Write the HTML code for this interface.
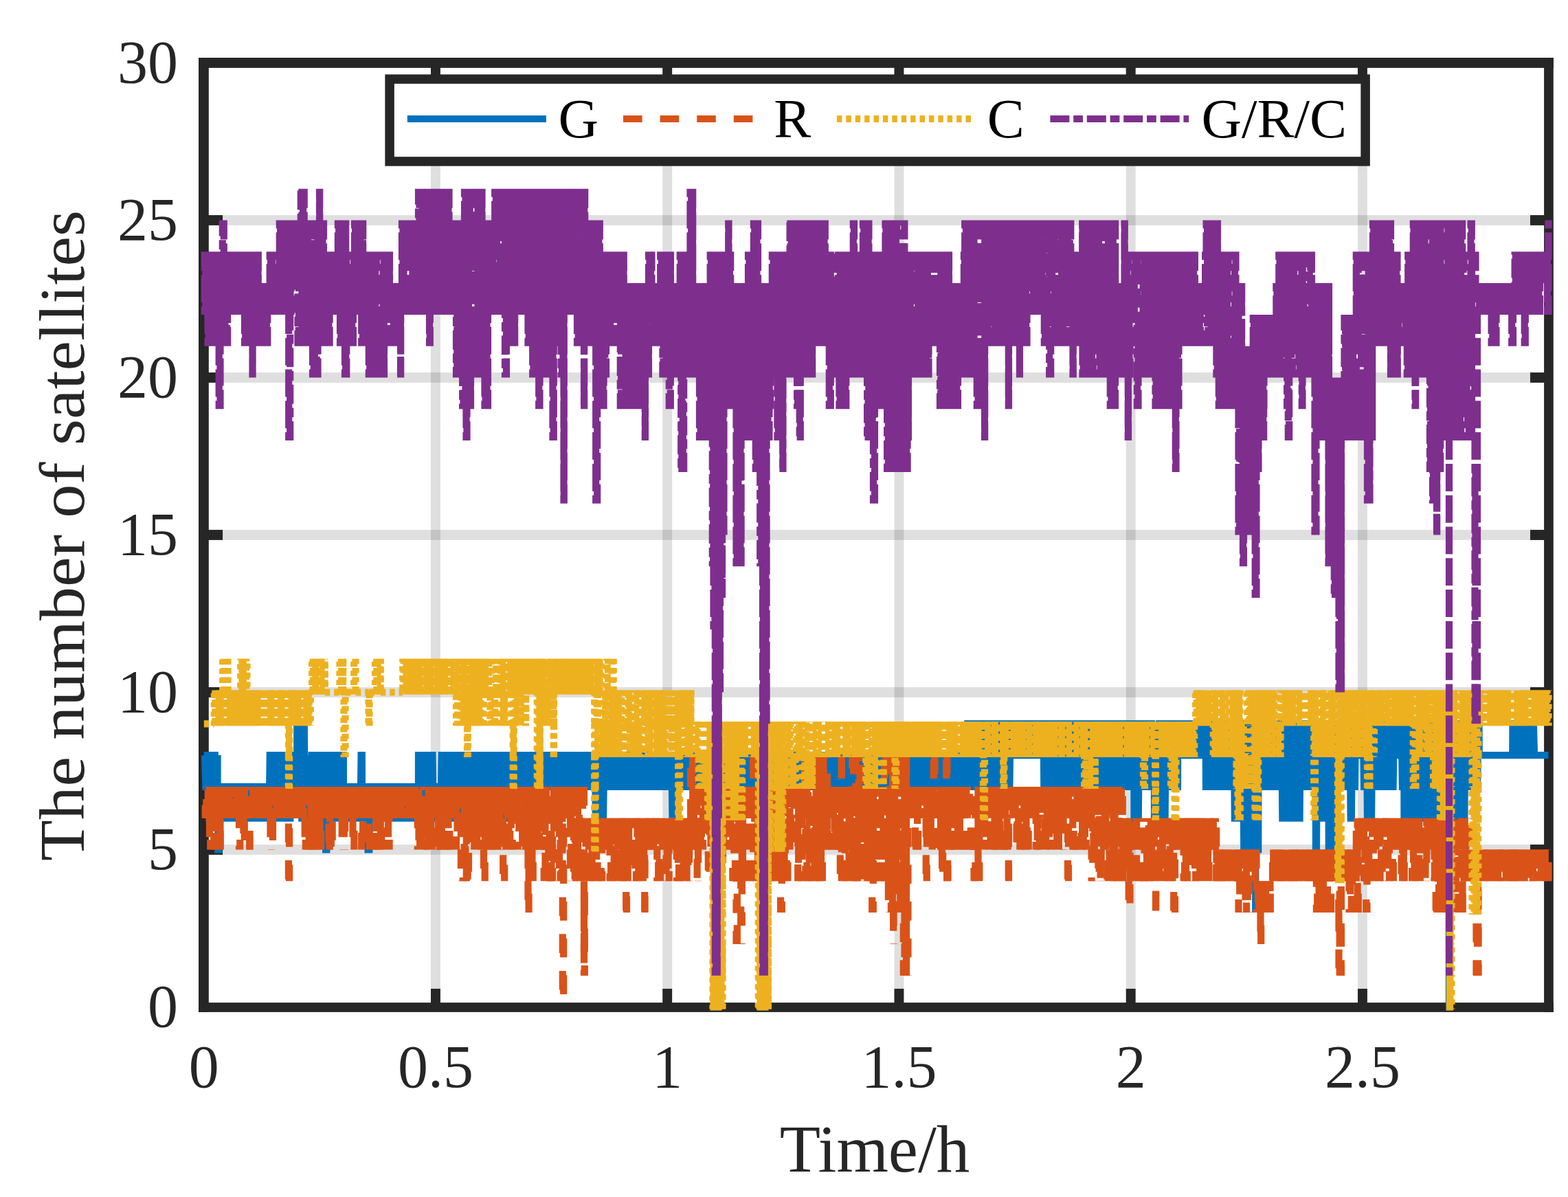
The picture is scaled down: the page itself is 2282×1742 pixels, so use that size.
<!DOCTYPE html>
<html lang="en"><head><meta charset="utf-8"><title>The number of satellites</title>
<style>
html,body{margin:0;padding:0;background:#fff;overflow:hidden}
svg{display:block}
text{font-family:"Liberation Serif",serif;fill:#262626}
.tk{font-size:88px}
.lb{font-size:97px}
.lg{font-size:81px;fill:#000}
.s{fill:none;stroke-width:10.2;stroke-linejoin:miter;stroke-linecap:butt}
</style></head>
<body>
<svg width="2282" height="1742" viewBox="0 0 2282 1742">
<rect width="2282" height="1742" fill="#fff"/>
<g fill="#262626" fill-opacity=".15">
<rect x="627.00" y="98.8" width="13.9" height="1360.3"/>
<rect x="964.25" y="98.8" width="13.9" height="1360.3"/>
<rect x="1301.50" y="98.8" width="13.9" height="1360.3"/>
<rect x="1638.75" y="98.8" width="13.9" height="1360.3"/>
<rect x="1976.00" y="98.8" width="13.9" height="1360.3"/>
<rect x="303.8" y="1229.10" width="1943.3" height="14.8"/>
<rect x="303.8" y="1000.10" width="1943.3" height="14.8"/>
<rect x="303.8" y="771.10" width="1943.3" height="14.8"/>
<rect x="303.8" y="542.10" width="1943.3" height="14.8"/>
<rect x="303.8" y="313.10" width="1943.3" height="14.8"/>
</g>
<g fill="#262626">
<rect x="289" y="84" width="14.8" height="1388.9"/>
<rect x="289" y="84" width="1971.8" height="14.8"/>
<rect x="2247.1" y="84" width="13.7" height="1388.9"/>
<rect x="289" y="1459.1" width="1971.8" height="13.8"/>
<rect x="627.00" y="1438.9" width="13.9" height="21"/>
<rect x="627.00" y="98" width="13.9" height="21.1"/>
<rect x="964.25" y="1438.9" width="13.9" height="21"/>
<rect x="964.25" y="98" width="13.9" height="21.1"/>
<rect x="1301.50" y="1438.9" width="13.9" height="21"/>
<rect x="1301.50" y="98" width="13.9" height="21.1"/>
<rect x="1638.75" y="1438.9" width="13.9" height="21"/>
<rect x="1638.75" y="98" width="13.9" height="21.1"/>
<rect x="1976.00" y="1438.9" width="13.9" height="21"/>
<rect x="1976.00" y="98" width="13.9" height="21.1"/>
<rect x="303" y="1229.10" width="21.1" height="14.8"/>
<rect x="2227" y="1229.10" width="21" height="14.8"/>
<rect x="303" y="1000.10" width="21.1" height="14.8"/>
<rect x="2227" y="1000.10" width="21" height="14.8"/>
<rect x="303" y="771.10" width="21.1" height="14.8"/>
<rect x="2227" y="771.10" width="21" height="14.8"/>
<rect x="303" y="542.10" width="21.1" height="14.8"/>
<rect x="2227" y="542.10" width="21" height="14.8"/>
<rect x="303" y="313.10" width="21.1" height="14.8"/>
<rect x="2227" y="313.10" width="21" height="14.8"/>
</g>
<path class="s" stroke="#0072BD" stroke-linejoin="round" d="M296.8 1099.1h1.2l1.3 45.8h1.2l1.2-45.8h1.3l1.2 91.6h1.2l1.3-91.6h1.2l1.2 91.6h1.3l1.2-91.6h1.2l1.3 91.6h1.2l1.3-91.6l-.1 91.6h.9l-.1 45.8h1.3l.2-91.6h1.2l1.2 45.8h1.2l1.2-45.8h1.1l1.2 45.8h1.2l1.2-45.8h1.2l1.2 45.8h1.2l1.2-45.8h1.2l1.2 45.8h1.1l1.2-45.8h1.2l1.2 45.8h1.2l1.2-45.8h1.2l1.2 45.8h1.2l1.2-45.8h1.1l1.2 45.8h1.2l1.2-45.8h1.2l1.2 45.8h1.2l1.2-45.8h1.2l1.1 45.8h1.2l1.2-45.8h1.2l1.2 45.8h1.2l1.2-45.8h1.2l1.2 45.8h1.2l1.1-45.8h1.2l1.2 45.8h1.2l1.2-45.8h1.2l1.2 45.8h1.2l1.2-45.8h1.2l1.1 45.8h1.2l1.2-45.8h1.2l1.2 45.8l.3-45.8h1.1l1.2 45.8h1.2l1.2-91.6h1.2l1.2 91.6h1.1l1.2-91.6h1.2l1.2 45.8h1.2l1.2-45.8h1.2l1.1 91.6h1.2l1.2-91.6h1.2l1.2 45.8h1.2l1.2-45.8h1.1l1.2 91.6h1.2l1.2-45.8h1.2l1.2 45.8h1.2l-.1-91.6h1.1v91.6h1.2l1.2-91.6h1.2l1.2 45.8h1.3l1.2-45.8h1.2l1.2 45.8h1.3l.2-91.6h1.2l1.1 45.8h1.2l1.2-45.8h1.1l1.2 137.4h1.2l1.1-137.4h1.2l1.2 137.4h1.1l1.2-91.6l.3 91.6h1.1l1.2-45.8h1.2l1.2 45.8h1.2l1.2-91.6h1.2l1.2 45.8h1.2l1.2-45.8h1.1l1.2 91.6h1.2l1.2-91.6h1.2l1.2 91.6h1.2l1.2-91.6h1.2l1.2 91.6h1.2l.2-91.6h1.2l1.1 137.4h1.2l1.2-137.4h1.1l1.2 137.4l.3-137.4h1.2l1.2 91.6h1.2l1.2-91.6h1.3l1.2 91.6h1.2l1.2-91.6h1.2l1.3 91.6h1.2l1.2-91.6h1.2l1.2 91.6h1.3l1.2-91.6h1.2l.3 91.6h1.2l1.2-45.8h1.2l1.2 45.8h1.2l1.2-45.8h1.2l1.2 45.8h1.2l1.3-45.8h1.2l1.2 45.8h1.2l1.2-45.8h1.2l1.2 45.8h1.2l1.2-45.8h1.3l.2 45.8h1.2l1.1-91.6h1.2l.3 91.6h1.1l1.2-45.8h1.2l1.2 45.8h1.1l1.2-45.8h1.2l.3 91.6h1.7l.3-91.6h1.2l1.2 45.8h1.2l1.2-45.8h1.2l1.2 45.8h1.2l1.2-45.8h1.2l1.2 45.8h1.2l1.2-45.8h1.2l1.3 45.8h1.2l1.2-45.8h1.2l1.2 45.8h1.2l1.2-45.8h1.2l1.2 45.8h1.2l1.2-45.8h1.2l1.2 45.8h1.3l1.2-45.8h1.2l1.2 45.8h1.2l1.2-45.8h1.2l1.2 45.8h1.2l1.2-45.8h1.2l1.2 45.8h1.2l1.3-45.8h1.2l1.2 45.8h1.2l1.2-45.8h1.2l1.2 45.8h1.2l1.2-45.8h1.2l1.2 45.8h1.2l1.2-45.8h1.3l1.2 45.8h1.2l1.2-45.8h1.2l1.2 45.8h1.2l.2-91.6h1.3l1.2 91.6h1.2l1.2-91.6h1.2l1.2 45.8h1.2l1.2-45.8h1.2l1.2 91.6h1.2l1.2-45.8h1.2l1.2 45.8h1.2l1.2-91.6h1.2l1.2 91.6h1.2l1.2-45.8h1.2l1.2 45.8h1.2l1.2-45.8h1.2l1.2 45.8h1.2l1.2-91.6h1.2l1.2 91.6h1.2l1.2-91.6h1.2l1.2 45.8h1.2l1.2-45.8h1.2l1.2 91.6h1.2l1.2-91.6h1.2l1.2 91.6h1.2l1.2-91.6h1.2l1.2 91.6h1.2l1.2-91.6h1.2l1.2 91.6h1.2l1.2-91.6h1.2l1.2 91.6h1.2l1.2-91.6h1.2l1.2 45.8h1.2l1.2-45.8h1.2l1.2 45.8h1.2l1.2-45.8h1.2l1.2 91.6h1.2l1.2-91.6h1.2l1.2 91.6h1.2l1.2-91.6h1.2l1.2 91.6h1.2l1.2-91.6h1.2l1.2 91.6h1.2l1.2-91.6h1.2l1.2 91.6h1.2l1.2-91.6h1.2l1.2 91.6h1.2l1.2-91.6h1.2l1.2 91.6h1.2l1.2-91.6h1.2l1.2 91.6h1.2l1.2-91.6h1.2l1.2 91.6h1.2l1.2-91.6h1.2l1.2 91.6h1.2l1.2-91.6h1.2l1.2 91.6h1.2l1.2-45.8h1.2l1.2 45.8h1.2l1.2-91.6h1.2l1.2 91.6h1.2l1.2-91.6h1.2l1.2 91.6h1.2l1.2-91.6h1.2l1.2 91.6h1.2l1.2-91.6h1.2l1.2 91.6h1.2l1.2-91.6h1.2l1.2 45.8h1.2l1.2-45.8h1.2l1.2 91.6h1.2l1.2-91.6h1.2l1.2 91.6h1.2l1.2-91.6h1.2l1.2 91.6h1.2l1.2-91.6h1.2l1.2 91.6h1.2l.3-91.6h1.2l1.2 45.8h1.2l1.2-45.8h1.2l1.2 45.8h1.2l1.2-45.8h1.2l1.3 45.8h1.2l1.2-45.8h1.2l1.2 45.8h1.2l1.2-45.8h1.2l1.2 45.8h1.2l1.2-45.8h1.2l1.2 45.8h1.2l1.2-45.8h1.2l1.2 45.8h1.2l1.2-45.8h1.3l1.2 45.8h1.2l1.2-45.8h1.2l1.2 45.8h1.2l1.2-45.8h1.2l1.2 45.8h1.2l1.2-45.8h1.2l1.2 45.8h1.2l1.2-45.8h1.2l1.2 45.8h1.2l1.3-45.8h1.2l1.2 45.8h1.2l1.2-45.8h1.2l1.2 45.8h1.2l1.2-45.8h1.2l1.2 45.8h1.2l1.2-45.8h1.2l1.2 45.8h1.2l1.2-45.8h1.2l1.2 45.8h1.2l.3 45.8h1.2l1.3-45.8h1.2l1.3 45.8h1.2l1.3-91.6h1.2l1.3 91.6h1.2l1.3-91.6l.2 45.8h1.3l1.2-45.8h1.2l1.2 45.8h1.2l1.2-45.8h1.2l1.2 45.8h1.2l1.2-45.8h1.2l1.2 45.8h1.2l1.2-45.8h1.2l1.2 45.8h1.2l1.2-45.8h1.2l1.3 45.8h1.2l1.2-45.8h1.2l1.2 45.8h1.2l1.2-45.8h1.2l1.2 45.8h1.2l1.2-45.8h1.2l1.2 45.8h1.2l1.2-45.8h1.2l1.2 45.8h1.2l1.2-45.8h1.2l1.3 45.8h1.2l1.2-45.8h1.2l1.2 45.8h1.2l1.2-45.8h1.2l1.2 45.8h1.2l1.2-45.8h1.2l1.2 45.8h1.2l1.2-45.8h1.2l1.2 45.8h1.2l1.2-45.8h1.3l1.2 45.8h1.2l1.2-45.8h1.2l1.2 45.8h1.2l1.2-45.8h1.2l1.2 45.8h1.2l1.2-45.8h1.2l1.2 45.8h1.2l1.2-45.8h1.2l1.2 45.8h1.2l1.2-45.8l.3 45.8h1.2l1.2-45.8h1.2l1.1 91.6l.3-91.6h1.2l1.2 45.8h1.2l1.2-45.8h1.3l1.2 45.8h1.2l1.2-45.8h1.2l1.2 45.8h1.2l1.2-45.8h1.2l1.3 45.8h1.2l1.2-45.8h1.2l1.2 45.8h1.2l1.2-45.8h1.2l1.2 45.8h1.2l1.3-45.8h1.2l1.2 45.8h1.2l1.2-45.8h1.2l1.2 45.8h1.2l1.2-45.8h1.3l1.2 45.8h1.2l1.2-45.8h1.2l1.2 45.8h1.2l1.2-45.8h1.2l1.3 45.8h1.2l1.2-45.8h1.2l1.2 45.8h1.2l1.2-45.8h1.2l1.2 45.8h1.2l.3 320.6h1.4l1.3-366.4l.3 45.8h1.2l1.2-45.8h1.2l1.2 45.8h1.2l1.2-45.8h1.2l1.2 45.8h1.2l1.2-45.8h1.2l1.2 45.8h1.2l1.2-45.8h1.2l1.2 45.8h1.2l1.2-45.8h1.2l1.2 45.8h1.2l1.2-45.8h1.2l1.2 45.8h1.2l1.2-45.8h1.2l1.2 45.8h1.2l1.2-45.8h1.2l1.2 45.8h1.2l1.2-45.8h1.2l1.2 45.8h1.2l1.2-45.8h1.2l1.2 45.8h1.2l1.2-45.8h1.2l1.2 45.8h1.2l1.2-45.8h1.2l1.2 45.8h1.2l1.2-45.8h1.2l1.2 45.8h1.2l1.2-45.8h1.2l.2 366.4h1.3l1.2-366.4l.3 45.8h1.2l1.2-45.8h1.2l1.3 45.8h1.2l1.2-45.8h1.2l1.2 45.8h1.2l1.2-45.8h1.3l1.2 45.8h1.2l1.2-45.8h1.2l1.2 45.8h1.2l1.3-45.8h1.2l1.2 45.8h1.2l1.2-45.8h1.2l1.2 45.8h1.3l1.2-45.8h1.2l1.2 45.8h1.2l1.2-45.8h1.2l1.3 45.8h1.2l1.2-45.8h1.2l1.2 45.8h1.2l1.2-45.8h1.3l1.2 45.8h1.2l1.2-45.8l.2 91.6h1l1-91.6l.3 45.8h1.2l1.2-45.8h1.2l1.2 45.8h1.2l1.2-45.8h1.2l1.2 45.8h1.2l1.2-45.8h1.2l1.2 45.8h1.2l1.2-45.8h1.2l1.2 45.8h1.2l1.3-45.8h1.2l1.2 45.8h1.2l1.2-45.8h1.2l1.2 45.8h1.2l1.2-45.8h1.2l1.2 45.8h1.2l1.2-45.8h1.2l1.2 45.8h1.2l1.2-45.8h1.2l1.2 45.8h1.2l1.2-45.8h1.2l1.2 45.8h1.2l1.2-45.8h1.2l1.2 45.8h1.2l1.2-45.8h1.2l1.2 45.8h1.2l1.2-45.8h1.2l1.2 45.8h1.3l1.2-45.8h1.2l1.2 45.8h1.2l1.2-45.8h1.2l1.2 45.8h1.2l1.2-45.8h1.2l1.2 45.8h1.2l1.2-45.8h1.2l1.2 45.8h1.2l1.2-45.8h1.2l1.2 45.8h1.2l1.2-45.8h1.2l1.2 45.8h1.2l1.2-45.8h1.2l1.2 45.8h1.2l1.2-45.8h1.2l1.2 45.8h1.2l1.2-45.8h1.3l1.2 45.8h1.2l1.2-45.8h1.2l1.2 45.8h1.2l1.2-45.8h1.2l1.2 45.8h1.2l1.2-45.8h1.2l1.2 45.8h1.2l1.2-45.8h1.2l1.2 45.8h1.2l1.2-45.8h1.2l1.2 45.8h1.2l1.2-45.8h1.2l1.2 45.8h1.2l1.2-45.8h1.2l1.2 45.8h1.2l1.2-45.8h1.2l1.2 45.8h1.2l1.3-45.8h1.2l1.2 45.8h1.2l1.2-45.8h1.2l1.2 45.8h1.2l1.2-45.8h1.2l1.2 45.8h1.2l1.2-45.8h1.2l1.2 45.8h1.2l1.2-45.8h1.2l1.2 45.8h1.2l1.2-45.8h1.2l1.2 45.8h1.2l1.2-45.8h1.2l1.2 45.8h1.2l1.2-45.8h1.2l1.2 45.8h1.2l1.2-45.8h1.2l1.2 45.8h1.3l1.2-45.8h1.2l1.2 45.8h1.2l1.2-45.8h1.2l1.2 45.8h1.2l1.2-45.8h1.2l1.2 45.8h1.2l1.2-45.8h1.2l1.2 45.8h1.2l1.2-45.8h1.2l1.2 45.8h1.2l1.2-45.8h1.2l1.2 45.8h1.2l1.2-45.8h1.2l1.2 45.8h1.2l1.2-45.8h1.2l1.2 45.8h1.2l1.2-45.8h1.2l.3 45.8h1.2l1.2-45.8h1.2l1.2 45.8h1.2l1.2-45.8h1.2l1.2 45.8h1.2l1.2-91.6h1.2l1.2 91.6h1.2l1.2-91.6h1.2l1.2 91.6h1.2l1.2-91.6h1.2l1.2 91.6h1.1l1.2-91.6h1.2l1.2 91.6h1.2l1.2-91.6h1.2l1.2 91.6h1.2l1.2-45.8h1.2l1.2 45.8h1.2l1.2-91.6h1.2l1.2 91.6h1.2l1.2-45.8h1.2l1.2 45.8h1.2l1.2-91.6h1.2l1.2 91.6h1.2l1.2-45.8h1.2l1.2 45.8h1.2l1.2-91.6h1.2l1.2 91.6h1.2l1.2-91.6h1.2l1.2 91.6h1.2l1.2-91.6h1.2l1.2 91.6h1.2l1.1-91.6l.3 45.8h1.2l1.2-45.8h1.2l1.2 45.8h1.2l1.2-45.8h1.2l1.2 45.8h1.3l1.2-45.8h1.2l1.2 45.8h1.2l1.2-45.8h1.2l1.2 45.8h1.2l1.2-45.8h1.2l1.2 45.8h1.2l1.2-45.8h1.2l1.2 45.8h1.3l1.2-45.8h1.2l1.2 45.8h1.2l1.2-45.8h1.2l1.2 45.8h1.2l1.2-45.8h1.2l1.2 45.8h1.2l1.2-45.8h1.2l1.2 45.8l.3 45.8h1.2l1.2-91.6h1.2l1.2 91.6h1.2l1.2-91.6h1.2l1.2 91.6h1.2l1.2-91.6h1.2l1.2 45.8h1.2l1.2-45.8h1.2l1.2 91.6h1.2l1.2-91.6h1.2l1.2 91.6h1.2l1.2-91.6h1.2l1.2 45.8h1.2l1.2-45.8h1.2l1.3 91.6h1.2l1.2-45.8h1.2l1.2 45.8h1.2l1.2-91.6h1.2l1.2 91.6h1.2l1.2-91.6h1.2l1.2 45.8h1.2l1.2-45.8h1.2l1.2 91.6h1.2l1.2-91.6h1.2l1.2 45.8h1.2l1.2-45.8h1.2l1.2 91.6h1.2l1.2-91.6h1.2l1.2 45.8h1.2l1.2-45.8h1.2l1.2 91.6h1.2l1.2-91.6h1.2l1.2 91.6h1.2l1.2-91.6h1.2l1.2 91.6h1.2l1.2-91.6h1.2l1.2 45.8h1.2l1.2-45.8h1.2l1.2 91.6h1.2l1.2-45.8h1.2l1.2 45.8h1.2l1.3-91.6h1.2l1.2 91.6h1.2l1.2-91.6h1.2l1.2 91.6h1.2l1.2-91.6h1.2l1.2 45.8h1.2l1.2-45.8h1.2l1.2 91.6h1.2l1.2-91.6h1.2l1.2 45.8h1.2l1.2-45.8h1.2l1.2 91.6h1.2l1.2-91.6h1.2l1.2 45.8h1.2l.2 91.6h1.3l1.2-137.4h1.3l1.2 137.4h1.3l1.2-137.4l.3 91.6h1.2l1.2-91.6h1.2l1.2 91.6h1.2l1.2-45.8h1.2l1.2 45.8h1.1l1.2-91.6h1.2l1.2 91.6h1.2l1.2-91.6h1.2l1.2 45.8h1.2l1.2-45.8l.2 137.4h1.2l1.2-91.6h1.2l1.2 91.6h1.2l1.2-137.4h1.2l1.2 137.4h1.2l1.2-45.8h1.2l1.2 45.8h1.2l1.2-137.4h1.2l.3 91.6h1.2l1.2-91.6h1.2l1.2 91.6h1.3l1.2-91.6h1.2l1.2 91.6h1.2l1.2-91.6h1.2l1.2 91.6h1.2l.3-91.6h1.2l1.2 45.8h1.2l1.2-45.8h1.2l1.1 45.8h1.2l1.2-45.8h1.2l1.2 45.8h1.2l1.2-45.8h1.2l1.2 45.8h1.2l1.2-45.8h1.1l1.2 45.8h1.2l1.2-45.8h1.2l1.2 45.8h1.2l1.2-45.8h1.2l1.2 45.8h1.2l1.2-45.8h1.1l1.2 45.8h1.2l1.2-45.8h1.2l1.2 45.8l.2 45.8h1.2l1.2-91.6h1.2l1.2 45.8h1.2l1.2-45.8h1.2l1.2 91.6h1.2l1.1-91.6h1.2l1.2 91.6h1.2l1.2-91.6h1.2l1.2 91.6h1.2l1.2-91.6h1.1l1.2 91.6h1.2l1.2-45.8h1.2l1.2 45.8h1.2l1.2-91.6h1.2l1.2 45.8h1.1l1.2-45.8h1.2l1.2 91.6h1.2l.2-91.6h1.2l1.2 137.4h1.2l1.2-137.4h1.2l1.1 91.6h1.2l1.2-91.6h1.2l1.2 137.4h1.1l.3-137.4h1.2l1.3 183.2h1.2l1.2-183.2h1.3l1.2 183.2h1.2l1.3-183.2h1.2l1.2 91.6h1.3l1.2-91.6h1.2l1.2 183.2l.3-183.2h1l1 274.8l.2-183.2h1.3l1.2 91.6h1.3l.2-183.2h1.2l1.2 45.8h1.2l1.2-45.8h1.2l1.2 91.6h1.2l1.2-91.6h1.2l1.2 91.6h1.2l1.2-91.6h1.2l1.2 91.6h1.2l1.2-91.6h1.2l1.1 91.6h1.2l1.2-91.6h1.2l1.2 91.6h1.2l1.2-45.8h1.2l1.2 45.8h1.2l.2-91.6h1.2l1.2 137.4h1.2l1.2-137.4h1.2l1.2 137.4h1.2l1.2-137.4h1.2l1.2 45.8h1.2l1.2 45.8h1.2l1.2 45.8h1.2l1.2-137.4h1.2l1.2 137.4h1.2l1.2-137.4h1.2l1.2 137.4h1.2l1.2-137.4h1.2l.3 45.8h1.2l1.2-45.8h1.2l1.2 91.6h1.2l1.2-91.6h1.2l1.2 45.8h1.3l1.2-45.8h1.2l1.2 91.6h1.2l1.2-91.6h1.2l1.2 91.6h1.2l.2 91.6h1l1-183.2l.3 137.4h1.2l1.1-137.4h1.2l1.1 137.4h1.2l1.2-137.4h1.1l1.2 137.4h1.1l1.2-137.4h1.2l1.1 137.4h1.2l1.1-137.4l.3 183.2h1.2l1.2-183.2h1.2l1.2 183.2h1.2l.2-183.2h1.3l1.2 45.8h1.2l1.2-45.8h1.2l1.2 91.6h1.2l1.2-91.6h1.2l1.3 91.6h1.2l1.2-45.8h1.2l1.2 45.8h1.2l1.2-91.6h1.2l1.2 91.6h1.2l.3-91.6h1.2l1.2 137.4h1.2l1.3-137.4h1.2l1.2 91.6h1.2l1.2-91.6h1.2l1.2 45.8h1.3l1.2-45.8h1.2l1.2 45.8h1.2l1.2-45.8h1.2l1.3 91.6h1.2l1.2-91.6h1.2l1.2 137.4h1.2l1.2-137.4h1.3l1.2 137.4h1.2l1.2-137.4l.2 91.6h1.3l1.2-91.6h1.2l1.2 91.6h1.2l1.2-91.6h1.2l1.2 91.6h1.2l1.2-91.6h1.2l1.2 91.6h1.2l1.2-91.6h1.2l1.2 45.8h1.2l1.2-45.8h1.2l1.2 91.6h1.2l1.2-91.6h1.2l1.2 91.6h1.2l1.3-91.6h1.2l1.2 45.8h1.2l1.2-45.8h1.2l1.2 45.8h1.2l1.2-45.8h1.2l1.2 91.6h1.2l1.2-45.8l.2 91.6h1.3l1.2-137.4h1.2l1.2 137.4h1.2l1.2-137.4h1.2l1.2 91.6h1.2l1.2-91.6h1.2l1.2 137.4h1.3l1.2-137.4h1.2l1.2 137.4h1.2l1.2-137.4h1.2l1.2 137.4h1.2l1.2-137.4h1.2l1.2 137.4h1.3l1.2-91.6h1.2l1.2 91.6h1.2l1.2-137.4h1.2l1.2 137.4h1.2l1.2-137.4h1.2l1.2 137.4h1.3l1.2-137.4h1.2l1.2 137.4h1.2l1.2-137.4h1.2l1.2 137.4h1.2l1.2-137.4h1.2l1.2 137.4h1.3l1.2-137.4h1.2l1.2 137.4h1.2l1.2-137.4l.2 412.2h1l1-412.2l.3 137.4h1.2l1.2-137.4h1.2l1.1 137.4h1.2l1.2-45.8h1.2l1.2-45.8h1.2l1.1-45.8h1.2l1.2 137.4h1.2l1.2-91.6h1.2l1.1 91.6h1.2l1.2-137.4h1.2l.2 91.6h1.3l1.2-91.6h1.2l1.3 91.6h1.2l1.2-91.6h1.3l1.2 91.6h1.2l1.3-45.8h1.2l1.2 45.8h1.3l1.2-91.6h1.2l.3 45.8h48.5l.2-45.8h1.3l1.2 45.8h1.2l1.2-45.8h1.2l1.2 45.8h1.2l1.3-45.8h1.2l1.2 45.8h1.2l1.2-45.8h1.2l1.2 45.8h1.2l1.3-45.8h1.2l1.2 45.8h1.2l1.2-45.8h1.2l1.2 45.8h1.2l1.3-45.8h1.2l1.2 45.8h1.2h.2h19"/>
<path class="s" stroke="#D95319" stroke-dasharray="27.6 26" stroke-dashoffset="-6.4" d="M421.1 1144.9v137.4M734.2 1144.9v137.4M820.2 1144.9v320.6M850 1190.7v229M850.8 1190.7v229M912 1190.7v137.4M937.5 1190.7v91.6M938.5 1190.7v137.4M1096.2 1099.1v183.2M1137.8 1144.9v183.2M1224.8 1099.1v183.2M1270.8 1144.9v183.2M1287.2 1099.1v183.2M1321.5 1144.9v274.8M1348.8 1144.9v137.4M1358.8 1099.1v91.6M1360.8 1144.9v91.6M1377.2 1099.1v137.4M1378.2 1144.9v137.4M1379.5 1144.9v137.4M1467 1144.9v91.6M1468 1144.9v137.4M1555 1144.9v137.4M1680 1190.7v91.6M1682.2 1236.5v91.6M1710 1190.7v137.4M1949.7 1236.5v183.2M1952 1236.5v183.2M2150 1236.5v183.2M2151.5 1236.5v183.2"/>
<path class="s" stroke="#D95319" stroke-dasharray="27.6 26" stroke-dashoffset="0" d="M300.3 1190.7v-45.8M305 1190.7v45.8M308.2 1144.9v45.8M314.6 1144.9v45.8M315.8 1190.7v-45.8M319 1190.7v-45.8M320.5 1144.9v45.8M320.5 1190.7v45.8M320.8 1236.5v-45.8M320.8 1190.7v-45.8M323.6 1190.7v-45.8M325.5 1144.9v45.8M328.8 1144.9v45.8M332.2 1144.9v45.8M337 1190.7v-45.8M344.9 1144.9v45.8M347.8 1144.9v45.8M351 1144.9v45.8M352.7 1190.7v-45.8M363.5 1236.5v-45.8M363.5 1190.7v-45.8M367 1190.7v-45.8M371.6 1144.9v45.8M373.1 1190.7v-45.8M374.8 1144.9v45.8M375.8 1190.7v-45.8M380.8 1144.9v45.8M382.1 1190.7v-45.8M383.6 1144.9v45.8M385.7 1190.7v-45.8M388.6 1190.7v-45.8M390.4 1144.9v45.8M391.5 1190.7v-45.8M393.2 1144.9v45.8M393.5 1190.7v45.8M396.8 1144.9v45.8M396.8 1190.7v45.8M399 1144.9v45.8M402.1 1144.9v45.8M403.2 1190.7v-45.8M408.6 1144.9v45.8M412.2 1144.9v45.8M416.3 1190.7v-45.8M419.9 1144.9v137.4M421 1144.9v45.8M422.8 1190.7v-45.8M423.8 1144.9v45.8M430.4 1144.9v45.8M432.5 1190.7v-45.8M437.1 1144.9v45.8M443.7 1144.9v45.8M443.7 1190.7v45.8M449.7 1144.9v91.6M454.7 1236.5v-91.6M460.9 1190.7v-45.8M463.8 1236.5v-91.6M465.5 1144.9v45.8M465.5 1190.7v45.8M467.1 1236.5v-45.8M467.1 1190.7v-45.8M473.9 1190.7v-45.8M475.3 1144.9v45.8M477.2 1190.7v-45.8M478.6 1144.9v91.6M486.2 1190.7v-45.8M489.3 1190.7v-45.8M496.3 1190.7v-45.8M497.7 1144.9v45.8M497.7 1190.7v45.8M500.8 1144.9v45.8M500.8 1190.7v45.8M508.7 1190.7v-45.8M513.5 1144.9v45.8M513.5 1190.7v45.8M515.4 1236.5v-91.6M525 1190.7v-45.8M529.5 1144.9v45.8M530.9 1190.7v-45.8M534.1 1190.7v-45.8M536.3 1144.9v91.6M537.9 1236.5v-91.6M540.7 1190.7v-45.8M558.6 1144.9v45.8M559.9 1190.7v-45.8M561.8 1144.9v45.8M562.7 1190.7v-45.8M565 1144.9v45.8M565 1190.7v45.8M569.5 1190.7v-45.8M574.6 1190.7v-45.8M578.9 1144.9v45.8M580.9 1190.7v-45.8M582.7 1144.9v45.8M584.1 1190.7v-45.8M585.4 1144.9v45.8M588.7 1144.9v45.8M599.9 1190.7v-45.8M604.4 1144.9v45.8M605.8 1190.7v-45.8M613.9 1190.7v45.8M622.3 1236.5v-45.8M622.3 1190.7v-45.8M623.6 1144.9v45.8M623.6 1190.7v45.8M627.3 1144.9v45.8M627.3 1190.7v45.8M628.7 1236.5v-45.8M628.7 1190.7v-45.8M641.2 1236.5v-45.8M641.2 1190.7v-45.8M642.8 1144.9v45.8M642.8 1190.7v45.8M644.8 1236.5v-45.8M644.8 1190.7v-45.8M650.7 1236.5v-45.8M650.7 1190.7v-45.8M654.4 1236.5v-91.6M658.8 1144.9v45.8M660.7 1190.7v-45.8M662.4 1144.9v45.8M663.8 1190.7v-45.8M667 1144.9v45.8M670.9 1144.9v45.8M670.9 1190.7v45.8M670.9 1236.5v45.8M678.8 1282.3v-137.4M680.6 1144.9v137.4M682.2 1144.9v45.8M687.1 1190.7v-45.8M690.3 1236.5v-91.6M692.4 1144.9v45.8M692.4 1190.7v45.8M694.2 1236.5v-91.6M695.6 1144.9v45.8M697.4 1190.7v-45.8M704 1144.9v45.8M704 1190.7v45.8M704 1236.5v45.8M705.7 1282.3v-137.4M707.3 1144.9v91.6M708.6 1236.5v-45.8M708.6 1190.7v-45.8M710 1144.9v45.8M710.2 1190.7v45.8M711.7 1236.5v-45.8M711.7 1190.7v-45.8M715 1236.5v-45.8M715 1190.7v-45.8M724.4 1236.5v-91.6M726.2 1144.9v45.8M728.6 1144.9v91.6M732 1144.9v45.8M732.2 1190.7v91.6M734.5 1144.9v91.6M736.4 1236.5v-91.6M739 1190.7v-45.8M742.2 1236.5v-45.8M742.2 1190.7v-45.8M747.6 1144.9v45.8M749 1190.7v-45.8M750.3 1144.9v45.8M763.5 1144.9v45.8M763.5 1190.7v45.8M765.1 1236.5v-91.6M768.5 1144.9v45.8M768.5 1190.7v45.8M768.5 1236.5v45.8M768.5 1282.3v45.8M769.6 1328.1v-45.8M769.6 1282.3v-45.8M769.6 1236.5v-45.8M769.6 1190.7v-45.8M771.6 1144.9v45.8M774.5 1144.9v45.8M774.5 1190.7v45.8M774.5 1236.5v45.8M775.8 1282.3v-45.8M775.8 1236.5v-45.8M775.8 1190.7v-45.8M790.5 1190.7v-45.8M795.1 1144.9v45.8M796.7 1190.7v-45.8M802.5 1282.3v-45.8M802.5 1236.5v-45.8M802.5 1190.7v-45.8M808.8 1190.7v-45.8M812.5 1190.7v-45.8M814 1144.9v45.8M814 1190.7v45.8M814 1236.5v45.8M818.8 1144.9v320.6M820.5 1144.9v45.8M823.7 1144.9v45.8M825.3 1190.7v-45.8M826.6 1144.9v45.8M830 1144.9v45.8M830 1190.7v45.8M830 1236.5v45.8M833.4 1144.9v45.8M833.4 1190.7v45.8M833.4 1236.5v45.8M836.7 1144.9v137.4M846.4 1144.9v137.4M850 1144.9v45.8M850 1190.7v45.8M850 1236.5v45.8M850 1282.3v45.8M850 1328.1v45.8M850 1373.9v45.8M850.8 1190.7v229M855.2 1190.7v45.8M856.9 1236.5v-45.8M860.7 1282.3v-91.6M861.6 1190.7v45.8M861.6 1236.5v45.8M863.6 1282.3v-91.6M869.6 1282.3v-45.8M869.6 1236.5v-45.8M871.7 1190.7v45.8M879.6 1236.5v-45.8M884.5 1190.7v45.8M889.1 1282.3v-45.8M892.2 1282.3v-91.6M895.6 1282.3v-91.6M896.6 1190.7v45.8M900.4 1190.7v45.8M900.4 1236.5v45.8M901.5 1282.3v-91.6M903.6 1190.7v45.8M903.6 1236.5v45.8M905.2 1282.3v-91.6M911.2 1282.3v-45.8M911.2 1236.5v-45.8M911.2 1190.7v137.4M912 1190.7v91.6M913.7 1282.3v-91.6M924.4 1236.5v45.8M927.5 1190.7v45.8M927.5 1236.5v45.8M929.3 1282.3v-45.8M929.3 1236.5v-45.8M934.3 1190.7v45.8M934.3 1236.5v45.8M937.2 1190.7v45.8M937.2 1236.5v45.8M938.2 1190.7v137.4M940.1 1190.7v45.8M942.1 1236.5v-45.8M948.2 1236.5v-45.8M951.3 1236.5v-45.8M953.3 1190.7v45.8M958.2 1282.3v-45.8M961.1 1282.3v-91.6M962.5 1190.7v45.8M966.3 1190.7v45.8M967.3 1236.5v-45.8M969.5 1190.7v91.6M972.5 1236.5v45.8M978.6 1190.7v45.8M983.6 1236.5v-45.8M996.8 1282.3v-45.8M996.8 1236.5v-45.8M999.6 1282.3v-45.8M999.6 1236.5v-45.8M1003.2 1190.7v45.8M1005.1 1236.5v-45.8M1005.1 1190.7v-45.8M1005.1 1144.9v-45.8M1008.2 1099.1v45.8M1008.2 1144.9v45.8M1008.2 1190.7v45.8M1013 1236.5v-91.6M1018.3 1144.9v45.8M1018.3 1190.7v45.8M1020.9 1144.9v45.8M1020.9 1190.7v45.8M1024.5 1144.9v45.8M1027.2 1144.9v45.8M1038.8 1190.7v-45.8M1042.1 1282.3v-45.8M1042.1 1236.5v-45.8M1042.1 1190.7v-45.8M1049 1236.5v-91.6M1050.1 1144.9v45.8M1050.1 1190.7v45.8M1050.1 1236.5v45.8M1053.2 1144.9v91.6M1056.4 1144.9v45.8M1056.4 1190.7v45.8M1060.2 1144.9v45.8M1061.7 1190.7v-45.8M1063.5 1144.9v45.8M1063.5 1190.7v45.8M1070 1144.9v137.4M1072.8 1373.9v-45.8M1072.8 1328.1v-45.8M1072.8 1282.3v-45.8M1072.8 1236.5v-45.8M1072.8 1190.7v-45.8M1075 1144.9v45.8M1075 1190.7v45.8M1081 1144.9v45.8M1081 1190.7v45.8M1081 1236.5v45.8M1081.2 1282.3v-45.8M1081.2 1236.5v-45.8M1081.2 1190.7v-45.8M1083.2 1144.9v45.8M1085.7 1144.9v45.8M1089.1 1144.9v137.4M1091.2 1282.3v-45.8M1091.2 1236.5v-45.8M1091.2 1190.7v-45.8M1094 1190.7v-45.8M1094.2 1144.9v137.4M1096.5 1099.1v137.4M1099.8 1144.9v137.4M1101.2 1282.3v-45.8M1101.2 1236.5v-45.8M1101.2 1190.7v-45.8M1102.9 1144.9v45.8M1102.9 1190.7v45.8M1102.9 1236.5v45.8M1105.6 1144.9v91.6M1109 1144.9v137.4M1112.1 1144.9v45.8M1112.1 1190.7v45.8M1112.1 1236.5v45.8M1113.8 1282.3v-45.8M1113.8 1236.5v-45.8M1113.8 1190.7v-45.8M1115.2 1144.9v45.8M1124.4 1144.9v45.8M1124.4 1190.7v45.8M1124.4 1236.5v45.8M1126.5 1282.3v-45.8M1126.5 1236.5v-45.8M1126.5 1190.7v-45.8M1130.9 1144.9v45.8M1130.9 1190.7v45.8M1130.9 1236.5v45.8M1132.4 1282.3v-137.4M1134 1144.9v45.8M1134 1190.7v45.8M1134 1236.5v45.8M1136 1144.9v183.2M1138 1144.9v45.8M1141.6 1144.9v45.8M1141.6 1190.7v45.8M1141.6 1236.5v45.8M1144.7 1144.9v137.4M1146.4 1282.3v-137.4M1147.7 1144.9v45.8M1147.7 1190.7v45.8M1157.8 1144.9v91.6M1170.7 1190.7v-91.6M1172.4 1099.1v183.2M1174.4 1282.3v-183.2M1176.2 1099.1v183.2M1188.8 1099.1v45.8M1188.8 1144.9v45.8M1188.8 1190.7v45.8M1188.8 1236.5v45.8M1192.5 1099.1v183.2M1195 1099.1v45.8M1195 1144.9v45.8M1195 1190.7v45.8M1195 1236.5v45.8M1196.9 1282.3v-45.8M1196.9 1236.5v-45.8M1196.9 1190.7v-45.8M1196.9 1144.9v-45.8M1198.5 1099.1v45.8M1198.5 1144.9v45.8M1198.5 1190.7v45.8M1200.2 1236.5v-45.8M1201.6 1190.7v45.8M1204.9 1236.5v-45.8M1204.9 1190.7v-45.8M1207.2 1144.9v45.8M1208.4 1190.7v-45.8M1210.2 1144.9v45.8M1211.3 1190.7v-45.8M1216 1144.9v45.8M1216 1190.7v45.8M1218.1 1236.5v-91.6M1222.8 1190.7v91.6M1225 1099.1v137.4M1226.6 1236.5v-45.8M1226.6 1190.7v-45.8M1228.1 1144.9v137.4M1242 1099.1v183.2M1243.9 1282.3v-183.2M1251.8 1144.9v45.8M1253.7 1190.7v-45.8M1255.3 1144.9v137.4M1258.1 1144.9v45.8M1258.1 1190.7v45.8M1262.4 1282.3v-45.8M1262.4 1236.5v-45.8M1262.4 1190.7v-45.8M1269.2 1144.9v183.2M1271 1144.9v137.4M1275.4 1236.5v-45.8M1275.4 1190.7v-45.8M1279 1282.3v-45.8M1279 1236.5v-45.8M1279 1190.7v-45.8M1281.8 1282.3v-45.8M1281.8 1236.5v-45.8M1281.8 1190.7v-45.8M1283.7 1144.9v45.8M1285.5 1190.7v45.8M1289.2 1099.1v183.2M1289.5 1282.3v-45.8M1292.9 1144.9v45.8M1292.9 1190.7v45.8M1292.9 1236.5v45.8M1292.9 1282.3v45.8M1296.9 1099.1v229M1299 1328.1v-45.8M1299 1282.3v-45.8M1299 1236.5v-45.8M1299 1190.7v-45.8M1299 1144.9v-45.8M1302 1144.9v45.8M1302 1190.7v45.8M1302 1236.5v45.8M1310.2 1328.1v-45.8M1310.2 1282.3v-45.8M1310.2 1236.5v-45.8M1310.2 1190.7v-45.8M1310.2 1144.9v-45.8M1312.9 1328.1v-45.8M1312.9 1282.3v-45.8M1312.9 1236.5v-45.8M1312.9 1190.7v-45.8M1312.9 1144.9v-45.8M1314.8 1236.5v183.2M1319 1419.7v-320.6M1319.2 1099.1v320.6M1321.8 1144.9v45.8M1325.2 1144.9v45.8M1326.9 1190.7v-45.8M1328.4 1144.9v45.8M1333.1 1236.5v-91.6M1336.2 1236.5v-45.8M1336.2 1190.7v-45.8M1338.3 1144.9v45.8M1344.1 1144.9v45.8M1347.7 1190.7v91.6M1348.8 1144.9v45.8M1352.4 1144.9v45.8M1354.8 1144.9v45.8M1354.8 1190.7v45.8M1356.7 1236.5v-45.8M1356.7 1190.7v-45.8M1360.5 1099.1v137.4M1364.4 1190.7v-45.8M1369.2 1236.5v-91.6M1371.1 1144.9v45.8M1371.1 1190.7v45.8M1371.1 1236.5v45.8M1373.8 1144.9v91.6M1378.3 1099.1v183.2M1379.2 1144.9v137.4M1385.8 1236.5v-45.8M1385.8 1190.7v-45.8M1388.8 1236.5v-91.6M1395.3 1236.5v-91.6M1396.9 1144.9v45.8M1396.9 1190.7v45.8M1398.2 1236.5v-91.6M1401.8 1236.5v-45.8M1401.8 1190.7v-45.8M1403.3 1144.9v45.8M1404.8 1190.7v-45.8M1410.9 1236.5v-91.6M1414.3 1236.5v-45.8M1417.2 1236.5v-45.8M1419.4 1282.3v-45.8M1419.4 1236.5v-45.8M1419.4 1190.7v-45.8M1422.5 1236.5v-45.8M1422.5 1190.7v-45.8M1423.5 1144.9v45.8M1423.5 1190.7v45.8M1423.5 1236.5v45.8M1425.3 1282.3v-137.4M1426.6 1144.9v45.8M1428.3 1190.7v-45.8M1429.8 1144.9v45.8M1429.8 1190.7v45.8M1433 1144.9v45.8M1433 1190.7v45.8M1436.8 1190.7v-45.8M1446.1 1190.7v-45.8M1450.6 1144.9v45.8M1450.6 1190.7v45.8M1452.2 1236.5v-45.8M1452.2 1190.7v-45.8M1454.3 1144.9v45.8M1454.3 1190.7v45.8M1459.1 1190.7v-45.8M1461.9 1236.5v-45.8M1461.9 1190.7v-45.8M1467.8 1144.9v137.4M1473 1144.9v45.8M1474.3 1190.7v-45.8M1477.7 1190.7v-45.8M1479.5 1144.9v91.6M1485.2 1144.9v91.6M1486.9 1236.5v-45.8M1490.4 1236.5v-45.8M1490.4 1190.7v-45.8M1496.7 1236.5v-45.8M1496.7 1190.7v-45.8M1498.2 1144.9v45.8M1499.7 1190.7v-45.8M1504.7 1144.9v45.8M1512.8 1236.5v-91.6M1517.4 1144.9v45.8M1520.6 1144.9v45.8M1520.6 1190.7v45.8M1522.2 1236.5v-91.6M1524.9 1190.7v-45.8M1527.3 1144.9v45.8M1527.3 1190.7v45.8M1529.9 1144.9v45.8M1532 1190.7v-45.8M1535.2 1190.7v-45.8M1538.2 1236.5v-91.6M1540.9 1236.5v-91.6M1542.5 1144.9v45.8M1552.2 1144.9v45.8M1554 1144.9v137.4M1555 1144.9v45.8M1556.8 1190.7v-45.8M1559.7 1190.7v-45.8M1562.6 1236.5v-45.8M1562.6 1190.7v-45.8M1567.4 1144.9v45.8M1569.4 1190.7v-45.8M1570.6 1144.9v45.8M1572.2 1190.7v-45.8M1576.8 1236.5v-45.8M1576.8 1190.7v-45.8M1578.9 1144.9v45.8M1578.9 1190.7v45.8M1585.4 1144.9v45.8M1586.9 1190.7v-45.8M1593 1236.5v-91.6M1594.6 1144.9v45.8M1598.4 1144.9v45.8M1598.4 1190.7v45.8M1598.4 1236.5v45.8M1604.4 1144.9v45.8M1604.4 1190.7v45.8M1606.1 1236.5v-91.6M1611.3 1144.9v137.4M1612.8 1282.3v-45.8M1614.6 1236.5v45.8M1619.4 1282.3v-45.8M1619.4 1236.5v-45.8M1619.4 1190.7v-45.8M1622.5 1282.3v-45.8M1622.5 1236.5v-45.8M1622.5 1190.7v-45.8M1627.1 1144.9v91.6M1632.1 1282.3v-137.4M1633.7 1282.3v-45.8M1633.7 1236.5v-45.8M1634.5 1190.7v45.8M1634.5 1236.5v45.8M1634.5 1282.3v-45.8M1634.5 1236.5v-45.8M1637.7 1236.5v-45.8M1641.4 1236.5v-45.8M1642.7 1190.7v45.8M1642.7 1236.5v45.8M1642.7 1282.3v45.8M1646.5 1282.3v-91.6M1649.3 1236.5v-45.8M1654.1 1190.7v91.6M1655.5 1282.3v-45.8M1655.5 1236.5v-45.8M1659 1282.3v-45.8M1659 1236.5v-45.8M1669.9 1236.5v45.8M1671.8 1282.3v-91.6M1682 1190.7v137.4M1684 1236.5v45.8M1687.4 1190.7v91.6M1690.2 1190.7v45.8M1691.8 1236.5v-45.8M1693.4 1190.7v45.8M1693.4 1236.5v45.8M1696.4 1236.5v45.8M1698.4 1282.3v-91.6M1700 1190.7v45.8M1704.4 1282.3v-91.6M1708.2 1190.7v137.4M1710.2 1190.7v45.8M1711.9 1236.5v-45.8M1715.1 1236.5v-45.8M1716.3 1190.7v45.8M1717.9 1236.5v-45.8M1719.7 1190.7v45.8M1724.1 1282.3v-91.6M1725.9 1190.7v91.6M1735.2 1190.7v45.8M1739 1190.7v45.8M1739 1236.5v45.8M1741.7 1190.7v45.8M1746.2 1282.3v-91.6M1753.2 1282.3v-45.8M1753.2 1236.5v-45.8M1756 1282.3v-91.6M1758 1190.7v45.8M1758 1236.5v45.8M1759.5 1282.3v-91.6M1760.9 1190.7v45.8M1762.2 1236.5v-45.8M1779.9 1282.3v-45.8M1781.5 1236.5v45.8M1786.4 1282.3v-45.8M1787.9 1236.5v45.8M1799.2 1282.3v-45.8M1802.2 1282.3v-45.8M1805.6 1236.5v45.8M1808.9 1236.5v45.8M1812.5 1236.5v45.8M1812.5 1282.3v45.8M1815.8 1236.5v45.8M1815.8 1282.3v45.8M1818.9 1236.5v45.8M1821.8 1236.5v45.8M1826.6 1282.3v-45.8M1828.5 1236.5v45.8M1834.2 1328.1v-45.8M1834.5 1282.3v45.8M1834.5 1328.1v45.8M1835.2 1373.9v-91.6M1840.2 1328.1v-45.8M1842 1282.3v45.8M1843.7 1328.1v-45.8M1846.5 1328.1v-45.8M1848.8 1328.1v-45.8M1848.8 1282.3h3M1852 1282.3v-45.8M1853.3 1236.5v45.8M1858.5 1282.3v-45.8M1861.6 1282.3v-45.8M1871 1282.3v-45.8M1874.3 1282.3v-45.8M1883.8 1282.3v-45.8M1885.1 1236.5v45.8M1901.1 1236.5v45.8M1902.8 1282.3v-45.8M1909.2 1282.3v-45.8M1917.2 1328.1v-45.8M1917.2 1282.3v-45.8M1919.6 1236.5v45.8M1919.6 1282.3v45.8M1927.2 1328.1v-45.8M1927.2 1282.3v-45.8M1929.1 1236.5v45.8M1931.9 1236.5v91.6M1933.8 1328.1v-45.8M1933.8 1282.3v-45.8M1937.1 1328.1v-91.6M1938.9 1236.5v45.8M1943.3 1282.3v-45.8M1946.3 1282.3v-45.8M1948.5 1328.1v91.6M1951.8 1236.5v183.2M1956.7 1236.5v45.8M1960.2 1236.5v45.8M1962.2 1282.3v-45.8M1973.8 1282.3v-45.8M1973.8 1236.5v-45.8M1976.8 1328.1v-137.4M1978.1 1190.7v45.8M1983.4 1236.5v-45.8M1997.2 1190.7v45.8M2000.4 1190.7v45.8M2005.4 1282.3v-91.6M2008.6 1282.3v-91.6M2010.2 1190.7v45.8M2010.2 1236.5v45.8M2013.7 1236.5v45.8M2020.2 1190.7v45.8M2020.2 1236.5v45.8M2027.9 1282.3v-91.6M2029.5 1190.7v45.8M2031.1 1236.5v-45.8M2036.3 1190.7v45.8M2038 1236.5v-45.8M2039.6 1190.7v91.6M2042.8 1190.7v45.8M2042.8 1236.5v45.8M2043.8 1282.3v-45.8M2043.8 1236.5v-45.8M2058.5 1190.7v91.6M2059.8 1282.3v-45.8M2059.8 1236.5v-45.8M2065.3 1190.7v91.6M2069.6 1236.5v-45.8M2072.9 1236.5v-45.8M2077.6 1190.7v45.8M2081.2 1190.7v45.8M2082.7 1236.5v-45.8M2084.5 1190.7v45.8M2086 1236.5v-45.8M2087.8 1282.3v-91.6M2089.7 1190.7v137.4M2091.2 1328.1v-137.4M2103.8 1282.3v-91.6M2106.1 1190.7v137.4M2107 1328.1v-45.8M2107 1282.3v-45.8M2107 1236.5v-45.8M2111.8 1190.7v45.8M2111.8 1236.5v45.8M2114 1282.3v-45.8M2114 1236.5v-45.8M2117.4 1236.5v-45.8M2120.5 1328.1v-137.4M2128.5 1190.7v45.8M2128.5 1236.5v45.8M2128.5 1282.3v45.8M2128.8 1328.1v-137.4M2136.2 1236.5v45.8M2137.4 1282.3v-91.6M2139.5 1236.5v45.8M2145.2 1282.3v-45.8M2146.3 1236.5v45.8M2148.2 1282.3v-45.8M2148.5 1236.5v183.2M2151.2 1236.5v183.2M2154.4 1282.3v-45.8M2162.9 1236.5v45.8M2165.7 1236.5v45.8M2167.4 1282.3v-45.8M2171 1282.3v-45.8M2172 1236.5v45.8M2180.1 1282.3v-45.8M2181.8 1236.5v45.8M2188.1 1236.5v45.8M2192.7 1282.3v-45.8M2194.7 1236.5v45.8M2199.6 1282.3v-45.8M2200.9 1236.5v45.8M2205.8 1282.3v-45.8M2207.5 1236.5v45.8M2208.5 1282.3v-45.8M2210.8 1236.5v45.8M2216.8 1236.5v45.8M2218.6 1282.3v-45.8M2219.8 1236.5v45.8M2230 1236.5v45.8M2230.9 1282.3v-45.8M2236.2 1236.5v45.8M2245.8 1236.5v45.8M2248.8 1236.5v45.8M2249.9 1282.3v-45.8M2253.5 1282.3v-45.8"/>
<path class="s" stroke="#D95319" stroke-dasharray="27.6 26" stroke-dashoffset="13" d="M304.8 1144.9v45.8M306.3 1236.5v-91.6M309.9 1190.7v-45.8M330 1190.7v-45.8M335.2 1144.9v45.8M340 1190.7v-45.8M341.3 1144.9v45.8M343.4 1190.7v-45.8M348 1190.7v45.8M349.3 1236.5v-91.6M354.4 1144.9v91.6M358.9 1190.7v-45.8M361.6 1190.7v-45.8M368.3 1144.9v45.8M369.4 1190.7v-45.8M377.8 1144.9v45.8M400.2 1190.7v-45.8M405.1 1144.9v45.8M409.8 1190.7v-45.8M425.5 1190.7v-45.8M441.7 1190.7v-45.8M444.8 1236.5v-45.8M446.7 1190.7v45.8M455.8 1144.9v45.8M455.8 1190.7v45.8M459.2 1144.9v45.8M479.7 1236.5v-45.8M484.5 1144.9v45.8M488.3 1144.9v45.8M505.8 1190.7v-45.8M507.4 1144.9v45.8M512.2 1190.7v-45.8M519.7 1144.9v45.8M539.4 1144.9v45.8M542.4 1144.9v45.8M543.9 1190.7v-45.8M550.4 1236.5v-45.8M550.4 1190.7v-45.8M557 1236.5v-91.6M566.6 1236.5v-91.6M576 1144.9v45.8M587.4 1190.7v-45.8M591.4 1144.9v45.8M593.4 1190.7v-45.8M607.8 1190.7v45.8M615.7 1236.5v-45.8M615.7 1190.7v-45.8M618.7 1190.7v-45.8M631.7 1190.7v-45.8M633.6 1144.9v45.8M634.8 1190.7v-45.8M639.9 1190.7v45.8M652.4 1144.9v45.8M652.4 1190.7v45.8M673.7 1236.5v45.8M677.3 1144.9v45.8M677.3 1190.7v45.8M677.3 1236.5v45.8M683.8 1190.7v-45.8M688.7 1144.9v91.6M699 1144.9v91.6M700.5 1236.5v-91.6M713.7 1144.9v45.8M713.7 1190.7v45.8M716.8 1144.9v45.8M717.7 1190.7v-45.8M727.6 1190.7v-45.8M743.8 1144.9v45.8M743.8 1190.7v45.8M745.7 1236.5v-91.6M757.3 1144.9v45.8M758.4 1190.7v-45.8M777.7 1236.5v-45.8M777.7 1190.7v-45.8M799.6 1282.3v-137.4M807.2 1144.9v45.8M815.6 1282.3v-45.8M815.6 1236.5v-45.8M815.6 1190.7v-45.8M818.5 1282.3v-45.8M818.5 1236.5v-45.8M818.5 1190.7v-45.8M822.3 1190.7v-45.8M838.1 1282.3v-45.8M838.1 1236.5v-45.8M840.9 1282.3v-137.4M842.8 1144.9v91.6M864.7 1190.7v45.8M864.7 1236.5v45.8M866.8 1282.3v-45.8M866.8 1236.5v-45.8M868.1 1190.7v45.8M868.1 1236.5v45.8M876.2 1282.3v-45.8M876.2 1236.5v-45.8M893.7 1190.7v91.6M898.7 1236.5v-45.8M909.3 1190.7v45.8M909.3 1236.5v45.8M916.7 1236.5v-45.8M918 1190.7v91.6M921.8 1190.7v91.6M925.9 1282.3v-45.8M925.9 1236.5v-45.8M935.8 1282.3v-91.6M943.4 1190.7v45.8M946.6 1190.7v45.8M956.3 1190.7v45.8M956.3 1236.5v45.8M964.2 1236.5v-45.8M973.7 1282.3v-91.6M984.9 1190.7v45.8M984.9 1236.5v45.8M990.1 1282.3v-91.6M992.1 1190.7v45.8M994.7 1190.7v91.6M1001.4 1190.7v91.6M1008 1236.5v-45.8M1008 1190.7v-45.8M1008 1144.9v-45.8M1009.8 1236.5v-45.8M1009.8 1190.7v-45.8M1022.9 1236.5v-45.8M1022.9 1190.7v-45.8M1030.8 1144.9v137.4M1043.9 1144.9v45.8M1043.9 1190.7v45.8M1043.9 1236.5v45.8M1046.9 1144.9v45.8M1046.9 1190.7v45.8M1058.2 1236.5v-45.8M1058.2 1190.7v-45.8M1065.2 1236.5v-91.6M1068.2 1282.3v-137.4M1071.2 1282.3v-45.8M1071.2 1236.5v-45.8M1071.2 1190.7v-45.8M1092 1144.9v45.8M1098.2 1236.5v-91.6M1116.8 1190.7v-45.8M1118.2 1144.9v137.4M1123 1282.3v-137.4M1142.7 1282.3v-137.4M1149.5 1236.5v-45.8M1149.5 1190.7v-45.8M1151 1144.9v91.6M1154.3 1144.9v45.8M1167.6 1144.9v45.8M1167.6 1190.7v45.8M1167.6 1236.5v45.8M1169 1282.3v-137.4M1180.8 1282.3v-137.4M1184.2 1282.3v-183.2M1190.1 1282.3v-45.8M1190.1 1236.5v-45.8M1190.1 1190.7v-45.8M1190.1 1144.9v-45.8M1193.9 1282.3v-183.2M1219.1 1144.9v45.8M1219.1 1190.7v45.8M1222.5 1144.9v45.8M1229.8 1282.3v-137.4M1238.8 1236.5v-45.8M1245.4 1099.1v183.2M1247 1282.3v-137.4M1260.8 1144.9v137.4M1265.9 1282.3v-45.8M1265.9 1236.5v-45.8M1265.9 1190.7v-45.8M1267.8 1144.9v45.8M1267.8 1190.7v45.8M1267.8 1236.5v45.8M1272.4 1282.3v-45.8M1272.4 1236.5v-45.8M1272.4 1190.7v-45.8M1277 1144.9v45.8M1277 1190.7v45.8M1277 1236.5v45.8M1287 1236.5v45.8M1308.6 1099.1v45.8M1308.6 1144.9v45.8M1308.6 1190.7v45.8M1308.6 1236.5v45.8M1308.6 1282.3v45.8M1311.8 1099.1v45.8M1311.8 1144.9v45.8M1311.8 1190.7v45.8M1311.8 1236.5v45.8M1311.8 1282.3v45.8M1323.3 1190.7v-45.8M1339.9 1190.7v-45.8M1341.1 1144.9v45.8M1343.2 1190.7v-45.8M1347.8 1144.9v45.8M1350.1 1190.7v-45.8M1358.5 1144.9v45.8M1367.6 1190.7v-45.8M1369 1144.9v45.8M1369 1190.7v45.8M1375.7 1236.5v-45.8M1375.7 1190.7v-45.8M1377.2 1144.9v91.6M1381.2 1144.9v45.8M1384.3 1144.9v45.8M1384.3 1190.7v45.8M1393.9 1144.9v91.6M1406.3 1144.9v45.8M1408 1190.7v-45.8M1431.1 1236.5v-91.6M1433.2 1236.5v-91.6M1434.8 1144.9v45.8M1449.3 1236.5v-45.8M1449.3 1190.7v-45.8M1457.4 1144.9v45.8M1469.3 1144.9v45.8M1482.2 1144.9v91.6M1484.3 1236.5v-45.8M1484.3 1190.7v-45.8M1501.4 1144.9v45.8M1510.7 1144.9v45.8M1510.7 1190.7v45.8M1514.5 1144.9v45.8M1528.6 1236.5v-45.8M1528.6 1190.7v-45.8M1533.4 1144.9v45.8M1536.2 1144.9v91.6M1539.5 1144.9v91.6M1544.6 1190.7v-45.8M1546.1 1144.9v91.6M1548.9 1144.9v45.8M1554 1190.7v-45.8M1558.1 1144.9v45.8M1561.3 1144.9v45.8M1561.3 1190.7v45.8M1566 1236.5v-45.8M1566 1190.7v-45.8M1575.5 1144.9v91.6M1580.7 1236.5v-45.8M1580.7 1190.7v-45.8M1588.6 1144.9v45.8M1588.6 1190.7v45.8M1588.6 1236.5v45.8M1607.7 1144.9v91.6M1609.3 1236.5v-91.6M1620.7 1144.9v45.8M1620.7 1190.7v45.8M1620.7 1236.5v45.8M1639.1 1190.7v45.8M1662.2 1236.5v-45.8M1665.5 1282.3v-45.8M1665.5 1236.5v-45.8M1676.2 1190.7v45.8M1688.7 1282.3v-45.8M1688.7 1236.5v-45.8M1695.4 1282.3v-45.8M1702.8 1190.7v91.6M1727.8 1282.3v-45.8M1727.8 1236.5v-45.8M1730.6 1236.5v-45.8M1732.2 1190.7v91.6M1740.2 1282.3v-45.8M1740.2 1236.5v-45.8M1745.3 1190.7v91.6M1750 1236.5v-45.8M1751.4 1190.7v91.6M1764 1190.7v45.8M1768.9 1236.5v-45.8M1773.9 1282.3v-45.8M1783.2 1282.3v-45.8M1784.9 1236.5v45.8M1789.8 1282.3v-45.8M1792.8 1282.3v-45.8M1796.2 1282.3v-45.8M1797.6 1236.5v45.8M1807.7 1282.3v-45.8M1814.1 1328.1v-91.6M1825.2 1236.5v45.8M1828.8 1282.3v45.8M1845.4 1282.3v45.8M1848.5 1282.3v45.8M1863.3 1236.5v45.8M1880.2 1282.3v-45.8M1887 1282.3v-45.8M1891.5 1236.5v45.8M1906.3 1282.3v-45.8M1907.6 1236.5v45.8M1913 1236.5v45.8M1926 1236.5v45.8M1926 1282.3v45.8M1954.9 1282.3v-45.8M1963.5 1236.5v45.8M1963.5 1282.3v45.8M1968.3 1328.1v-91.6M1973.5 1236.5v45.8M1975.6 1190.7v137.4M1981.9 1190.7v45.8M1989.5 1328.1v-91.6M1994.1 1190.7v45.8M1996.1 1236.5v-45.8M1998.9 1282.3v-45.8M1998.9 1236.5v-45.8M2002.5 1236.5v-45.8M2017 1190.7v45.8M2018.2 1236.5v-45.8M2021.9 1282.3v-45.8M2021.9 1236.5v-45.8M2032.9 1190.7v45.8M2041.1 1282.3v-91.6M2045.6 1190.7v45.8M2052.3 1190.7v45.8M2066.8 1282.3v-91.6M2087.5 1190.7v45.8M2087.5 1236.5v45.8M2099.3 1190.7v137.4M2100.7 1328.1v-137.4M2102.4 1190.7v91.6M2110.9 1282.3v-91.6M2134.5 1282.3v-45.8M2156.5 1236.5v45.8M2161.3 1282.3v-45.8M2184.7 1236.5v45.8M2196.4 1282.3v-45.8M2197.7 1236.5v45.8M2204.3 1236.5v45.8M2233 1236.5v45.8M2234.5 1282.3v-45.8M2237.5 1282.3v-45.8M2238.8 1236.5v45.8M2240.7 1282.3v-45.8M2247.5 1282.3v-45.8"/>
<path class="s" stroke="#D95319" stroke-dasharray="27.6 26" stroke-dashoffset="27" d="M298.7 1144.9v45.8M301.2 1144.9v45.8M313.1 1236.5v-45.8M313.1 1190.7v-45.8M322.2 1144.9v45.8M338.4 1144.9v45.8M357.1 1144.9v45.8M363.2 1144.9v45.8M363.2 1190.7v45.8M378.8 1190.7v-45.8M386.7 1144.9v45.8M394.9 1236.5v-91.6M413 1190.7v-45.8M415.3 1144.9v45.8M428.8 1190.7v-45.8M435.7 1190.7v-45.8M447.9 1236.5v-45.8M447.9 1190.7v-45.8M452.6 1144.9v45.8M452.6 1190.7v45.8M458 1236.5v-91.6M462.1 1144.9v45.8M462.1 1190.7v45.8M470.5 1190.7v-45.8M472 1144.9v45.8M499.2 1236.5v-45.8M499.2 1190.7v-45.8M502.1 1236.5v-91.6M510.2 1144.9v45.8M523.2 1144.9v45.8M547.3 1236.5v-45.8M547.3 1190.7v-45.8M548.9 1144.9v91.6M552.3 1144.9v91.6M567.7 1144.9v45.8M571.4 1190.7v-45.8M577.6 1190.7v-45.8M590.3 1190.7v-45.8M595.3 1144.9v45.8M598 1144.9v45.8M603.2 1190.7v-45.8M620.5 1144.9v91.6M630.5 1144.9v45.8M638 1236.5v-45.8M645.9 1144.9v45.8M656 1144.9v45.8M664 1144.9v45.8M664 1190.7v45.8M665.5 1236.5v-91.6M672.1 1282.3v-45.8M675.8 1282.3v-137.4M685.6 1144.9v45.8M720.8 1236.5v-45.8M720.8 1190.7v-45.8M722.4 1144.9v45.8M722.4 1190.7v45.8M730.1 1236.5v-45.8M730.1 1190.7v-45.8M752.1 1190.7v-45.8M753.7 1144.9v91.6M755.3 1236.5v-45.8M755.3 1190.7v-45.8M766.4 1144.9v45.8M766.4 1190.7v45.8M768.2 1236.5v-91.6M776 1144.9v45.8M776 1190.7v45.8M787 1236.5v-45.8M787 1190.7v-45.8M788.3 1144.9v45.8M791.7 1144.9v45.8M791.7 1190.7v45.8M791.7 1236.5v45.8M798.3 1144.9v137.4M804.1 1144.9v45.8M804.1 1190.7v45.8M804.1 1236.5v45.8M806 1282.3v-45.8M806 1236.5v-45.8M806 1190.7v-45.8M831.3 1282.3v-137.4M839.6 1190.7v45.8M839.6 1236.5v45.8M843 1236.5v45.8M844.4 1282.3v-45.8M844.4 1236.5v-45.8M844.4 1190.7v-45.8M873.2 1236.5v-45.8M874.8 1190.7v45.8M874.8 1236.5v45.8M880.9 1190.7v45.8M882.5 1236.5v-45.8M887.6 1190.7v91.6M890.8 1236.5v45.8M906.6 1190.7v45.8M906.6 1236.5v45.8M920.1 1282.3v-91.6M923.3 1282.3v-45.8M944.9 1236.5v-45.8M954.3 1236.5v-45.8M970.9 1282.3v-45.8M977.3 1236.5v-45.8M986.9 1282.3v-91.6M993.1 1236.5v-45.8M1003 1282.3v-45.8M1003 1236.5v-45.8M1006.5 1099.1v45.8M1006.5 1144.9v45.8M1006.5 1190.7v45.8M1016.1 1282.3v-45.8M1016.1 1236.5v-45.8M1016.1 1190.7v-45.8M1028.9 1190.7v-45.8M1037.4 1144.9v45.8M1052 1282.3v-137.4M1054.7 1236.5v-91.6M1066.3 1144.9v45.8M1066.3 1190.7v45.8M1066.3 1236.5v45.8M1071.5 1144.9v45.8M1071.5 1190.7v45.8M1071.5 1236.5v45.8M1071.5 1282.3v45.8M1071.5 1328.1v45.8M1079.8 1373.9v-45.8M1079.8 1328.1v-45.8M1079.8 1282.3v-45.8M1079.8 1236.5v-45.8M1079.8 1190.7v-45.8M1084.2 1190.7v-45.8M1104.7 1282.3v-45.8M1104.7 1236.5v-45.8M1104.7 1190.7v-45.8M1110.3 1282.3v-137.4M1121.3 1190.7v45.8M1121.3 1236.5v45.8M1127.7 1144.9v45.8M1127.7 1190.7v45.8M1127.7 1236.5v45.8M1129.7 1282.3v-137.4M1135.8 1282.3v-45.8M1135.8 1236.5v-45.8M1135.8 1190.7v-45.8M1139.7 1190.7v-45.8M1162.1 1282.3v-137.4M1163.8 1144.9v45.8M1177.7 1282.3v-183.2M1179.1 1099.1v45.8M1179.1 1144.9v45.8M1179.1 1190.7v45.8M1179.1 1236.5v45.8M1182.6 1144.9v137.4M1187.6 1282.3v-45.8M1187.6 1236.5v-45.8M1187.6 1190.7v-45.8M1187.6 1144.9v-45.8M1203.5 1236.5v-137.4M1203.8 1099.1v137.4M1214.4 1236.5v-45.8M1214.4 1190.7v-45.8M1231.4 1144.9v45.8M1231.4 1190.7v45.8M1233.9 1144.9v45.8M1233.9 1190.7v45.8M1233.9 1236.5v45.8M1237.3 1144.9v91.6M1239 1190.7v45.8M1239 1236.5v45.8M1240.3 1282.3v-45.8M1240.3 1236.5v-45.8M1240.3 1190.7v-45.8M1240.3 1144.9v-45.8M1256.6 1282.3v-137.4M1264.2 1144.9v45.8M1264.2 1190.7v45.8M1264.2 1236.5v45.8M1274.4 1144.9v91.6M1280.4 1144.9v45.8M1280.4 1190.7v45.8M1280.4 1236.5v45.8M1294.3 1328.1v-183.2M1295.5 1144.9v-45.8M1300.5 1373.9v-45.8M1300.5 1328.1v-45.8M1300.5 1282.3v-45.8M1300.5 1236.5v-45.8M1300.5 1190.7v-45.8M1303.9 1282.3v-45.8M1303.9 1236.5v-45.8M1306.9 1328.1v-229M1314.5 1099.1v45.8M1314.5 1144.9v45.8M1314.5 1190.7v45.8M1316.5 1419.7v-45.8M1316.5 1373.9v-45.8M1316.5 1328.1v-45.8M1316.5 1282.3v-45.8M1316.5 1236.5v-45.8M1316.5 1190.7v-45.8M1316.5 1144.9v-45.8M1317.6 1099.1v45.8M1317.6 1144.9v45.8M1317.6 1190.7v45.8M1317.6 1236.5v45.8M1317.6 1282.3v45.8M1317.6 1328.1v45.8M1317.6 1373.9v45.8M1335.1 1144.9v91.6M1345.8 1190.7v-45.8M1353.3 1190.7v-45.8M1399.7 1144.9v45.8M1399.7 1190.7v45.8M1417.5 1190.7v45.8M1417.5 1236.5v45.8M1447.5 1144.9v91.6M1460 1144.9v45.8M1460 1190.7v45.8M1465.5 1236.5v-45.8M1466.8 1190.7v45.8M1491.7 1144.9v45.8M1491.7 1190.7v45.8M1493.5 1236.5v-45.8M1493.5 1190.7v-45.8M1507.7 1144.9v91.6M1523.8 1144.9v45.8M1547.6 1236.5v-45.8M1547.6 1190.7v-45.8M1564.5 1144.9v45.8M1564.5 1190.7v45.8M1583.7 1190.7v-45.8M1590.3 1282.3v-45.8M1590.3 1236.5v-45.8M1590.3 1190.7v-45.8M1596.3 1190.7v-45.8M1602.7 1282.3v-45.8M1602.7 1236.5v-45.8M1602.7 1190.7v-45.8M1625.8 1282.3v-45.8M1625.8 1236.5v-45.8M1625.8 1190.7v-45.8M1628.6 1236.5v-45.8M1628.6 1190.7v-45.8M1644.8 1190.7v45.8M1644.8 1236.5v45.8M1648.3 1190.7v45.8M1664 1190.7v45.8M1664 1236.5v45.8M1674.8 1282.3v-91.6M1701.7 1236.5v-45.8M1706.4 1190.7v45.8M1706.4 1236.5v45.8M1713.6 1190.7v45.8M1721.3 1236.5v-45.8M1722.7 1190.7v91.6M1728.8 1190.7v45.8M1734.3 1282.3v-45.8M1734.3 1236.5v-45.8M1743.2 1236.5v-45.8M1748 1190.7v45.8M1767.3 1190.7v45.8M1770.5 1282.3v-45.8M1775.1 1236.5v45.8M1777.1 1282.3v-45.8M1800.4 1236.5v45.8M1802.5 1236.5v45.8M1802.5 1282.3v45.8M1804.2 1328.1v-45.8M1804.2 1282.3v-45.8M1810.5 1282.3v-45.8M1817.4 1328.1v-91.6M1823.7 1282.3v-45.8M1832 1282.3v45.8M1838.6 1282.3v45.8M1855.4 1282.3v-45.8M1864.8 1282.3v-45.8M1868.2 1282.3v-45.8M1872.7 1236.5v45.8M1875.7 1236.5v45.8M1877.8 1282.3v-45.8M1878.8 1236.5v45.8M1890.1 1282.3v-45.8M1893.6 1282.3v-45.8M1897.8 1236.5v45.8M1904.4 1236.5v45.8M1914 1282.3v-45.8M1915.9 1236.5v91.6M1920.9 1328.1v-91.6M1923.9 1328.1v-91.6M1935.7 1236.5v45.8M1935.7 1282.3v45.8M1941.7 1236.5v45.8M1945.2 1236.5v45.8M1948.2 1236.5v45.8M1948.2 1282.3v45.8M1965.1 1328.1v-45.8M1965.1 1282.3v-45.8M1972.1 1282.3v-45.8M1986.5 1282.3v-45.8M1986.5 1236.5v-45.8M1988.2 1190.7v45.8M1988.2 1236.5v45.8M1988.2 1282.3v45.8M1992.2 1282.3v-45.8M1992.2 1236.5v-45.8M2015 1282.3v-45.8M2015 1236.5v-45.8M2047.7 1236.5v-45.8M2055.1 1190.7v45.8M2055.1 1236.5v45.8M2057 1282.3v-91.6M2062.2 1190.7v45.8M2068.1 1190.7v45.8M2071.1 1190.7v45.8M2076.3 1282.3v-91.6M2092.9 1190.7v45.8M2092.9 1236.5v45.8M2092.9 1282.3v45.8M2096.1 1190.7v137.4M2115.1 1190.7v45.8M2118.8 1190.7v137.4M2122.1 1190.7v45.8M2131.7 1282.3v-91.6M2133.4 1190.7v45.8M2133.4 1236.5v45.8M2143.1 1236.5v45.8M2164.6 1282.3v-45.8M2175.1 1236.5v45.8M2177 1282.3v-45.8M2178.5 1236.5v45.8M2183.3 1282.3v-45.8M2202.5 1282.3v-45.8M2212.2 1282.3v-45.8M2221.8 1282.3v-45.8M2224.9 1282.3v-45.8M2251.8 1236.5v45.8"/>
<path class="s" stroke="#D95319" stroke-dasharray="27.6 26" stroke-dashoffset="40" d="M302.8 1190.7v-45.8M311.2 1144.9v91.6M317.3 1144.9v45.8M327.5 1190.7v-45.8M333.7 1190.7v-45.8M345.9 1190.7v-45.8M355.8 1236.5v-45.8M355.8 1190.7v-45.8M360.5 1144.9v45.8M365.1 1144.9v45.8M397 1236.5v-91.6M406.6 1190.7v-45.8M418.2 1144.9v45.8M420 1190.7v-45.8M427.3 1144.9v45.8M434.1 1144.9v45.8M438.5 1190.7v-45.8M439.9 1144.9v45.8M451.7 1236.5v-91.6M468.7 1144.9v45.8M481.8 1190.7v45.8M483.7 1236.5v-91.6M491.2 1144.9v45.8M492.5 1190.7v-45.8M494.3 1144.9v45.8M504.3 1144.9v45.8M516.5 1144.9v45.8M518.6 1190.7v-45.8M521.3 1190.7v-45.8M526.2 1144.9v91.6M528.1 1236.5v-45.8M528.1 1190.7v-45.8M532.8 1144.9v45.8M545.4 1144.9v91.6M553.8 1236.5v-91.6M555.2 1144.9v45.8M555.2 1190.7v45.8M569.8 1144.9v45.8M572.5 1144.9v45.8M596.8 1190.7v-45.8M601.2 1144.9v45.8M607.5 1144.9v45.8M609.5 1236.5v-45.8M609.5 1190.7v-45.8M611.1 1144.9v45.8M611.1 1190.7v45.8M612.5 1236.5v-45.8M617 1144.9v45.8M625.2 1236.5v-45.8M625.2 1190.7v-45.8M636.5 1144.9v45.8M636.5 1190.7v45.8M648.1 1190.7v-45.8M649 1144.9v91.6M657.6 1190.7v-45.8M668.9 1190.7v-45.8M682 1282.3v-137.4M702 1144.9v45.8M703.8 1190.7v-45.8M719.8 1144.9v45.8M719.8 1190.7v45.8M737.7 1144.9v45.8M740.6 1144.9v45.8M740.6 1190.7v45.8M760.2 1144.9v45.8M760.2 1190.7v45.8M761.8 1236.5v-45.8M761.8 1190.7v-45.8M773 1190.7v-45.8M778.9 1144.9v45.8M780.8 1190.7v45.8M782.6 1236.5v-45.8M784.1 1190.7v-45.8M785.1 1144.9v91.6M793.5 1282.3v-137.4M801.2 1144.9v137.4M810.8 1144.9v45.8M817.3 1144.9v137.4M828.6 1190.7v-45.8M834.9 1282.3v-45.8M834.9 1236.5v-45.8M834.9 1190.7v-45.8M848 1282.3v-45.8M848 1236.5v-45.8M848 1190.7v-45.8M852.6 1190.7v91.6M854.3 1282.3v-91.6M858.6 1190.7v91.6M877.5 1190.7v45.8M885.4 1236.5v-45.8M907.9 1282.3v-45.8M907.9 1236.5v-45.8M915.2 1190.7v45.8M931.3 1190.7v45.8M931.3 1236.5v45.8M932.3 1282.3v-91.6M949.8 1190.7v45.8M959.4 1236.5v45.8M975.2 1190.7v45.8M980.7 1236.5v-45.8M982 1190.7v45.8M988.1 1190.7v91.6M998.3 1190.7v45.8M998.3 1236.5v45.8M1011.2 1144.9v91.6M1014.6 1144.9v45.8M1014.6 1190.7v45.8M1014.6 1236.5v45.8M1019.8 1236.5v-91.6M1025.9 1190.7v-45.8M1032.5 1282.3v-137.4M1034.4 1144.9v45.8M1034.4 1190.7v45.8M1035.5 1236.5v-45.8M1035.5 1190.7v-45.8M1040.9 1144.9v45.8M1040.9 1190.7v45.8M1040.9 1236.5v45.8M1045.2 1282.3v-137.4M1076.5 1236.5v-45.8M1076.5 1190.7v-45.8M1078.2 1144.9v229M1088 1190.7v-45.8M1107.5 1236.5v-91.6M1120.2 1282.3v-91.6M1153 1236.5v-91.6M1155.7 1190.7v-45.8M1159.2 1236.5v-45.8M1161.2 1190.7v91.6M1165.9 1190.7v-45.8M1169.2 1144.9v45.8M1185.4 1099.1v45.8M1185.4 1144.9v45.8M1185.4 1190.7v45.8M1185.4 1236.5v45.8M1212.9 1144.9v91.6M1220.9 1236.5v-45.8M1220.9 1190.7v-45.8M1232.4 1236.5v-45.8M1232.4 1190.7v-45.8M1235.6 1282.3v-137.4M1248 1144.9v137.4M1249.6 1282.3v-183.2M1251.5 1099.1v45.8M1259.9 1236.5v-91.6M1269 1282.3v-45.8M1269 1236.5v-45.8M1269 1190.7v-45.8M1290.7 1236.5v-45.8M1290.7 1190.7v-45.8M1300.2 1099.1v274.8M1305.3 1190.7v137.4M1330.1 1190.7v-45.8M1331.9 1144.9v45.8M1331.9 1190.7v45.8M1362.7 1144.9v45.8M1366 1144.9v45.8M1372.2 1282.3v-137.4M1382.5 1190.7v-45.8M1387.7 1144.9v91.6M1390.8 1144.9v45.8M1391.8 1190.7v-45.8M1409.7 1144.9v91.6M1412.8 1144.9v45.8M1412.8 1190.7v45.8M1415.3 1190.7v45.8M1420.5 1144.9v45.8M1420.5 1190.7v45.8M1438 1144.9v45.8M1439.9 1190.7v-45.8M1441.5 1144.9v91.6M1443.1 1236.5v-91.6M1444 1144.9v45.8M1455.2 1236.5v-45.8M1455.2 1190.7v-45.8M1463.4 1144.9v91.6M1471.1 1190.7v-45.8M1476.2 1144.9v45.8M1480.6 1236.5v-91.6M1488.5 1190.7v45.8M1494.8 1144.9v45.8M1494.8 1190.7v45.8M1502.8 1190.7v-45.8M1506.2 1190.7v-45.8M1509.7 1236.5v-91.6M1515.8 1190.7v-45.8M1519.2 1190.7v-45.8M1550.7 1190.7v-45.8M1573.6 1144.9v91.6M1575.2 1236.5v-45.8M1575.2 1190.7v-45.8M1581.9 1144.9v45.8M1591.4 1144.9v91.6M1599.7 1282.3v-137.4M1601.6 1144.9v45.8M1601.6 1190.7v45.8M1601.6 1236.5v45.8M1615.9 1282.3v-45.8M1615.9 1236.5v-45.8M1615.9 1190.7v-45.8M1617.6 1144.9v45.8M1617.6 1190.7v45.8M1617.6 1236.5v45.8M1623.7 1144.9v45.8M1623.7 1190.7v45.8M1623.7 1236.5v45.8M1630.7 1144.9v45.8M1630.7 1190.7v45.8M1630.7 1236.5v45.8M1633.8 1144.9v137.4M1636 1190.7v45.8M1644.5 1328.1v-45.8M1644.5 1282.3v-45.8M1644.5 1236.5v-45.8M1650.8 1190.7v45.8M1652.3 1236.5v-45.8M1657.1 1190.7v91.6M1661 1190.7v45.8M1666.9 1190.7v91.6M1669 1282.3v-45.8M1673.1 1190.7v45.8M1673.1 1236.5v45.8M1678.3 1236.5v-45.8M1679.8 1190.7v91.6M1685.4 1282.3v-91.6M1708 1282.3v-45.8M1708 1236.5v-45.8M1737.2 1236.5v-45.8M1754.5 1190.7v45.8M1754.5 1236.5v45.8M1765.8 1236.5v-45.8M1770.2 1190.7v91.6M1772.5 1236.5v45.8M1778.3 1236.5v45.8M1791.3 1236.5v45.8M1794.5 1236.5v45.8M1820.5 1282.3v-45.8M1831 1328.1v-45.8M1835.5 1282.3v45.8M1836.8 1328.1v-45.8M1856.4 1236.5v45.8M1859.6 1236.5v45.8M1866 1236.5v45.8M1869.7 1236.5v45.8M1882.5 1236.5v45.8M1888.6 1236.5v45.8M1895.2 1236.5v45.8M1896.4 1282.3v-45.8M1900 1282.3v-45.8M1909.5 1236.5v45.8M1911.3 1282.3v-45.8M1922.4 1236.5v91.6M1930.8 1282.3v-45.8M1939.9 1282.3v-45.8M1953.8 1236.5v45.8M1958.7 1282.3v-45.8M1966.8 1236.5v91.6M1970.6 1236.5v45.8M1979.8 1236.5v-45.8M1985.1 1190.7v91.6M1991.1 1236.5v45.8M1997.5 1236.5v45.8M2004.2 1190.7v45.8M2004.2 1236.5v45.8M2007.5 1190.7v91.6M2011.7 1282.3v-45.8M2023.6 1190.7v45.8M2025.2 1236.5v-45.8M2026.8 1190.7v45.8M2026.8 1236.5v45.8M2034.4 1236.5v-45.8M2049.2 1190.7v45.8M2050.9 1236.5v-45.8M2054 1236.5v-45.8M2063.1 1236.5v-45.8M2074.5 1190.7v45.8M2074.5 1236.5v45.8M2079.2 1236.5v-45.8M2094.1 1328.1v-45.8M2094.1 1282.3v-45.8M2094.1 1236.5v-45.8M2097.3 1328.1v-137.4M2109.2 1190.7v45.8M2109.2 1236.5v45.8M2123.9 1236.5v-45.8M2125.2 1190.7v45.8M2125.2 1236.5v45.8M2127 1282.3v-91.6M2130.5 1190.7v91.6M2139.2 1190.7v45.8M2141.2 1282.3v-45.8M2152.8 1236.5v45.8M2157.9 1282.3v-45.8M2159.3 1236.5v45.8M2168.8 1236.5v45.8M2174 1282.3v-45.8M2186.4 1282.3v-45.8M2189.7 1282.3v-45.8M2191.7 1236.5v45.8M2213.3 1236.5v45.8M2215.2 1282.3v-45.8M2223.4 1236.5v45.8M2226.5 1236.5v45.8M2228 1282.3v-45.8M2242.7 1236.5v45.8M2243.7 1282.3v-45.8"/>
<path class="s" stroke="#EDB120" stroke-dasharray="7.5 5.9" stroke-dashoffset="0" d="M296.8 1053.3h14.8M311.8 1056.3v-51.8M313.3 1004.5v51.8M315.3 1056.3v-51.8M316.9 1004.5v51.8M321.9 1056.3v-51.8M324 1004.5v51.8M324.2 1056.3v-48.8M324.2 1007.5v-48.8M326.3 958.7v48.8M326.3 1007.5v48.8M327.5 1056.3v-51.8M329.5 1004.5v51.8M331.2 1056.3v-48.8M331.2 1007.5v-48.8M331.5 958.7v48.8M331.5 1007.5v48.8M333.7 1056.3v-51.8M339.3 1004.5v51.8M340.6 1056.3v-51.8M344.7 1056.3v-51.8M346 1004.5v51.8M348.6 1056.3v-51.8M350 1004.5v51.8M352.4 958.7v51.8M353.9 1010.5v-51.8M358 1056.3v-97.6M359.8 1004.5v51.8M362 1056.3v-51.8M363.1 1004.5v51.8M366.6 1004.5v51.8M372.7 1056.3v-51.8M376.5 1056.3v-51.8M377.9 1004.5v51.8M380.1 1056.3v-51.8M381.7 1004.5v51.8M383.5 1056.3v-51.8M385.2 1004.5v51.8M386.9 1056.3v-51.8M388.8 1004.5v51.8M391.2 1056.3v-51.8M392.2 1004.5v51.8M396.4 1004.5v51.8M398.3 1056.3v-51.8M400.1 1004.5v51.8M401.6 1056.3v-51.8M403.6 1004.5v51.8M405.5 1056.3v-51.8M406.9 1004.5v51.8M411 1004.5v51.8M413.1 1056.3v-51.8M414.3 1004.5v51.8M416 1056.3v-51.8M418.2 1004.5v51.8M420 1056.3v-51.8M419.9 1004.5v48.8M419.9 1053.3v45.8M419.9 1099.1v48.8M421.1 1147.9v-143.4M421 1004.5v51.8M422.9 1056.3v-51.8M431.4 1004.5v51.8M435.4 1004.5v51.8M436.9 1056.3v-51.8M439.2 1004.5v51.8M441.1 1056.3v-51.8M442.6 1004.5v51.8M444.6 1056.3v-51.8M448.5 1056.3v-51.8M449.7 1004.5v51.8M451.8 1007.5h.2M452 1007.5h2M454.2 1010.5v-51.8M455.8 958.7v51.8M457.5 1010.5v-51.8M461.2 1010.5v-51.8M463.4 958.7v51.8M465.6 1010.5v-51.8M467.5 958.7v51.8M468.7 1010.5v-51.8M472.5 1010.5v-51.8M472.8 1007.5h21.5M494.5 1010.5v-51.8M497 958.7v51.8M499 1010.5v-51.8M499.2 958.7v51.8M499.2 1007.5h1M500.5 1004.5v97.6M502.5 1102.1v-97.6M502.5 1007.5h.2M502.8 1007.5h12.2M515.2 1010.5v-51.8M517.5 958.7v51.8M517.5 1007.5h.2M517.8 1007.5h18.8M536.5 1004.5v51.8M537.5 1056.3v-51.8M537.5 1007.5h8.2M546 1010.5v-51.8M548.3 958.7v51.8M549.6 1010.5v-51.8M551.5 958.7v51.8M553.8 958.7v51.8M553.8 1007.5h32.2M587.7 958.7v51.8M595.2 958.7v51.8M597.4 1010.5v-51.8M600.3 1010.5v-51.8M602.9 958.7v51.8M608 1010.5v-51.8M611.9 1010.5v-51.8M613.2 958.7v51.8M614.9 1010.5v-51.8M616.7 958.7v51.8M618.5 1010.5v-51.8M622.7 1010.5v-51.8M623.9 958.7v51.8M627.8 958.7v51.8M629.2 1010.5v-51.8M631.4 958.7v51.8M633 1010.5v-51.8M634.8 958.7v51.8M638.6 958.7v51.8M640.1 1010.5v-51.8M642.1 958.7v51.8M644 1010.5v-51.8M646.1 958.7v51.8M649.2 958.7v51.8M651.2 1010.5v-51.8M652.8 958.7v51.8M654.8 1010.5v-51.8M656.3 958.7v51.8M658.1 1010.5v-51.8M662.3 1010.5v-51.8M666 1056.3v-97.6M667.8 958.7v51.8M671.3 958.7v97.6M672.5 1056.3v-48.8M672.5 1007.5v-48.8M676.1 1056.3v-48.8M676.1 1007.5v-48.8M678.3 958.7v48.8M678.3 1007.5v48.8M680 1004.5v97.6M680.8 1102.1v-143.4M681 958.7v48.8M681 1007.5v48.8M683 1056.3v-97.6M684.6 958.7v48.8M684.6 1007.5v48.8M686.6 1056.3v-97.6M690.2 1056.3v-48.8M690.2 1007.5v-48.8M692 958.7v48.8M692 1007.5v48.8M693.7 1056.3v-48.8M693.7 1007.5v-48.8M695.3 958.7v97.6M700.7 1056.3v-48.8M700.7 1007.5v-48.8M702.4 958.7v48.8M702.4 1007.5v48.8M704 1056.3v-48.8M704 1007.5v-48.8M707.7 1010.5v-51.8M709.4 958.7v51.8M711.2 1010.5v-51.8M713.4 958.7v97.6M714.5 1056.3v-48.8M714.5 1007.5v-48.8M716.8 958.7v48.8M716.8 1007.5v48.8M718 1056.3v-51.8M720.2 1004.5v51.8M722.1 1056.3v-97.6M723.5 958.7v48.8M723.5 1007.5v48.8M725.4 1056.3v-97.6M727.6 958.7v48.8M727.6 1007.5v48.8M728.8 1056.3v-48.8M728.8 1007.5v-48.8M731.1 958.7v48.8M731.1 1007.5v48.8M736.4 1056.3v-97.6M743.4 1010.5v-51.8M745.1 958.7v48.8M745.1 1007.5v48.8M746.8 1056.3v-48.8M746.8 1007.5v-48.8M746.7 958.7v48.8M746.7 1007.5v45.8M746.7 1053.3v45.8M746.7 1099.1v48.8M747.8 1147.9v-189.2M747.8 958.7v48.8M747.8 1007.5v48.8M749.8 1056.3v-51.8M750.8 1004.5v51.8M757.7 958.7v48.8M757.7 1007.5v48.8M761.3 958.7v51.8M763 1010.5v-51.8M765 958.7v97.6M766.9 958.7v51.8M768.5 1010.5v-51.8M777.8 958.7v51.8M780 1010.5v-51.8M781.8 1004.5v143.4M783.7 1147.9v-189.2M785.5 958.7v189.2M785.8 1147.9v-189.2M787.4 958.7v48.8M787.4 1007.5v48.8M792.4 1056.3v-48.8M792.4 1007.5v-48.8M800 1010.5v-51.8M801.6 958.7v48.8M801.6 1007.5v48.8M803.2 1056.3v-51.8M805 1056.3v-97.6M805.8 958.7v48.8M805.8 1007.5v45.8M805.8 1053.3v48.8M806 1102.1v-48.8M806 1053.3v-45.8M806 1007.5v-48.8M808 958.7v51.8M809.6 1010.5v-51.8M818.8 958.7v51.8M823.5 1010.5v-51.8M826 958.7v51.8M828.8 958.7v51.8M831.3 1010.5v-51.8M832.5 958.7v51.8M838.5 1010.5v-51.8M841.8 1010.5v-51.8M843.8 958.7v51.8M844.9 1010.5v-51.8M848.9 1010.5v-51.8M850.9 958.7v51.8M852.1 1010.5v-51.8M854.5 958.7v51.8M857.5 958.7v51.8M859.5 1010.5v-51.8M861.5 958.7v51.8M865 958.7v51.8M865.2 1004.5v48.8M865.2 1053.3v45.8M865.2 1099.1v45.8M865.2 1144.9v45.8M865.2 1190.7v48.8M866.6 1239.5v-48.8M866.6 1190.7v-45.8M866.6 1144.9v-45.8M866.6 1099.1v-45.8M866.6 1053.3v-45.8M866.6 1007.5v-48.8M868.5 958.7v48.8M868.5 1007.5v48.8M870 1056.3v-97.6M872.5 1102.1v-48.8M872.5 1053.3v-45.8M872.5 1007.5v-48.8M875.6 1102.1v-51.8M877.7 1050.3v51.8M879.7 1102.1v-48.8M879.7 1053.3v-48.8M885.2 958.7v143.4M887.3 1102.1v-51.8M888.7 1050.3v51.8M890.7 1102.1v-48.8M890.7 1053.3v-45.8M890.7 1007.5v-48.8M892.8 958.7v143.4M896.4 1102.1v-48.8M896.4 1053.3v-48.8M902 1004.5v51.8M905.7 1004.5v48.8M905.7 1053.3v48.8M907.8 1102.1v-51.8M911.4 1102.1v-48.8M911.4 1053.3v-48.8M913.1 1004.5v51.8M915.1 1056.3v-51.8M918 1102.1v-97.6M923.4 1050.3v51.8M927.6 1004.5v97.6M928.9 1102.1v-51.8M934.4 1004.5v97.6M939.7 1056.3v-51.8M943.6 1102.1v-97.6M947.3 1102.1v-48.8M947.3 1053.3v-48.8M949.2 1004.5v48.8M949.2 1053.3v48.8M950.8 1102.1v-48.8M950.8 1053.3v-48.8M952.8 1004.5v51.8M954.1 1056.3v-51.8M958.1 1102.1v-48.8M958.1 1053.3v-48.8M960.1 1004.5v48.8M960.1 1053.3v48.8M961.8 1102.1v-97.6M966.8 1050.3v51.8M969.1 1102.1v-48.8M969.1 1053.3v-48.8M970.7 1004.5v48.8M970.7 1053.3v48.8M972.3 1102.1v-97.6M974.6 1004.5v48.8M974.6 1053.3v48.8M975.8 1102.1v-97.6M978 1004.5v97.6M979.7 1102.1v-48.8M979.7 1053.3v-48.8M981.4 1004.5v97.6M983.1 1102.1v-97.6M985 1004.5v48.8M985 1053.3v48.8M987.2 1004.5v189.2M989.2 1193.7v-48.8M989.2 1144.9v-45.8M989.2 1099.1v-45.8M989.2 1053.3v-48.8M989.5 1004.5v51.8M991.2 1056.3v-51.8M996.2 1004.5v51.8M1002 1102.1v-48.8M1002 1053.3v-48.8M1003.6 1004.5v48.8M1003.6 1053.3v48.8M1005.5 1004.5v97.6M1016.5 1050.3v51.8M1018.6 1147.9v-48.8M1018.6 1099.1v-48.8M1020.8 1050.3v48.8M1020.8 1099.1v48.8M1022.7 1147.9v-48.8M1022.7 1099.1v-48.8M1024.2 1050.3v97.6M1026.2 1147.9v-51.8M1027.5 1096.1v51.8M1029.8 1147.9v-48.8M1029.8 1099.1v-48.8M1030 1050.3v48.8M1030 1099.1v45.8M1030 1144.9v48.8M1032 1193.7v-48.8M1032 1144.9v-45.8M1032 1099.1v-48.8M1039.3 1468.5v-48.8M1039.3 1419.7v-45.8M1039.3 1373.9v-45.8M1039.3 1328.1v-45.8M1039.3 1282.3v-45.8M1039.3 1236.5v-45.8M1039.3 1190.7v-45.8M1039.3 1144.9v-45.8M1039.3 1099.1v-48.8M1041 1050.3v48.8M1041 1099.1v45.8M1041 1144.9v45.8M1041 1190.7v45.8M1041 1236.5v45.8M1041 1282.3v48.8M1042.3 1325.1v97.6M1044 1416.7v51.8M1046.1 1468.5v-48.8M1046.1 1419.7v-45.8M1046.1 1373.9v-45.8M1046.1 1328.1v-45.8M1046.1 1282.3v-45.8M1046.1 1236.5v-45.8M1046.1 1190.7v-45.8M1046.1 1144.9v-45.8M1046.1 1099.1v-48.8M1051.2 1050.3v48.8M1051.2 1099.1v45.8M1051.2 1144.9v45.8M1051.2 1190.7v45.8M1051.2 1236.5v45.8M1051.2 1282.3v45.8M1051.2 1328.1v45.8M1051.2 1373.9v45.8M1051.2 1419.7v48.8M1051.5 1468.5v-418.2M1053.6 1050.3v97.6M1055.3 1147.9v-97.6M1056.8 1050.3v97.6M1059 1147.9v-48.8M1059 1099.1v-48.8M1067.9 1050.3v48.8M1067.9 1099.1v45.8M1067.9 1144.9v48.8M1071.1 1050.3v48.8M1071.1 1099.1v45.8M1071.1 1144.9v48.8M1073.3 1193.7v-143.4M1078.5 1050.3v143.4M1080.2 1193.7v-143.4M1081.8 1102.1v-51.8M1087.3 1050.3v51.8M1090.8 1050.3v51.8M1094.4 1050.3v51.8M1099.5 1102.1v-51.8M1105.5 1468.5v-418.2M1106.8 1050.3v48.8M1106.8 1099.1v45.8M1106.8 1144.9v45.8M1106.8 1190.7v45.8M1106.8 1236.5v45.8M1106.8 1282.3v45.8M1106.8 1328.1v45.8M1106.8 1373.9v45.8M1106.8 1419.7v48.8M1108.9 1468.5v-418.2M1110.4 1050.3v48.8M1110.4 1099.1v45.8M1110.4 1144.9v45.8M1110.4 1190.7v45.8M1110.4 1236.5v45.8M1110.4 1282.3v45.8M1110.4 1328.1v45.8M1110.4 1373.9v45.8M1110.4 1419.7v48.8M1112.4 1468.5v-418.2M1118 1468.5v-48.8M1118 1419.7v-45.8M1118 1373.9v-45.8M1118 1328.1v-45.8M1118 1282.3v-45.8M1118 1236.5v-45.8M1118 1190.7v-45.8M1118 1144.9v-45.8M1118 1099.1v-48.8M1121.1 1239.5v-48.8M1121.1 1190.7v-45.8M1121.1 1144.9v-45.8M1121.1 1099.1v-48.8M1123.1 1050.3v48.8M1123.1 1099.1v48.8M1125.3 1147.9v-48.8M1125.3 1099.1v-48.8M1130 1050.3v189.2M1131.8 1239.5v-48.8M1131.8 1190.7v-45.8M1131.8 1144.9v-45.8M1131.8 1099.1v-48.8M1135.3 1239.5v-189.2M1137.5 1050.3v48.8M1137.5 1099.1v45.8M1137.5 1144.9v45.8M1137.5 1190.7v48.8M1139.5 1050.3v97.6M1141.6 1147.9v-51.8M1143.3 1096.1v51.8M1148.7 1102.1v-51.8M1150 1050.3v97.6M1154 1096.1v51.8M1155.5 1147.9v-51.8M1158.9 1147.9v-97.6M1162.9 1102.1v-51.8M1168 1050.3v48.8M1168 1099.1v48.8M1169.7 1147.9v-51.8M1171.7 1096.1v51.8M1173.5 1147.9v-48.8M1173.5 1099.1v-48.8M1176.4 1147.9v-51.8M1178.3 1096.1v51.8M1180.2 1147.9v-51.8M1185.6 1102.1v-51.8M1187.8 1050.3v51.8M1189.6 1102.1v-51.8M1190.8 1050.3v51.8M1192.9 1102.1v-51.8M1196.5 1102.1v-51.8M1200.3 1102.1v-51.8M1204 1102.1v-51.8M1206 1050.3v51.8M1207.6 1102.1v-51.8M1209.1 1050.3v51.8M1210.9 1102.1v-51.8M1212.6 1050.3v51.8M1216.3 1050.3v51.8M1218 1102.1v-51.8M1220.6 1050.3v51.8M1224.2 1050.3v51.8M1227.4 1050.3v51.8M1233 1102.1v-51.8M1234.8 1050.3v51.8M1238.6 1050.3v51.8M1242 1050.3v51.8M1243.7 1102.1v-51.8M1245.2 1050.3v51.8M1249.2 1050.3v51.8M1251.2 1102.1v-51.8M1256.4 1050.3v51.8M1258.4 1102.1v-51.8M1260 1050.3v51.8M1263.5 1050.3v48.8M1263.5 1099.1v48.8M1265.9 1147.9v-48.8M1265.9 1099.1v-48.8M1267.6 1050.3v97.6M1269 1147.9v-97.6M1271.5 1050.3v97.6M1272.8 1147.9v-97.6M1278.6 1050.3v51.8M1287.2 1050.3v51.8M1289.8 1102.1v-51.8M1290.8 1050.3v51.8M1296.4 1102.1v-51.8M1298.6 1050.3v51.8M1300 1102.1v-51.8M1302.2 1050.3v51.8M1307.8 1050.3v51.8M1315.3 1050.3v51.8M1316.9 1102.1v-51.8M1319.2 1050.3v51.8M1320.4 1102.1v-51.8M1324.7 1102.1v-51.8M1331.8 1102.1v-51.8M1333.2 1050.3v51.8M1335 1102.1v-51.8M1342.3 1102.1v-51.8M1344.6 1050.3v51.8M1346 1102.1v-51.8M1351.8 1050.3v51.8M1353 1102.1v-51.8M1354.6 1050.3v51.8M1358.5 1050.3v51.8M1360.7 1102.1v-51.8M1362.4 1050.3v51.8M1364.4 1102.1v-51.8M1367.2 1102.1v-51.8M1369.5 1050.3v51.8M1370.9 1102.1v-51.8M1372.6 1050.3v51.8M1375.2 1102.1v-51.8M1376.2 1050.3v51.8M1378.9 1102.1v-51.8M1380.5 1050.3v51.8M1385.5 1102.1v-51.8M1387.5 1050.3v51.8M1389.3 1102.1v-51.8M1401.8 1050.3v51.8M1403.5 1102.1v-51.8M1407.3 1102.1v-51.8M1409.3 1050.3v51.8M1412.3 1050.3v51.8M1414.1 1102.1v-51.8M1416.8 1050.3v51.8M1417.8 1102.1v-51.8M1425.6 1102.1v-51.8M1427.5 1050.3v51.8M1428.9 1102.1v-51.8M1430.8 1050.3v51.8M1431 1096.1v48.8M1431 1144.9v48.8M1433 1193.7v-143.4M1433.2 1050.3v51.8M1435.3 1102.1v-51.8M1436.7 1050.3v51.8M1447.9 1050.3v51.8M1449.4 1102.1v-51.8M1453.3 1102.1v-51.8M1457.1 1102.1v-51.8M1461.3 1147.9v-97.6M1465 1050.3v51.8M1466.5 1102.1v-51.8M1468.1 1050.3v51.8M1469.9 1102.1v-51.8M1472.3 1050.3v51.8M1473.5 1102.1v-51.8M1480.8 1102.1v-51.8M1482.6 1050.3v51.8M1489.6 1050.3v51.8M1491.8 1102.1v-51.8M1493.3 1050.3v51.8M1495.3 1102.1v-51.8M1497.2 1050.3v51.8M1508.2 1050.3v51.8M1511.3 1050.3v51.8M1513.3 1102.1v-51.8M1520.7 1102.1v-51.8M1522.6 1050.3v51.8M1529.6 1050.3v51.8M1533 1050.3v51.8M1534.5 1102.1v-51.8M1536.4 1050.3v51.8M1540.1 1050.3v51.8M1543.9 1050.3v51.8M1545.3 1102.1v-51.8M1547.4 1050.3v51.8M1551.4 1050.3v51.8M1555.1 1050.3v51.8M1556.7 1102.1v-51.8M1559.7 1102.1v-51.8M1563.3 1102.1v-51.8M1569.4 1050.3v51.8M1572.8 1050.3v51.8M1578 1102.1v-51.8M1581.8 1050.3v48.8M1581.8 1099.1v48.8M1586.1 1050.3v48.8M1586.1 1099.1v48.8M1589.2 1050.3v97.6M1593.5 1050.3v97.6M1602.4 1050.3v51.8M1609.6 1050.3v51.8M1614.9 1102.1v-51.8M1616.9 1050.3v51.8M1621.1 1050.3v51.8M1622.6 1102.1v-51.8M1625.6 1102.1v-51.8M1629.3 1102.1v-51.8M1631.4 1050.3v51.8M1635.1 1050.3v51.8M1638.3 1050.3v51.8M1640.7 1102.1v-51.8M1645.8 1050.3v51.8M1647.9 1102.1v-51.8M1649.3 1050.3v51.8M1651.1 1102.1v-51.8M1658.3 1102.1v-51.8M1660.1 1050.3v51.8M1662.2 1102.1v-51.8M1664 1096.1v51.8M1666 1147.9v-97.6M1667.9 1102.1v-51.8M1670.2 1050.3v51.8M1673.4 1050.3v51.8M1677.7 1050.3v51.8M1679 1102.1v-51.8M1681 1050.3v51.8M1681.2 1096.1v97.6M1682 1193.7v-48.8M1682 1144.9v-45.8M1682 1099.1v-48.8M1682.2 1050.3v51.8M1684.3 1102.1v-51.8M1685.5 1050.3v51.8M1687.7 1102.1v-51.8M1689 1050.3v51.8M1696.3 1050.3v51.8M1704 1096.1v51.8M1705.9 1147.9v-48.8M1705.9 1099.1v-48.8M1707.5 1050.3v48.8M1707.5 1099.1v48.8M1709.5 1050.3v48.8M1709.5 1099.1v45.8M1709.5 1144.9v48.8M1711.5 1193.7v-143.4M1711.8 1050.3v51.8M1717 1102.1v-51.8M1720.7 1102.1v-51.8M1722.4 1050.3v51.8M1724.3 1102.1v-51.8M1726.1 1050.3v51.8M1729.3 1050.3v51.8M1731.4 1102.1v-51.8M1732.8 1050.3v51.8M1736.3 1050.3v51.8M1738.2 1102.1v-51.8M1738.2 1053.3h.2M1738.5 1053.3h1.5M1740.2 1056.3v-51.8M1741.8 1004.5v51.8M1743.9 1056.3v-51.8M1747.9 1056.3v-51.8M1749.5 1004.5v51.8M1750.8 1056.3v-51.8M1758.1 1056.3v-51.8M1768 1102.1v-97.6M1769.2 1004.5v97.6M1771.2 1102.1v-48.8M1771.2 1053.3v-48.8M1772.6 1004.5v48.8M1772.6 1053.3v48.8M1776.4 1004.5v97.6M1778.2 1102.1v-48.8M1778.2 1053.3v-48.8M1785.3 1102.1v-51.8M1787.2 1050.3v51.8M1788.7 1102.1v-48.8M1788.7 1053.3v-48.8M1790.8 1004.5v48.8M1790.8 1053.3v48.8M1792.1 1102.1v-48.8M1792.1 1053.3v-48.8M1794.2 1004.5v97.6M1798 1050.3v51.8M1799.5 1096.1v51.8M1801.5 1004.5v189.2M1803.2 1193.7v-189.2M1804.5 1004.5v48.8M1804.5 1053.3v45.8M1804.5 1099.1v45.8M1804.5 1144.9v48.8M1804.8 1193.7v-143.4M1806.6 1050.3v97.6M1808 1147.9v-97.6M1815.2 1147.9v-143.4M1817.4 1004.5v51.8M1822.3 1147.9v-143.4M1824.7 1004.5v97.6M1826.5 1050.3v143.4M1828 1193.7v-143.4M1829.5 1050.3v48.8M1829.5 1099.1v45.8M1829.5 1144.9v48.8M1831.2 1193.7v-189.2M1831.5 1004.5v97.6M1836.9 1102.1v-97.6M1841.8 1004.5v48.8M1841.8 1053.3v48.8M1845.4 1004.5v51.8M1850.9 1102.1v-48.8M1850.9 1053.3v-48.8M1852.5 1004.5v51.8M1854.4 1056.3v-51.8M1860 1050.3v51.8M1861.5 1102.1v-51.8M1863.5 1102.1v-97.6M1871 1056.3v-51.8M1872.8 1004.5v51.8M1873.9 1056.3v-51.8M1877.8 1056.3v-51.8M1879.4 1004.5v51.8M1881.2 1056.3v-51.8M1883 1004.5v51.8M1886.7 1004.5v51.8M1890.2 1004.5v51.8M1892.2 1056.3v-51.8M1895.6 1056.3v-51.8M1899.2 1056.3v-51.8M1903.1 1056.3v-51.8M1906.8 1056.3v-51.8M1908.3 1004.5v51.8M1912 1004.5v51.8M1913.9 1193.7v-189.2M1915.1 1004.5v97.6M1917 1102.1v-48.8M1917 1053.3v-48.8M1917.2 1004.5v48.8M1917.2 1053.3v48.8M1918.9 1102.1v-51.8M1924.3 1004.5v48.8M1924.3 1053.3v48.8M1930.2 1102.1v-51.8M1937.7 1102.1v-48.8M1937.7 1053.3v-48.8M1939.6 1004.5v51.8M1941.3 1056.3v-51.8M1947 1096.1v189.2M1948.5 1285.3v-280.8M1950.2 1004.5v48.8M1950.2 1053.3v45.8M1950.2 1099.1v45.8M1950.2 1144.9v45.8M1950.2 1190.7v45.8M1950.2 1236.5v48.8M1951.8 1285.3v-48.8M1951.8 1236.5v-45.8M1951.8 1190.7v-45.8M1951.8 1144.9v-45.8M1951.8 1099.1v-45.8M1951.8 1053.3v-48.8M1952 1004.5v97.6M1953.7 1102.1v-97.6M1955.6 1004.5v97.6M1959.1 1004.5v97.6M1960.9 1102.1v-48.8M1960.9 1053.3v-48.8M1966.4 1004.5v48.8M1966.4 1053.3v48.8M1971.7 1056.3v-51.8M1975.8 1102.1v-97.6M1977.6 1004.5v48.8M1977.6 1053.3v48.8M1981.2 1004.5v48.8M1981.2 1053.3v48.8M1989.8 1102.1v-97.6M1990 1004.5v48.8M1990 1053.3v45.8M1990 1099.1v48.8M1991.8 1147.9v-48.8M1991.8 1099.1v-45.8M1991.8 1053.3v-48.8M1993.2 1004.5v143.4M1993.5 1147.9v-143.4M1995.1 1004.5v51.8M1997 1056.3v-51.8M2000.2 1056.3v-51.8M2007.5 1056.3v-51.8M2009.5 1004.5v51.8M2020.1 1004.5v51.8M2021.6 1056.3v-51.8M2023.5 1004.5v51.8M2025.8 1056.3v-51.8M2027.2 1004.5v51.8M2031.1 1004.5v51.8M2033.3 1056.3v-51.8M2039.8 1056.3v-51.8M2042 1004.5v51.8M2044 1056.3v-51.8M2047.2 1056.3v-51.8M2048.9 1004.5v51.8M2051.5 1056.3v-51.8M2056.5 1004.5v51.8M2056.8 1050.3v97.6M2058.7 1147.9v-48.8M2058.7 1099.1v-45.8M2058.7 1053.3v-48.8M2060.2 1004.5v48.8M2060.2 1053.3v45.8M2060.2 1099.1v48.8M2060.5 1147.9v-48.8M2060.5 1099.1v-45.8M2060.5 1053.3v-48.8M2062.4 1004.5v48.8M2062.4 1053.3v48.8M2064.3 1102.1v-97.6M2068.2 1102.1v-48.8M2068.2 1053.3v-48.8M2069.3 1004.5v48.8M2069.3 1053.3v48.8M2071.8 1102.1v-97.6M2075 1056.3v-51.8M2076.6 1004.5v97.6M2080.8 1004.5v97.6M2081 1102.1v-97.6M2082.7 1004.5v97.6M2084.3 1102.1v-97.6M2086.1 1004.5v48.8M2086.1 1053.3v45.8M2086.1 1099.1v48.8M2091.9 1147.9v-143.4M2094 1004.5v48.8M2094 1053.3v45.8M2094 1099.1v48.8M2095.9 1004.5v48.8M2095.9 1053.3v45.8M2095.9 1099.1v45.8M2095.9 1144.9v48.8M2098.1 1193.7v-48.8M2098.1 1144.9v-45.8M2098.1 1099.1v-45.8M2098.1 1053.3v-48.8M2102.9 1004.5v48.8M2102.9 1053.3v45.8M2102.9 1099.1v45.8M2102.9 1144.9v48.8M2104.5 1193.7v-48.8M2104.5 1144.9v-45.8M2104.5 1099.1v-45.8M2104.5 1053.3v-48.8M2106.2 1004.5v48.8M2106.2 1053.3v45.8M2106.2 1099.1v45.8M2106.2 1144.9v48.8M2114.9 1102.1v-97.6M2116.1 1004.5v51.8M2118.2 1056.3v-51.8M2121.8 1102.1v-51.8M2128.9 1102.1v-48.8M2128.9 1053.3v-48.8M2137 1102.1v-48.8M2137 1053.3v-48.8M2140.5 1056.3v-51.8M2142.2 1004.5v51.8M2148 1331.1v-48.8M2148 1282.3v-45.8M2148 1236.5v-45.8M2148 1190.7v-45.8M2148 1144.9v-45.8M2148 1099.1v-45.8M2148 1053.3v-48.8M2151.2 1331.1v-143.4M2151.5 1193.7v-48.8M2151.5 1144.9v-45.8M2151.5 1099.1v-45.8M2151.5 1053.3v-48.8M2153.3 1004.5v51.8M2169.3 1056.3v-51.8M2171.2 1004.5v51.8M2176.4 1056.3v-51.8M2178.6 1004.5v51.8M2185.4 1004.5v51.8M2187.4 1056.3v-51.8M2189.3 1004.5v51.8M2192.6 1004.5v51.8M2197.6 1056.3v-51.8M2201.7 1056.3v-51.8M2205 1056.3v-51.8M2212.3 1056.3v-51.8M2216.3 1056.3v-51.8M2217.8 1004.5v51.8M2221.2 1004.5v51.8M2222.7 1056.3v-51.8M2225.1 1004.5v51.8M2226.9 1056.3v-51.8M2228.3 1004.5v51.8M2230.4 1056.3v-51.8M2231.8 1004.5v51.8M2237.1 1056.3v-51.8M2239.3 1004.5v51.8M2241.1 1056.3v-51.8M2243 1004.5v51.8M2248.1 1056.3v-51.8M2249.8 1004.5v51.8"/>
<path class="s" stroke="#EDB120" stroke-dasharray="7.5 5.9" stroke-dashoffset="6.7" d="M318.8 1056.3v-51.8M320.6 1004.5v51.8M335 1004.5v51.8M336.7 1056.3v-51.8M342.2 1004.5v51.8M350.2 1056.3v-48.8M350.2 1007.5v-48.8M356.2 958.7v48.8M356.2 1007.5v48.8M359.5 958.7v51.8M365.1 1056.3v-51.8M368.9 1056.3v-51.8M370.5 1004.5v51.8M374.6 1004.5v51.8M394.2 1056.3v-51.8M409.2 1056.3v-51.8M424.6 1004.5v51.8M426.3 1056.3v-51.8M427.8 1004.5v51.8M430.4 1056.3v-51.8M433.6 1056.3v-51.8M446.4 1004.5v51.8M451.8 1056.3v-51.8M459.3 958.7v51.8M470.5 958.7v51.8M472.8 958.7v51.8M553.5 1010.5v-51.8M586.2 1010.5v-51.8M590.2 1010.5v-51.8M591.5 958.7v51.8M593.8 1010.5v-51.8M599 958.7v51.8M604.6 1010.5v-51.8M605.9 958.7v51.8M609.9 958.7v51.8M620.8 958.7v51.8M625.8 1010.5v-51.8M637.1 1010.5v-51.8M647.1 1010.5v-51.8M660.4 958.7v51.8M663.8 958.7v51.8M664 1004.5v51.8M669.1 1010.5v-51.8M674.7 958.7v97.6M679.8 1056.3v-51.8M688.5 958.7v48.8M688.5 1007.5v48.8M696.9 1056.3v-48.8M696.9 1007.5v-48.8M699.1 958.7v97.6M705.9 958.7v51.8M732.8 1056.3v-48.8M732.8 1007.5v-48.8M734 958.7v48.8M734 1007.5v48.8M738.1 958.7v51.8M739.9 1010.5v-51.8M741.5 958.7v51.8M752.9 1056.3v-48.8M752.9 1007.5v-48.8M754.8 958.7v97.6M756.4 1056.3v-48.8M756.4 1007.5v-48.8M759.7 1056.3v-48.8M759.7 1007.5v-48.8M765.2 1056.3v-48.8M765.2 1007.5v-48.8M770.4 958.7v51.8M772.4 1010.5v-51.8M774.4 958.7v51.8M776.3 1010.5v-51.8M781.5 958.7v51.8M789.4 1056.3v-48.8M789.4 1007.5v-48.8M791.1 958.7v97.6M794.6 958.7v48.8M794.6 1007.5v48.8M796 1056.3v-97.6M798.2 958.7v51.8M804.8 1004.5v51.8M811 958.7v51.8M813.2 1010.5v-51.8M814.5 958.7v51.8M816.4 1010.5v-51.8M819.9 1010.5v-51.8M821.7 958.7v51.8M827.2 1010.5v-51.8M834.9 1010.5v-51.8M836.5 958.7v51.8M840.4 958.7v51.8M847.4 958.7v51.8M856.4 1010.5v-51.8M863.5 1010.5v-51.8M870.2 958.7v143.4M874.4 958.7v143.4M881.2 1004.5v48.8M881.2 1053.3v48.8M883.7 1102.1v-143.4M893 1102.1v-51.8M895 1050.3v51.8M898.7 1004.5v97.6M900.3 1102.1v-97.6M904.3 1056.3v-51.8M909.3 1050.3v51.8M916.8 1004.5v48.8M916.8 1053.3v48.8M919.8 1004.5v48.8M919.8 1053.3v48.8M922.2 1102.1v-51.8M925.3 1102.1v-48.8M925.3 1053.3v-48.8M930.8 1050.3v51.8M932.9 1102.1v-97.6M936.4 1102.1v-97.6M938.3 1004.5v51.8M942.2 1004.5v48.8M942.2 1053.3v48.8M945.4 1004.5v48.8M945.4 1053.3v48.8M956.3 1004.5v48.8M956.3 1053.3v48.8M963.6 1004.5v97.6M965 1102.1v-51.8M987 1102.1v-97.6M993.3 1004.5v97.6M994.5 1102.1v-48.8M994.5 1053.3v-48.8M998 1056.3v-51.8M999.9 1004.5v48.8M999.9 1053.3v48.8M1005.2 1102.1v-48.8M1005.2 1053.3v-48.8M1007.1 1102.1v-51.8M1009.2 1050.3v51.8M1011.1 1102.1v-51.8M1012.6 1050.3v51.8M1014.4 1102.1v-51.8M1016.8 1096.1v51.8M1033.3 1050.3v48.8M1033.3 1099.1v45.8M1033.3 1144.9v48.8M1035.2 1193.7v-51.8M1037.2 1141.9v51.8M1037.5 1187.7v280.8M1047.4 1050.3v48.8M1047.4 1099.1v45.8M1047.4 1144.9v45.8M1047.4 1190.7v45.8M1047.4 1236.5v45.8M1047.4 1282.3v45.8M1047.4 1328.1v45.8M1047.4 1373.9v45.8M1047.4 1419.7v48.8M1049.4 1468.5v-48.8M1049.4 1419.7v-45.8M1049.4 1373.9v-45.8M1049.4 1328.1v-45.8M1049.4 1282.3v-45.8M1049.4 1236.5v-45.8M1049.4 1190.7v-45.8M1049.4 1144.9v-45.8M1049.4 1099.1v-48.8M1060.7 1050.3v143.4M1061.9 1193.7v-48.8M1061.9 1144.9v-45.8M1061.9 1099.1v-48.8M1063.7 1050.3v143.4M1065.6 1193.7v-143.4M1069.4 1193.7v-48.8M1069.4 1144.9v-45.8M1069.4 1099.1v-48.8M1074.6 1050.3v51.8M1076.5 1102.1v-51.8M1080.5 1050.3v51.8M1083.8 1050.3v51.8M1086.1 1102.1v-51.8M1089.3 1102.1v-51.8M1092.6 1102.1v-51.8M1096.3 1102.1v-51.8M1097.9 1050.3v51.8M1101.4 1050.3v51.8M1103.5 1102.1v-51.8M1103.8 1050.3v418.2M1114.7 1050.3v418.2M1115.6 1468.5v-418.2M1117.8 1050.3v48.8M1117.8 1099.1v45.8M1117.8 1144.9v45.8M1117.8 1190.7v45.8M1117.8 1236.5v45.8M1117.8 1282.3v45.8M1117.8 1328.1v45.8M1117.8 1373.9v45.8M1117.8 1419.7v48.8M1119.6 1050.3v48.8M1119.6 1099.1v45.8M1119.6 1144.9v45.8M1119.6 1190.7v48.8M1126.6 1050.3v51.8M1129.1 1102.1v-51.8M1133.6 1050.3v48.8M1133.6 1099.1v45.8M1133.6 1144.9v45.8M1133.6 1190.7v48.8M1139.2 1239.5v-48.8M1139.2 1190.7v-45.8M1139.2 1144.9v-45.8M1139.2 1099.1v-48.8M1145 1147.9v-48.8M1145 1099.1v-48.8M1146.5 1050.3v51.8M1152.1 1147.9v-51.8M1157.5 1096.1v51.8M1160.6 1050.3v51.8M1164 1050.3v51.8M1165.7 1102.1v-51.8M1175.4 1050.3v48.8M1175.4 1099.1v48.8M1182 1096.1v51.8M1182.2 1147.9v-97.6M1183.7 1050.3v51.8M1195.3 1050.3v51.8M1198.6 1050.3v51.8M1202.4 1050.3v51.8M1215.1 1102.1v-51.8M1221.8 1102.1v-51.8M1225.3 1102.1v-51.8M1229 1102.1v-51.8M1231.4 1050.3v51.8M1236.7 1102.1v-51.8M1240 1102.1v-51.8M1247.6 1102.1v-51.8M1252.5 1050.3v51.8M1254.6 1102.1v-51.8M1260.2 1096.1v51.8M1261.9 1147.9v-97.6M1274.4 1050.3v48.8M1274.4 1099.1v48.8M1276.9 1147.9v-48.8M1276.9 1099.1v-48.8M1280.5 1102.1v-51.8M1281.8 1050.3v51.8M1283.7 1102.1v-51.8M1285.5 1050.3v48.8M1285.5 1099.1v48.8M1285.8 1147.9v-48.8M1285.8 1099.1v-48.8M1293.4 1102.1v-51.8M1294.5 1050.3v51.8M1302.5 1096.1v51.8M1304.2 1147.9v-48.8M1304.2 1099.1v-48.8M1304.5 1050.3v51.8M1306.3 1102.1v-51.8M1309.6 1102.1v-51.8M1311.7 1050.3v51.8M1313.1 1102.1v-51.8M1322.5 1050.3v51.8M1326.1 1050.3v51.8M1327.7 1102.1v-51.8M1329.7 1050.3v51.8M1337.2 1050.3v51.8M1338.9 1102.1v-51.8M1341 1050.3v51.8M1348.2 1050.3v51.8M1349.3 1102.1v-51.8M1356.7 1102.1v-51.8M1365.8 1050.3v51.8M1381.9 1102.1v-51.8M1384.3 1050.3v51.8M1390.8 1050.3v51.8M1392.7 1102.1v-51.8M1395 1050.3v51.8M1396.8 1102.1v-51.8M1398.4 1050.3v51.8M1400.4 1102.1v-51.8M1405.7 1050.3v51.8M1410.8 1102.1v-51.8M1420.2 1050.3v51.8M1421.8 1102.1v-51.8M1423.9 1050.3v51.8M1438.3 1102.1v-51.8M1440 1050.3v51.8M1441.8 1102.1v-51.8M1444 1050.3v51.8M1445.5 1102.1v-51.8M1451.3 1050.3v51.8M1455.2 1050.3v51.8M1458.5 1050.3v51.8M1460.2 1102.1v-51.8M1460.2 1050.3v48.8M1460.2 1099.1v48.8M1461.2 1050.3v51.8M1462.9 1102.1v-51.8M1475.9 1050.3v51.8M1477.4 1102.1v-51.8M1479 1050.3v51.8M1484.6 1102.1v-51.8M1486.5 1050.3v51.8M1487.9 1102.1v-51.8M1498.8 1102.1v-51.8M1500.6 1050.3v51.8M1502.6 1102.1v-51.8M1504 1050.3v51.8M1505.8 1102.1v-51.8M1510 1102.1v-51.8M1514.8 1050.3v51.8M1516.5 1102.1v-51.8M1518.7 1050.3v51.8M1524.1 1102.1v-51.8M1525.7 1050.3v51.8M1527.6 1102.1v-51.8M1531.7 1102.1v-51.8M1538.1 1102.1v-51.8M1542.2 1102.1v-51.8M1549.2 1102.1v-51.8M1552.8 1102.1v-51.8M1558.4 1050.3v51.8M1562 1050.3v51.8M1565.7 1050.3v51.8M1567.6 1102.1v-51.8M1571.2 1102.1v-51.8M1574.3 1102.1v-51.8M1576.6 1050.3v51.8M1578.2 1050.3v97.6M1580 1147.9v-97.6M1583.7 1147.9v-97.6M1587.8 1147.9v-97.6M1591.3 1147.9v-48.8M1591.3 1099.1v-48.8M1593.8 1147.9v-48.8M1593.8 1099.1v-48.8M1595.7 1050.3v51.8M1597 1102.1v-51.8M1598.8 1050.3v51.8M1601 1102.1v-51.8M1604.3 1102.1v-51.8M1606.6 1050.3v51.8M1608 1102.1v-51.8M1611.3 1102.1v-51.8M1613.1 1050.3v51.8M1618.8 1102.1v-51.8M1624.7 1050.3v51.8M1627.7 1050.3v51.8M1632.8 1102.1v-51.8M1637.2 1102.1v-51.8M1642.2 1050.3v51.8M1644.2 1102.1v-51.8M1653 1050.3v51.8M1654.6 1102.1v-51.8M1656.3 1050.3v51.8M1663.8 1050.3v51.8M1666.2 1050.3v51.8M1672 1102.1v-51.8M1675.8 1102.1v-51.8M1691.3 1102.1v-51.8M1692.7 1050.3v51.8M1694.9 1102.1v-51.8M1698 1102.1v-51.8M1700.1 1050.3v51.8M1702 1102.1v-51.8M1703.8 1050.3v51.8M1709.2 1147.9v-97.6M1713.6 1102.1v-51.8M1715 1050.3v51.8M1718.9 1050.3v51.8M1727.8 1102.1v-51.8M1735.1 1102.1v-51.8M1745.4 1004.5v51.8M1752.8 1004.5v51.8M1754.5 1056.3v-51.8M1756.1 1004.5v51.8M1760.3 1004.5v51.8M1761.6 1056.3v-51.8M1763.8 1004.5v51.8M1765.5 1056.3v-51.8M1765.8 1004.5v97.6M1774.4 1102.1v-97.6M1780.2 1004.5v48.8M1780.2 1053.3v48.8M1781.8 1102.1v-48.8M1781.8 1053.3v-48.8M1783.4 1004.5v48.8M1783.4 1053.3v48.8M1794.5 1102.1v-48.8M1794.5 1053.3v-48.8M1796.2 1004.5v51.8M1799.8 1147.9v-143.4M1809.7 1050.3v97.6M1811.5 1147.9v-51.8M1813.7 1096.1v51.8M1819 1056.3v-51.8M1821.3 1004.5v48.8M1821.3 1053.3v45.8M1821.3 1099.1v48.8M1826.2 1102.1v-51.8M1833.6 1102.1v-48.8M1833.6 1053.3v-48.8M1834.9 1004.5v48.8M1834.9 1053.3v48.8M1838.9 1004.5v48.8M1838.9 1053.3v48.8M1840.4 1102.1v-97.6M1844.2 1102.1v-48.8M1844.2 1053.3v-48.8M1847.1 1056.3v-51.8M1849.5 1004.5v48.8M1849.5 1053.3v48.8M1856.5 1004.5v97.6M1858 1102.1v-51.8M1863.2 1050.3v51.8M1864.9 1004.5v51.8M1867.1 1056.3v-51.8M1868.8 1004.5v51.8M1876 1004.5v51.8M1885.2 1056.3v-51.8M1888.3 1056.3v-51.8M1894.1 1004.5v51.8M1897.8 1004.5v51.8M1901.4 1004.5v51.8M1904.5 1004.5v51.8M1910.2 1056.3v-51.8M1912.2 1050.3v48.8M1912.2 1099.1v45.8M1912.2 1144.9v48.8M1920.7 1050.3v51.8M1923.2 1102.1v-97.6M1926.3 1102.1v-48.8M1926.3 1053.3v-48.8M1928.4 1004.5v97.6M1932.1 1050.3v51.8M1934.2 1102.1v-97.6M1935.3 1004.5v97.6M1942.9 1004.5v48.8M1942.9 1053.3v48.8M1944.8 1102.1v-51.8M1946.8 1050.3v51.8M1957.6 1102.1v-97.6M1962.4 1004.5v97.6M1964.6 1102.1v-97.6M1967.8 1102.1v-48.8M1967.8 1053.3v-48.8M1970.4 1004.5v51.8M1973.4 1004.5v48.8M1973.4 1053.3v48.8M1978.9 1102.1v-48.8M1978.9 1053.3v-48.8M1982.6 1102.1v-48.8M1982.6 1053.3v-48.8M1984.1 1004.5v97.6M1986.6 1102.1v-51.8M1988.3 1050.3v51.8M1998 1004.5v48.8M1998 1053.3v48.8M2000 1102.1v-51.8M2001.9 1004.5v51.8M2004.2 1056.3v-51.8M2005.9 1004.5v51.8M2011.1 1056.3v-51.8M2013.2 1004.5v51.8M2014.5 1056.3v-51.8M2016.6 1004.5v51.8M2018.5 1056.3v-51.8M2029.5 1056.3v-51.8M2035 1004.5v51.8M2036.7 1056.3v-51.8M2038.2 1004.5v51.8M2046 1004.5v51.8M2053.1 1004.5v51.8M2054.7 1056.3v-51.8M2065.7 1004.5v48.8M2065.7 1053.3v48.8M2073.3 1004.5v51.8M2079.1 1102.1v-48.8M2079.1 1053.3v-48.8M2088.8 1147.9v-48.8M2088.8 1099.1v-45.8M2088.8 1053.3v-48.8M2090.4 1004.5v143.4M2094.2 1147.9v-48.8M2094.2 1099.1v-45.8M2094.2 1053.3v-48.8M2099.5 1004.5v189.2M2100.8 1193.7v-48.8M2100.8 1144.9v-45.8M2100.8 1099.1v-45.8M2100.8 1053.3v-48.8M2106.5 1193.7v-51.8M2108.7 1147.9v-48.8M2108.7 1099.1v-45.8M2108.7 1053.3v-48.8M2110.5 1004.5v48.8M2110.5 1053.3v45.8M2110.5 1099.1v45.8M2110.5 1144.9v45.8M2110.5 1190.7v45.8M2110.5 1236.5v45.8M2110.5 1282.3v45.8M2110.5 1328.1v45.8M2110.5 1373.9v45.8M2110.5 1419.7v48.8M2112.5 1468.5v-48.8M2112.5 1419.7v-45.8M2112.5 1373.9v-45.8M2112.5 1328.1v-45.8M2112.5 1282.3v-45.8M2112.5 1236.5v-45.8M2112.5 1190.7v-45.8M2112.5 1144.9v-45.8M2112.5 1099.1v-45.8M2112.5 1053.3v-48.8M2112.8 1004.5v97.6M2120.6 1004.5v48.8M2120.6 1053.3v48.8M2123.4 1050.3v51.8M2125.9 1102.1v-48.8M2125.9 1053.3v-48.8M2127.7 1004.5v97.6M2130.8 1004.5v48.8M2130.8 1053.3v48.8M2133 1102.1v-48.8M2133 1053.3v-48.8M2134.7 1004.5v48.8M2134.7 1053.3v48.8M2138.8 1004.5v51.8M2142.5 1050.3v48.8M2142.5 1099.1v45.8M2142.5 1144.9v45.8M2142.5 1190.7v45.8M2142.5 1236.5v45.8M2142.5 1282.3v48.8M2144.4 1331.1v-48.8M2144.4 1282.3v-45.8M2144.4 1236.5v-45.8M2144.4 1190.7v-45.8M2144.4 1144.9v-45.8M2144.4 1099.1v-45.8M2144.4 1053.3v-48.8M2145.7 1004.5v326.6M2149.2 1004.5v48.8M2149.2 1053.3v45.8M2149.2 1099.1v45.8M2149.2 1144.9v45.8M2149.2 1190.7v45.8M2149.2 1236.5v45.8M2149.2 1282.3v48.8M2155.5 1056.3v-51.8M2156.4 1004.5v51.8M2158.3 1056.3v-51.8M2160.6 1004.5v51.8M2162.6 1056.3v-51.8M2164 1004.5v51.8M2166 1056.3v-51.8M2167.7 1004.5v51.8M2173.1 1056.3v-51.8M2174.3 1004.5v51.8M2179.9 1056.3v-51.8M2181.9 1004.5v51.8M2183.5 1056.3v-51.8M2191.3 1056.3v-51.8M2194.2 1056.3v-51.8M2196.1 1004.5v51.8M2199.6 1004.5v51.8M2203.5 1004.5v51.8M2206.7 1004.5v51.8M2208.4 1056.3v-51.8M2210.3 1004.5v51.8M2213.9 1004.5v51.8M2219.4 1056.3v-51.8M2233.6 1056.3v-51.8M2235.4 1004.5v51.8M2244.2 1056.3v-51.8M2246.6 1004.5v51.8M2251.7 1056.3v-51.8M2253.5 1004.5v51.8"/>
<path fill="none" stroke="#EDB120" stroke-width="17" d="M1042 1053.3V1470.5"/>
<path fill="none" stroke="#EDB120" stroke-width="17" d="M1110 1053.3V1470.5"/>
<path fill="none" stroke="#EDB120" stroke-width="10.2" d="M2110 1099.1V1470.5"/>
<path class="s" stroke="#7E2F8E" stroke-dasharray="28 5.8 13.8 5.8" stroke-dashoffset="0" d="M297.9 366.3v45.8M297.9 412.1v45.8M299.3 457.9v-45.8M299.3 412.1v-45.8M300.8 366.3v45.8M302.2 412.1v-45.8M302.5 366.3v45.8M302.5 412.1v45.8M302.5 457.9v45.8M303.8 503.7v-45.8M303.8 457.9v-45.8M303.8 412.1v-45.8M305.1 366.3v45.8M305.1 412.1v45.8M305.1 457.9v45.8M307.2 503.7v-91.6M308.5 412.1v45.8M308.5 457.9v45.8M309.6 503.7v-45.8M309.6 457.9v-45.8M310.9 412.1v91.6M312.8 503.7v-45.8M312.8 457.9v-45.8M312.8 412.1v-45.8M313.9 366.3v45.8M313.9 412.1v45.8M313.9 457.9v45.8M315.3 503.7v-45.8M315.3 457.9v-45.8M317 412.1v45.8M317 457.9v45.8M317.2 503.7v-45.8M317.2 457.9v-45.8M317.2 412.1v-45.8M318.7 366.3v45.8M318.7 412.1v45.8M318.7 457.9v45.8M318.7 503.7v45.8M318.7 549.5v45.8M320.5 595.3v-45.8M320.5 549.5v-45.8M320.5 503.7v-45.8M320.5 457.9v-45.8M320.5 412.1v-45.8M320.8 366.3v45.8M320.8 412.1v45.8M320.8 457.9v45.8M322.3 503.7v-137.4M323.5 366.3v137.4M323.8 503.7v-183.2M325.8 320.5v45.8M325.8 366.3v45.8M325.8 412.1v45.8M325.8 457.9v45.8M326 503.7v-45.8M326 457.9v-45.8M326 412.1v-45.8M327.5 366.3v45.8M327.5 412.1v45.8M327.5 457.9v45.8M328.6 503.7v-137.4M329.9 366.3v137.4M331.2 503.7v-45.8M331.2 457.9v-45.8M331.2 412.1v-45.8M331.5 366.3v45.8M332.6 412.1v-45.8M334.5 366.3v45.8M336.1 412.1v-45.8M337.1 366.3v91.6M338.7 457.9v-45.8M338.7 412.1v-45.8M340 366.3v45.8M341.6 412.1v-45.8M342.8 366.3v45.8M344.2 412.1v-45.8M346.1 366.3v45.8M346.1 412.1v45.8M346.9 457.9v-91.6M348.3 366.3v45.8M350.2 412.1v-45.8M351.3 366.3v91.6M353 457.9v-45.8M354.2 412.1v45.8M355.8 457.9v-45.8M355.8 412.1v-45.8M356 366.3v45.8M356 412.1v45.8M356 457.9v45.8M357.2 503.7v-45.8M357.2 457.9v-45.8M358.7 412.1v91.6M359.9 503.7v-45.8M359.9 457.9v-45.8M359.9 412.1v-45.8M361.4 366.3v45.8M361.4 412.1v45.8M362.5 457.9v-45.8M362.5 412.1v-45.8M364.1 366.3v45.8M364.1 412.1v45.8M364.1 457.9v45.8M364.9 503.7v-45.8M366.5 457.9v45.8M366.4 503.7v-45.8M366.4 457.9v-45.8M366.4 412.1v-45.8M367.6 366.3v45.8M367.6 412.1v45.8M367.6 457.9v45.8M367.6 503.7v45.8M367.5 549.5v-183.2M368.9 366.3v137.4M369.9 503.7v-45.8M369.9 457.9v-45.8M371.7 412.1v45.8M371.7 457.9v45.8M373.2 503.7v-137.4M374 366.3v137.4M375.5 503.7v-45.8M375.5 457.9v-45.8M375.5 412.1v-45.8M375.8 366.3v45.8M375.8 412.1v45.8M375.8 457.9v45.8M376.9 503.7v-45.8M378.4 457.9v45.8M379.6 503.7v-45.8M379.6 457.9v-45.8M380.9 412.1v45.8M380.9 457.9v45.8M382.7 503.7v-91.6M383.5 412.1v45.8M385.4 457.9v-45.8M386.7 412.1v45.8M387.8 457.9v-45.8M388 412.1v45.8M388 457.9v45.8M389.3 503.7v-45.8M390.9 457.9v-45.8M392.7 412.1v-45.8M394.1 366.3v45.8M395.5 412.1v-45.8M395.8 366.3v45.8M395.8 412.1v45.8M397.1 457.9v-45.8M398.7 412.1v45.8M399.9 457.9v-45.8M401.2 412.1v45.8M402.2 457.9v-45.8M404 412.1v45.8M405 457.9v-45.8M405 412.1v-45.8M406.5 366.3v45.8M406.5 412.1v45.8M406.8 457.9v-45.8M406.8 412.1v-45.8M406.8 366.3v-45.8M408.1 320.5v45.8M410 366.3v-45.8M411.4 320.5v45.8M411.4 366.3v45.8M411.4 412.1v45.8M412.8 457.9v-45.8M412.8 412.1v-45.8M412.8 366.3v-45.8M414.4 320.5v45.8M415.9 366.3v-45.8M416.7 320.5v45.8M416.7 366.3v45.8M418.5 412.1v-45.8M418.5 366.3v-45.8M420 320.5v45.8M420 366.3v45.8M420 412.1v45.8M420.2 457.9v45.8M420.2 503.7v45.8M420.2 549.5v45.8M420.2 595.3v45.8M422.2 641.1v-320.6M422.5 320.5v45.8M422.5 366.3v45.8M422.5 412.1v45.8M423.7 457.9v-45.8M423.7 412.1v-45.8M423.7 366.3v-45.8M424.9 320.5v91.6M426.5 412.1v-45.8M426.5 366.3v-45.8M428.1 320.5v45.8M428.1 366.3v45.8M429 412.1v-91.6M430.7 320.5v45.8M432.4 366.3v-45.8M433.5 320.5v183.2M434.8 503.7v-45.8M435 457.9v-137.4M436.4 320.5v91.6M437.8 412.1v-137.4M439.5 274.7v45.8M439.5 320.5v45.8M439.5 366.3v45.8M439.5 412.1v45.8M439.5 457.9v45.8M441.1 503.7v-45.8M441.1 457.9v-45.8M441.1 412.1v-45.8M441.1 366.3v-45.8M441.1 320.5v-45.8M442.7 274.7v45.8M442.7 320.5v45.8M442.7 366.3v45.8M442.7 412.1v45.8M442.7 457.9v45.8M443.5 503.7v-45.8M445.2 457.9v45.8M445.5 503.7v-45.8M445.5 457.9v-45.8M445.5 412.1v-45.8M445.5 366.3v-45.8M447 320.5v45.8M447 366.3v45.8M447 412.1v45.8M447 457.9v45.8M447.9 503.7v-45.8M447.9 457.9v-45.8M447.9 412.1v-45.8M447.9 366.3v-45.8M449.7 320.5v45.8M449.7 366.3v45.8M449.7 412.1v45.8M449.7 457.9v45.8M451 503.7v-45.8M451 457.9v-45.8M451 412.1v-45.8M451.8 366.3v45.8M451.8 412.1v45.8M451.8 457.9v45.8M453.7 503.7v-183.2M454.8 320.5v45.8M455 366.3v45.8M455 412.1v45.8M455 457.9v45.8M455 503.7v45.8M456.8 549.5v-45.8M456.8 503.7v-45.8M456.8 457.9v-45.8M456.8 412.1v-45.8M457.9 366.3v183.2M459.6 549.5v-45.8M459.6 503.7v-45.8M459.6 457.9v-45.8M460.7 412.1v137.4M462.5 549.5v-45.8M462.5 503.7v-45.8M462.5 457.9v-45.8M462.5 412.1v-45.8M462.5 366.3v-45.8M462.8 320.5v45.8M462.8 366.3v45.8M462.8 412.1v45.8M462.8 457.9v45.8M463.5 503.7v-45.8M463.5 457.9v-45.8M463.5 412.1v-45.8M463.5 366.3v-45.8M463.8 320.5v45.8M463.8 366.3v45.8M463.8 412.1v45.8M463.8 457.9v45.8M465 503.7v-229M465.2 274.7v229M466.9 503.7v-45.8M466.9 457.9v-45.8M466.9 412.1v-45.8M466.9 366.3v-45.8M468.3 320.5v45.8M468.3 366.3v45.8M468.3 412.1v45.8M468.3 457.9v45.8M469.5 503.7v-45.8M469.5 457.9v-45.8M469.5 412.1v-45.8M469.5 366.3v-45.8M471 320.5v45.8M471 366.3v45.8M471 412.1v45.8M471 457.9v45.8M472.2 503.7v-45.8M473.6 457.9v45.8M474.9 503.7v-45.8M474.9 457.9v-45.8M474.9 412.1v-45.8M476.5 366.3v45.8M476.5 412.1v45.8M476.5 457.9v45.8M476.8 503.7v-45.8M478.4 457.9v45.8M479.6 503.7v-45.8M479.6 457.9v-45.8M479.6 412.1v-45.8M481 366.3v45.8M481 412.1v45.8M482.1 457.9v-91.6M483.8 366.3v91.6M484 457.9v-45.8M485.5 412.1v45.8M486.6 457.9v-45.8M486.6 412.1v-45.8M487.6 366.3v45.8M487.6 412.1v45.8M489 457.9v-45.8M489.2 412.1v-45.8M490.6 366.3v91.6M491.9 457.9v-45.8M491.9 412.1v-45.8M491.9 366.3v-45.8M493.2 320.5v45.8M493.2 366.3v45.8M493.2 412.1v45.8M494.8 457.9v-45.8M494.8 412.1v-45.8M495 366.3v45.8M495 412.1v45.8M495 457.9v45.8M496.3 503.7v-183.2M497.7 320.5v45.8M497.7 366.3v45.8M497.7 412.1v45.8M497.7 457.9v45.8M499.4 503.7v-45.8M499.4 457.9v-45.8M500.5 412.1v91.6M501.8 503.7v-45.8M501.8 457.9v-45.8M501.8 412.1v-45.8M501.8 366.3v-45.8M502 320.5v45.8M502 366.3v45.8M502 412.1v45.8M502 457.9v45.8M502 503.7v45.8M503.2 549.5v-45.8M503.2 503.7v-45.8M503.2 457.9v-45.8M503.2 412.1v-45.8M503.2 366.3v-45.8M503.2 320.5v45.8M503.2 366.3v45.8M503.2 412.1v45.8M503.2 457.9v45.8M503.2 503.7v45.8M504.3 549.5v-45.8M504.3 503.7v-45.8M504.3 457.9v-45.8M504.3 412.1v-45.8M504.2 366.3v45.8M504.2 412.1v45.8M504.2 457.9v45.8M505.4 503.7v-45.8M506.8 457.9v45.8M508.2 503.7v-45.8M509.7 457.9v45.8M511.2 503.7v-91.6M512.2 412.1v91.6M514 503.7v-45.8M514 457.9v-45.8M514 412.1v-45.8M515.2 366.3v45.8M515.2 412.1v45.8M515.2 457.9v-45.8M515.2 412.1v-45.8M516 366.3v45.8M516 412.1v45.8M516 457.9v-45.8M516 412.1v-45.8M516 366.3v-45.8M517.1 320.5v45.8M518.9 366.3v45.8M520.5 412.1v45.8M521.9 457.9v-137.4M523.3 320.5v45.8M523.3 366.3v45.8M524.6 412.1v-45.8M524.6 366.3v-45.8M526 320.5v45.8M526.2 366.3v45.8M526.2 412.1v45.8M526.2 457.9v45.8M528 503.7v-183.2M528.2 320.5v183.2M529.5 503.7v-137.4M531.3 366.3v45.8M531.3 412.1v45.8M531.3 457.9v45.8M532.4 503.7v-137.4M533.7 366.3v45.8M533.7 412.1v45.8M533.7 457.9v45.8M534.8 503.7v-45.8M534.8 457.9v-45.8M536.5 412.1v45.8M536.8 457.9v45.8M536.8 503.7v45.8M538.3 549.5v-45.8M538.3 503.7v-45.8M538.3 457.9v-45.8M538.3 412.1v-45.8M539.2 366.3v45.8M539.2 412.1v45.8M539.2 457.9v45.8M539.2 503.7v45.8M540.5 549.5v-183.2M541.9 366.3v45.8M543.4 412.1v-45.8M545.3 366.3v45.8M545.3 412.1v45.8M546.3 457.9v-45.8M546.3 412.1v-45.8M547.8 366.3v45.8M547.8 412.1v45.8M547.8 457.9v45.8M547.8 503.7v45.8M549.1 549.5v-45.8M549.1 503.7v-45.8M550.4 457.9v45.8M550.4 503.7v45.8M552.1 549.5v-45.8M553.5 503.7v45.8M554.7 549.5v-137.4M555.9 412.1v45.8M557.6 457.9v-45.8M557.6 412.1v-45.8M558.8 366.3v45.8M558.8 412.1v45.8M558.8 457.9v45.8M558.8 503.7v45.8M559 549.5v-45.8M559 503.7v-45.8M559 457.9v-45.8M559 412.1v-45.8M560 366.3v45.8M560 412.1v45.8M561.7 457.9v-45.8M561.7 412.1v-45.8M563.2 366.3v137.4M563.9 503.7v-45.8M563.9 457.9v-45.8M565.5 412.1v45.8M566.8 457.9v-45.8M566.8 412.1v-45.8M567 366.3v45.8M567 412.1v45.8M568.6 457.9v-45.8M570.2 412.1v45.8M571 457.9v-45.8M572.8 412.1v45.8M572.8 457.9v45.8M573 503.7v-91.6M574.8 412.1v45.8M574.8 457.9v45.8M575.5 503.7v-91.6M577.6 412.1v45.8M579 457.9v-45.8M580.1 412.1v45.8M581.6 457.9v-45.8M583 412.1v137.4M583.2 549.5v-45.8M583.2 503.7v-45.8M583.2 457.9v-45.8M584.8 412.1v45.8M585 457.9v-45.8M585 412.1v-45.8M585 366.3v-45.8M586.5 320.5v45.8M586.5 366.3v45.8M586.5 412.1v45.8M587.6 457.9v-137.4M589.1 320.5v45.8M590.8 366.3v-45.8M592.1 320.5v45.8M593.6 366.3v-45.8M594.6 320.5v45.8M594.6 366.3v45.8M594.6 412.1v45.8M596.1 457.9v-45.8M597.7 412.1v45.8M599.3 457.9v-45.8M600.5 412.1v-45.8M601.9 366.3v-45.8M603.3 320.5v45.8M603.3 366.3v45.8M603.3 412.1v45.8M604.6 457.9v-45.8M604.6 412.1v-45.8M604.6 366.3v-45.8M605.7 320.5v45.8M605.7 366.3v45.8M605.7 412.1v45.8M607.1 457.9v-45.8M607.1 412.1v-45.8M608.8 366.3v91.6M609 457.9v-183.2M610.5 274.7v45.8M610.5 320.5v45.8M610.5 366.3v45.8M612 412.1v-45.8M612 366.3v-45.8M613.5 320.5v91.6M614.9 412.1v-45.8M614.9 366.3v-45.8M614.9 320.5v-45.8M616.2 274.7v45.8M616.2 320.5v45.8M616.2 366.3v45.8M616.2 412.1v45.8M617.8 457.9v-45.8M617.8 412.1v-45.8M619.4 366.3v91.6M620.6 457.9v-45.8M620.6 412.1v-45.8M620.6 366.3v-45.8M620.6 320.5v-45.8M621.6 274.7v45.8M621.6 320.5v45.8M621.6 366.3v45.8M621.6 412.1v45.8M623.6 457.9v-45.8M623.6 412.1v-45.8M623.6 366.3v-45.8M624.8 320.5v45.8M625 366.3v45.8M625 412.1v45.8M625 457.9v45.8M625.8 503.7v-45.8M625.8 457.9v-45.8M625.8 412.1v-45.8M625.8 366.3v-45.8M625.8 320.5v-45.8M626 274.7v45.8M626 320.5v45.8M627.1 366.3v-45.8M627.1 320.5v-45.8M628.5 274.7v183.2M630.2 457.9v-183.2M631.5 274.7v137.4M633.1 412.1v-137.4M634.1 274.7v45.8M634.1 320.5v45.8M634.1 366.3v45.8M634.1 412.1v45.8M635.6 457.9v-45.8M635.6 412.1v-45.8M635.6 366.3v-45.8M635.6 320.5v-45.8M636.9 274.7v45.8M636.9 320.5v45.8M636.9 366.3v45.8M636.9 412.1v45.8M638.4 457.9v-183.2M640.1 274.7v137.4M641.7 412.1v-45.8M641.7 366.3v-45.8M641.7 320.5v-45.8M642.7 274.7v183.2M643.8 457.9v-45.8M643.8 412.1v-45.8M643.8 366.3v-45.8M643.8 320.5v-45.8M645.6 274.7v45.8M645.6 320.5v45.8M645.6 366.3v45.8M645.6 412.1v45.8M646.9 457.9v-45.8M646.9 412.1v-45.8M648.5 366.3v45.8M649.4 412.1v-45.8M649.4 366.3v-45.8M649.4 320.5v-45.8M651 274.7v45.8M651 320.5v45.8M651 366.3v45.8M651 412.1v45.8M652.4 457.9v-45.8M652.4 412.1v-45.8M652.4 366.3v-45.8M652.4 320.5v-45.8M653.5 274.7v45.8M655.2 320.5v45.8M655.2 366.3v45.8M655.5 412.1v-45.8M655.5 366.3v-45.8M656.7 320.5v45.8M656.7 366.3v45.8M656.7 412.1v45.8M658.5 457.9v-45.8M658.5 412.1v-45.8M658.5 366.3v-45.8M660 320.5v45.8M660 366.3v45.8M660 412.1v45.8M660.8 457.9v-91.6M662.4 366.3v45.8M663.8 412.1v-91.6M664 320.5v229M665.3 549.5v-45.8M665.3 503.7v-45.8M666.4 457.9v45.8M666.4 503.7v45.8M667.8 549.5v-45.8M667.8 503.7v-45.8M667.8 457.9v-45.8M667.8 412.1v-45.8M667.8 366.3v-45.8M669.3 320.5v45.8M669.3 366.3v45.8M669.3 412.1v45.8M669.3 457.9v45.8M669.3 503.7v45.8M670.4 549.5v-45.8M670.4 503.7v-45.8M670.4 457.9v-45.8M671.8 412.1v45.8M671.8 457.9v45.8M671.8 503.7v45.8M672 549.5v-229M673.1 320.5v274.8M674.5 595.3v-274.8M674.8 320.5v274.8M676 595.3v-45.8M676 549.5v-45.8M676 503.7v-45.8M676 457.9v-45.8M676 412.1v-45.8M676 366.3v-45.8M676 320.5v-45.8M677.5 274.7v45.8M677.5 320.5v45.8M677.5 366.3v45.8M677.5 412.1v45.8M677.5 457.9v45.8M677.5 503.7v45.8M677.5 549.5v45.8M678.5 595.3v-45.8M678.5 549.5v-45.8M678.5 503.7v-45.8M678.5 457.9v-45.8M678.5 412.1v-45.8M678.5 366.3v-45.8M678.5 320.5v-45.8M678.5 274.7v366.4M679.5 641.1v-45.8M679.5 595.3v-45.8M679.5 549.5v-45.8M679.5 503.7v-45.8M679.5 457.9v-45.8M679.5 412.1v-45.8M679.5 366.3v-45.8M679.5 320.5v-45.8M679.5 274.7v320.6M681.1 595.3v-45.8M681.1 549.5v-45.8M681.9 503.7v-45.8M681.9 457.9v-45.8M681.9 412.1v-45.8M683.7 366.3v-45.8M683.7 320.5v-45.8M684.8 274.7v45.8M684.8 320.5v45.8M684.8 366.3v45.8M684.8 412.1v45.8M684.8 457.9v45.8M684.8 503.7v45.8M684.8 549.5v45.8M685 595.3v-45.8M685 549.5v-45.8M686.5 503.7v45.8M687.7 549.5v-274.8M688.8 274.7v45.8M688.8 320.5v45.8M688.8 366.3v45.8M688.8 412.1v45.8M688.8 457.9v45.8M688.8 503.7v45.8M690.7 549.5v-274.8M691.8 274.7v45.8M691.8 320.5v45.8M691.8 366.3v45.8M691.8 412.1v45.8M691.8 457.9v45.8M691.8 503.7v45.8M693.3 549.5v-45.8M693.3 503.7v-45.8M694.3 457.9v45.8M694.3 503.7v45.8M695.5 549.5v-45.8M695.5 503.7v-45.8M695.5 457.9v-45.8M695.5 412.1v-45.8M695.5 366.3v-45.8M695.5 320.5v-45.8M697.4 274.7v45.8M697.4 320.5v45.8M697.4 366.3v45.8M697.4 412.1v45.8M697.4 457.9v45.8M698.3 503.7v-137.4M700.1 366.3v45.8M700.1 412.1v45.8M700.1 457.9v45.8M700.1 503.7v45.8M701.2 549.5v-45.8M701.2 503.7v-45.8M701.2 457.9v-45.8M701.2 412.1v-45.8M701.2 366.3v-45.8M701.2 320.5v-45.8M701.5 274.7v45.8M701.5 320.5v45.8M701.5 366.3v45.8M701.5 412.1v45.8M702.9 457.9v-45.8M702.9 412.1v-45.8M702.9 366.3v-45.8M704.3 320.5v45.8M704.3 366.3v45.8M704.3 412.1v45.8M704.3 457.9v45.8M705.2 503.7v-45.8M705.2 457.9v-45.8M705.2 412.1v-45.8M705.2 366.3v-45.8M705.5 320.5v45.8M705.5 366.3v45.8M705.5 412.1v45.8M705.5 457.9v45.8M705.5 503.7v45.8M705.5 549.5v45.8M706.6 595.3v-274.8M708.5 320.5v45.8M708.5 366.3v45.8M708.5 412.1v45.8M708.5 457.9v45.8M708.5 503.7v45.8M708.5 549.5v45.8M710 595.3v-45.8M710 549.5v-45.8M710 503.7v-45.8M710 457.9v-45.8M710 412.1v-45.8M710 366.3v-45.8M710.2 320.5v45.8M710.2 366.3v45.8M710.2 412.1v45.8M711.8 457.9v-45.8M713.2 412.1v45.8M714.4 457.9v-137.4M715.5 320.5v45.8M717.2 366.3v45.8M718.7 412.1v45.8M720 457.9v-45.8M720.2 412.1v-45.8M720.2 366.3v-45.8M720.2 320.5v-45.8M721.9 274.7v183.2M723.1 457.9v-45.8M723.1 412.1v-45.8M723.1 366.3v-45.8M723.1 320.5v-45.8M724.5 274.7v45.8M726 320.5v-45.8M727.9 274.7v45.8M727.9 320.5v45.8M727.9 366.3v45.8M727.9 412.1v45.8M729.3 457.9v-137.4M730.4 320.5v45.8M730.4 366.3v45.8M730.4 412.1v45.8M731.9 457.9v-183.2M733.6 274.7v45.8M734.8 320.5v-45.8M735 274.7v274.8M737 549.5v-45.8M737 503.7v-45.8M737 457.9v-45.8M737 412.1v-45.8M737 366.3v-45.8M737 320.5v-45.8M737.2 274.7v45.8M737.2 320.5v45.8M737.2 366.3v45.8M737.2 412.1v45.8M737.2 457.9v45.8M738.6 503.7v-229M740 274.7v229M741.4 503.7v-229M743 274.7v229M744.7 503.7v-45.8M744.7 457.9v-45.8M744.7 412.1v-45.8M744.7 366.3v-45.8M744.7 320.5v-45.8M746.3 274.7v91.6M747.6 366.3v-45.8M747.6 320.5v-45.8M749 274.7v229M749.2 503.7v-45.8M749.2 457.9v-45.8M749.2 412.1v-45.8M750.3 366.3v91.6M752.2 457.9v-45.8M752.2 412.1v-45.8M752.2 366.3v-45.8M752.2 320.5v-45.8M753.4 274.7v45.8M753.4 320.5v45.8M753.4 366.3v45.8M753.4 412.1v45.8M754.5 457.9v-45.8M754.5 412.1v-45.8M754.5 366.3v-45.8M754.5 320.5v-45.8M756.4 274.7v45.8M756.4 320.5v45.8M756.4 366.3v45.8M756.4 412.1v45.8M757.2 457.9v-45.8M757.2 412.1v-45.8M757.2 366.3v-45.8M757.2 320.5v-45.8M758.9 274.7v45.8M758.9 320.5v45.8M758.9 366.3v45.8M758.9 412.1v45.8M759.8 457.9v-45.8M761.3 412.1v45.8M762.7 457.9v-45.8M762.7 412.1v-45.8M762.7 366.3v-45.8M762.7 320.5v-45.8M764.3 274.7v45.8M764.3 320.5v45.8M764.3 366.3v45.8M764.3 412.1v45.8M765.3 457.9v-183.2M766.9 274.7v45.8M766.9 320.5v45.8M766.9 366.3v45.8M768.2 412.1v-45.8M768.2 366.3v-45.8M768.2 320.5v-45.8M768.5 274.7v45.8M768.5 320.5v45.8M768.5 366.3v45.8M768.5 412.1v45.8M768.5 457.9v45.8M769.9 503.7v-45.8M769.9 457.9v-45.8M769.9 412.1v-45.8M769.9 366.3v-45.8M769.9 320.5v-45.8M771 274.7v45.8M772.3 320.5v-45.8M773.5 274.7v45.8M773.5 320.5v45.8M773.5 366.3v45.8M773.5 412.1v45.8M773.5 457.9v45.8M773.8 503.7v-229M775.2 274.7v45.8M775.2 320.5v45.8M775.2 366.3v45.8M775.2 412.1v45.8M775.2 457.9v45.8M775.2 503.7v45.8M776.5 549.5v-45.8M776.5 503.7v-45.8M776.5 457.9v-45.8M776.5 412.1v-45.8M776.5 366.3v-45.8M776.5 320.5v-45.8M778.1 274.7v45.8M778.1 320.5v45.8M778.1 366.3v45.8M779.5 412.1v-45.8M781.3 366.3v45.8M781.3 412.1v45.8M782.8 457.9v45.8M782.8 503.7v45.8M784.2 549.5v45.8M785.5 595.3v-45.8M785.5 549.5v-45.8M785.8 503.7v-45.8M785.8 457.9v-45.8M785.8 412.1v-45.8M785.8 366.3v-45.8M785.8 320.5v-45.8M787.3 274.7v45.8M787.3 320.5v45.8M787.3 366.3v45.8M788.3 412.1v-45.8M788.3 366.3v-45.8M788.3 320.5v-45.8M790 274.7v45.8M790 320.5v45.8M790 366.3v45.8M790 412.1v45.8M791.5 457.9v-45.8M792.8 412.1v45.8M792.8 457.9v45.8M792.8 503.7v45.8M794.2 549.5v-45.8M795.7 503.7v-45.8M795.7 457.9v-45.8M795.7 412.1v-45.8M797.3 366.3v-45.8M797.3 320.5v-45.8M798.7 274.7v45.8M798.7 320.5v45.8M798.7 366.3v45.8M798.7 412.1v45.8M798.7 457.9v45.8M798.7 503.7v45.8M799.7 549.5v-45.8M799.7 503.7v-45.8M799.7 457.9v-45.8M799.7 412.1v-45.8M799.7 366.3v-45.8M799.7 320.5v-45.8M801.2 274.7v45.8M803.1 320.5v45.8M804.2 366.3v45.8M804.2 412.1v45.8M804.5 457.9v45.8M804.5 503.7v45.8M804.5 549.5v45.8M804.5 595.3v45.8M805.8 641.1v-45.8M805.8 595.3v-45.8M805.8 549.5v-45.8M805.8 503.7v-45.8M805.8 457.9v-45.8M805.8 412.1v-45.8M805.8 366.3v-45.8M805.8 320.5v-45.8M806 274.7v45.8M806 320.5v45.8M807.5 366.3v-45.8M807.5 320.5v-45.8M808.7 274.7v45.8M808.7 320.5v45.8M808.7 366.3v45.8M808.7 412.1v45.8M808.7 457.9v45.8M810.2 503.7v-45.8M810.2 457.9v-45.8M811.5 412.1v-45.8M811.5 366.3v-45.8M812.5 320.5v-45.8M814.4 274.7v45.8M814.4 320.5v45.8M814.4 366.3v45.8M815.2 412.1v-137.4M816.6 274.7v274.8M818 549.5v-274.8M819.5 274.7v45.8M819.5 320.5v45.8M819.5 366.3v45.8M819.5 412.1v45.8M819.5 457.9v45.8M819.5 503.7v45.8M819.8 549.5v-274.8M820.5 274.7v45.8M820.5 320.5v45.8M820.5 366.3v45.8M820.5 412.1v45.8M820.5 457.9v45.8M820.5 503.7v45.8M820.5 549.5v45.8M820.5 595.3v45.8M820.5 641.1v45.8M820.5 686.9v45.8M820.8 732.7v-45.8M820.8 686.9v-45.8M820.8 641.1v-45.8M820.8 595.3v-45.8M820.8 549.5v-45.8M820.8 503.7v-45.8M820.8 457.9v-45.8M820.8 412.1v-45.8M820.8 366.3v-45.8M820.8 320.5v-45.8M822.3 274.7v45.8M822.3 320.5v45.8M822.3 366.3v45.8M823.4 412.1v-91.6M824.6 320.5v137.4M826.2 457.9v-45.8M826.2 412.1v-45.8M826.2 366.3v-45.8M826.2 320.5v-45.8M827.3 274.7v183.2M829.1 457.9v-45.8M829.1 412.1v-45.8M829.1 366.3v-45.8M829.1 320.5v-45.8M830 274.7v45.8M831.6 320.5v-45.8M833 274.7v45.8M833 320.5v45.8M833 366.3v45.8M833 412.1v45.8M834.5 457.9v-91.6M835.8 366.3v-45.8M836.9 320.5v-45.8M838.6 274.7v45.8M838.6 320.5v45.8M838.6 366.3v45.8M838.6 412.1v45.8M839.8 457.9v-45.8M839.8 412.1v-45.8M840 366.3v45.8M840 412.1v45.8M840 457.9v45.8M841.7 503.7v-229M843.2 274.7v45.8M843.2 320.5v45.8M843.2 366.3v45.8M843.2 412.1v45.8M843.2 457.9v45.8M844.8 503.7v-45.8M846.3 457.9v-45.8M846.3 412.1v-45.8M846.3 366.3v-45.8M847.7 320.5v-45.8M849 274.7v183.2M849.2 457.9v-45.8M849.2 412.1v-45.8M849.2 366.3v-45.8M849.2 320.5v-45.8M850 274.7v320.6M850.2 595.3v-45.8M850.2 549.5v-45.8M850.2 503.7v-45.8M850.2 457.9v-45.8M850.2 412.1v-45.8M850.2 366.3v-45.8M850.2 320.5v-45.8M851.2 274.7v45.8M851.2 320.5v45.8M851.2 366.3v45.8M851.2 412.1v45.8M851.2 457.9v45.8M851.5 503.7v-45.8M851.5 457.9v-45.8M851.5 412.1v-45.8M851.5 366.3v-45.8M852.6 320.5v183.2M854.3 503.7v-45.8M854.3 457.9v-45.8M856 412.1v45.8M856 457.9v45.8M857.2 503.7v-45.8M857.2 457.9v-45.8M857.2 412.1v-45.8M857.2 366.3v-45.8M858.6 320.5v183.2M859.6 503.7v-45.8M859.6 457.9v-45.8M859.6 412.1v-45.8M859.6 366.3v-45.8M861.4 320.5v45.8M861.4 366.3v45.8M863 412.1v45.8M863.9 457.9v45.8M865.5 503.7v-183.2M867 320.5v45.8M867.2 366.3v45.8M867.2 412.1v45.8M867.2 457.9v45.8M867.2 503.7v45.8M867.2 549.5v45.8M867.2 595.3v45.8M867.2 641.1v45.8M867.2 686.9v45.8M869.2 732.7v-45.8M869.2 686.9v-45.8M869.2 641.1v-45.8M869.2 595.3v-45.8M869.2 549.5v-45.8M869.2 503.7v-45.8M869.2 457.9v-45.8M869.2 412.1v-45.8M869.2 366.3v-45.8M869.5 320.5v45.8M869.5 366.3v45.8M869.5 412.1v45.8M869.5 457.9v45.8M869.5 503.7v45.8M869.5 549.5v45.8M871.4 595.3v-45.8M871.4 549.5v-45.8M871.4 503.7v-45.8M871.4 457.9v-45.8M871.4 412.1v-45.8M871.4 366.3v-45.8M872.8 320.5v45.8M872.8 366.3v45.8M872.8 412.1v45.8M872.8 457.9v45.8M872.8 503.7v45.8M872.8 549.5v45.8M873 595.3v-45.8M873 549.5v-45.8M873 503.7v-45.8M873 457.9v-45.8M873 412.1v-45.8M874.2 366.3v45.8M874.2 412.1v45.8M875.6 457.9v-91.6M877.6 366.3v45.8M877.6 412.1v45.8M877.6 457.9v45.8M877.6 503.7v45.8M877.6 549.5v45.8M878.6 595.3v-45.8M878.6 549.5v-45.8M878.6 503.7v-45.8M878.6 457.9v-45.8M878.6 412.1v-45.8M880.3 366.3v183.2M882 549.5v-45.8M882 503.7v-45.8M882 457.9v-45.8M882.2 412.1v91.6M884 503.7v-45.8M884 457.9v-45.8M884 412.1v-45.8M885.1 366.3v45.8M885.1 412.1v45.8M885.1 457.9v45.8M886.3 503.7v-45.8M886.3 457.9v-45.8M886.3 412.1v-45.8M888.3 366.3v45.8M888.3 412.1v45.8M888.3 457.9v45.8M889.6 503.7v-45.8M889.6 457.9v-45.8M889.6 412.1v-45.8M891.3 366.3v45.8M891.3 412.1v45.8M892.7 457.9v-91.6M894 366.3v91.6M895.4 457.9v-45.8M895.4 412.1v-45.8M896.7 366.3v137.4M897.9 503.7v-45.8M897.9 457.9v-45.8M897.9 412.1v-45.8M899.6 366.3v45.8M901 412.1v45.8M902.5 457.9v-45.8M902.8 412.1v183.2M904.1 595.3v-45.8M904.1 549.5v-45.8M904.1 503.7v-45.8M906.1 457.9v-45.8M907.5 412.1v-45.8M907.8 366.3v137.4M908.9 503.7v-91.6M910.6 412.1v45.8M910.6 457.9v45.8M910.6 503.7v45.8M910.6 549.5v45.8M912.1 595.3v-45.8M912.1 549.5v-45.8M912.1 503.7v-45.8M912.1 457.9v-45.8M913.4 412.1v45.8M913.4 457.9v45.8M913.4 503.7v45.8M913.4 549.5v45.8M914.8 595.3v-45.8M914.8 549.5v-45.8M914.8 503.7v-45.8M914.8 457.9v-45.8M916.1 412.1v45.8M916.1 457.9v45.8M916.1 503.7v45.8M916.1 549.5v45.8M917.6 595.3v-45.8M917.6 549.5v-45.8M917.6 503.7v-45.8M917.6 457.9v-45.8M919.1 412.1v45.8M919.1 457.9v45.8M920.4 503.7v-45.8M920.4 457.9v-45.8M921.7 412.1v45.8M921.7 457.9v45.8M921.7 503.7v45.8M921.7 549.5v45.8M923.5 595.3v-45.8M923.5 549.5v-45.8M923.5 503.7v-45.8M923.5 457.9v-45.8M924.9 412.1v45.8M924.9 457.9v45.8M924.9 503.7v45.8M924.9 549.5v45.8M926.3 595.3v-45.8M926.3 549.5v-45.8M926.3 503.7v-45.8M927.6 457.9v45.8M927.6 503.7v45.8M927.6 549.5v45.8M929.2 595.3v-45.8M930.3 549.5v-45.8M931.8 503.7v-45.8M931.8 457.9v-45.8M933.1 412.1v45.8M933.1 457.9v45.8M933.1 503.7v45.8M933.1 549.5v45.8M934.7 595.3v-45.8M934.7 549.5v-45.8M934.7 503.7v-45.8M934.7 457.9v-45.8M935.8 412.1v45.8M935.8 457.9v45.8M935.8 503.7v45.8M935.8 549.5v45.8M937.5 595.3v-45.8M937.8 549.5v-45.8M937.8 503.7v-45.8M937.8 457.9v-45.8M938.8 412.1v229M939 641.1v-183.2M940.6 457.9v45.8M940.6 503.7v45.8M942.2 549.5v-45.8M943.8 503.7v45.8M944 549.5v-45.8M944 503.7v-45.8M944 457.9v-45.8M944 412.1v-45.8M945.5 366.3v137.4M947.1 503.7v-45.8M947.1 457.9v-45.8M947.1 412.1v-45.8M948.5 366.3v91.6M950.1 457.9v-45.8M950.9 412.1v45.8M950.9 457.9v45.8M952.7 503.7v-45.8M953.8 457.9v-45.8M955.6 412.1v45.8M957.1 457.9v45.8M958.6 503.7v-45.8M958.6 457.9v-45.8M959.6 412.1v45.8M959.6 457.9v45.8M961.2 503.7v-45.8M961.2 457.9v-45.8M961.2 412.1v-45.8M962.8 366.3v45.8M962.8 412.1v45.8M962.8 457.9v45.8M963 503.7v-45.8M963 457.9v-45.8M963 412.1v-45.8M964.4 366.3v183.2M965.5 549.5v-45.8M965.5 503.7v-45.8M965.5 457.9v-45.8M965.5 412.1v-45.8M967 366.3v183.2M968.5 549.5v-45.8M968.5 503.7v-45.8M968.5 457.9v-45.8M968.5 412.1v-45.8M969.8 366.3v45.8M969.8 412.1v45.8M969.8 457.9v45.8M969.8 503.7v45.8M970.8 549.5v-45.8M970.8 503.7v-45.8M970.8 457.9v-45.8M972.3 412.1v137.4M973.5 549.5v-45.8M973.5 503.7v-45.8M973.5 457.9v-45.8M973.8 412.1v183.2M975.8 595.3v-45.8M975.8 549.5v-45.8M975.8 503.7v-45.8M975.8 457.9v-45.8M975.8 412.1v-45.8M976 366.3v45.8M977.2 412.1v45.8M978.9 457.9v45.8M978.9 503.7v45.8M980.3 549.5v-45.8M980.3 503.7v-45.8M980.3 457.9v-45.8M981.7 412.1v45.8M983.2 457.9v-45.8M984.5 412.1v137.4M985.6 549.5v-91.6M987 457.9v91.6M987.2 549.5v-45.8M988.5 503.7v45.8M989.7 549.5v-45.8M989.7 503.7v-45.8M989.7 457.9v-45.8M989.7 412.1v-45.8M991.2 366.3v320.6M992.4 686.9v-45.8M992.4 641.1v-45.8M992.4 595.3v-45.8M992.4 549.5v-45.8M993.8 503.7v45.8M993.8 549.5v45.8M993.8 595.3v45.8M993.8 641.1v45.8M995.2 686.9v-320.6M995.5 366.3v45.8M995.5 412.1v45.8M995.5 457.9v45.8M997.2 503.7v-45.8M998.6 457.9v91.6M999.7 549.5v-45.8M999.7 503.7v-45.8M999.7 457.9v-45.8M999.7 412.1v-45.8M1001.4 366.3v183.2M1002.5 549.5v-45.8M1004.2 503.7v45.8M1004.5 549.5v-45.8M1004.5 503.7v-45.8M1004.5 457.9v-45.8M1004.5 412.1v-45.8M1004.5 366.3v-45.8M1004.5 320.5v-45.8M1006.2 274.7v45.8M1006.2 320.5v45.8M1006.2 366.3v45.8M1006.2 412.1v45.8M1006.2 457.9v45.8M1006.2 503.7v45.8M1008 549.5v-45.8M1008 503.7v-45.8M1008 457.9v-45.8M1008 412.1v-45.8M1008 366.3v-45.8M1008 320.5v-45.8M1008.2 274.7v45.8M1008.2 320.5v45.8M1008.2 366.3v45.8M1008.2 412.1v45.8M1008.2 457.9v45.8M1008.2 503.7v45.8M1009.9 549.5v-137.4M1011 412.1v45.8M1011 457.9v45.8M1011 503.7v45.8M1012.1 549.5v-45.8M1012.1 503.7v-45.8M1012.1 457.9v-45.8M1013.6 412.1v45.8M1013.6 457.9v45.8M1013.6 503.7v45.8M1015.1 549.5v-45.8M1015.1 503.7v-45.8M1015.1 457.9v-45.8M1016.4 412.1v137.4M1017.8 549.5v-45.8M1017.8 503.7v-45.8M1018 457.9v45.8M1018 503.7v45.8M1018 549.5v45.8M1018 595.3v45.8M1019.6 641.1v-45.8M1019.6 595.3v-45.8M1019.6 549.5v-45.8M1019.6 503.7v-45.8M1019.6 457.9v-45.8M1021.2 412.1v91.6M1022.3 503.7v45.8M1024.1 549.5v45.8M1024.1 595.3v45.8M1025.6 641.1v-45.8M1025.6 595.3v-45.8M1025.6 549.5v-45.8M1025.6 503.7v-45.8M1025.6 457.9v-45.8M1026.8 412.1v229M1027.8 641.1v-229M1029.6 412.1v229M1031.3 641.1v-45.8M1031.3 595.3v-45.8M1031.3 549.5v-45.8M1031.3 503.7v-45.8M1031.3 457.9v-45.8M1032.5 412.1v91.6M1032.8 503.7v45.8M1032.8 549.5v45.8M1033.7 595.3v-45.8M1033.7 549.5v-45.8M1033.7 503.7v-45.8M1033.7 457.9v-45.8M1033.7 412.1v-45.8M1035.1 366.3v45.8M1035.1 412.1v45.8M1035.1 457.9v45.8M1035.1 503.7v45.8M1035.1 549.5v45.8M1035.1 595.3v45.8M1036.5 641.1v-45.8M1036.5 595.3v-45.8M1036.8 549.5v274.8M1038.2 824.3v-45.8M1038.2 778.5v-45.8M1038.2 732.7v-45.8M1038.2 686.9v-45.8M1038.2 641.1v-45.8M1038.2 595.3v-45.8M1038.2 549.5v-45.8M1038.2 503.7v-45.8M1038.2 457.9v-45.8M1038.2 412.1v-45.8M1038.5 366.3v45.8M1038.5 412.1v45.8M1038.5 457.9v45.8M1038.5 503.7v45.8M1038.5 549.5v45.8M1038.5 595.3v45.8M1038.5 641.1v45.8M1038.5 686.9v45.8M1038.5 732.7v45.8M1038.5 778.5v45.8M1038.5 824.3v45.8M1038.5 870.1v45.8M1040.5 915.9v-45.8M1040.5 870.1v-45.8M1040.5 824.3v-45.8M1040.5 778.5v-45.8M1040.5 732.7v-45.8M1040.5 686.9v-45.8M1040.5 641.1v-45.8M1040.5 595.3v-45.8M1040.5 549.5v-45.8M1040.5 503.7v-45.8M1040.5 457.9v-45.8M1040.5 412.1v-45.8M1040.8 366.3v45.8M1040.8 412.1v45.8M1040.8 457.9v45.8M1040.8 503.7v45.8M1040.8 549.5v45.8M1040.8 595.3v45.8M1040.8 641.1v45.8M1040.8 686.9v45.8M1040.8 732.7v45.8M1040.8 778.5v45.8M1040.8 824.3v45.8M1040.8 870.1v45.8M1040.8 915.9v45.8M1040.8 961.7v45.8M1040.8 1007.5v45.8M1040.8 1053.3v45.8M1040.8 1099.1v45.8M1040.8 1144.9v45.8M1040.8 1190.7v45.8M1040.8 1236.5v45.8M1040.8 1282.3v45.8M1040.8 1328.1v45.8M1040.8 1373.9v45.8M1042.2 1419.7v-45.8M1042.2 1373.9v-45.8M1042.2 1328.1v-45.8M1042.2 1282.3v-45.8M1042.2 1236.5v-45.8M1042.2 1190.7v-45.8M1042.2 1144.9v-45.8M1042.2 1099.1v-45.8M1042.2 1053.3v-45.8M1042.2 1007.5v-45.8M1042.2 961.7v-45.8M1042.2 915.9v-45.8M1042.2 870.1v-45.8M1042.2 824.3v-45.8M1042.2 778.5v-45.8M1042.2 732.7v-45.8M1042.2 686.9v-45.8M1042.2 641.1v-45.8M1042.2 595.3v-45.8M1042.2 549.5v-45.8M1042.2 503.7v-45.8M1042.2 457.9v-45.8M1042.2 412.1v-45.8M1043.5 366.3v45.8M1043.5 412.1v45.8M1043.5 457.9v45.8M1043.5 503.7v45.8M1043.5 549.5v45.8M1043.5 595.3v45.8M1043.5 641.1v45.8M1043.5 686.9v45.8M1043.5 732.7v45.8M1043.5 778.5v45.8M1043.5 824.3v45.8M1043.5 870.1v45.8M1043.5 915.9v45.8M1043.5 961.7v45.8M1043.5 1007.5v45.8M1043.5 1053.3v45.8M1043.5 1099.1v45.8M1043.5 1144.9v45.8M1043.5 1190.7v45.8M1043.5 1236.5v45.8M1043.5 1282.3v45.8M1043.5 1328.1v45.8M1043.5 1373.9v45.8M1043.8 1419.7v-45.8M1043.8 1373.9v-45.8M1043.8 1328.1v-45.8M1043.8 1282.3v-45.8M1043.8 1236.5v-45.8M1043.8 1190.7v-45.8M1043.8 1144.9v-45.8M1043.8 1099.1v-45.8M1043.8 1053.3v-45.8M1043.8 1007.5v-45.8M1043.8 961.7v-45.8M1043.8 915.9v-45.8M1043.8 870.1v-45.8M1043.8 824.3v-45.8M1043.8 778.5v-45.8M1043.8 732.7v-45.8M1043.8 686.9v-45.8M1043.8 641.1v-45.8M1043.8 595.3v-45.8M1043.8 549.5v-45.8M1043.8 503.7v-45.8M1043.8 457.9v-45.8M1043.8 412.1v-45.8M1045.5 366.3v45.8M1045.5 412.1v45.8M1045.5 457.9v45.8M1045.5 503.7v45.8M1045.5 549.5v45.8M1045.5 595.3v45.8M1045.5 641.1v45.8M1045.5 686.9v45.8M1045.5 732.7v45.8M1045.5 778.5v45.8M1045.5 824.3v45.8M1045.5 870.1v45.8M1045.5 915.9v45.8M1045.5 961.7v45.8M1045.5 1007.5v45.8M1045.5 1053.3v45.8M1045.5 1099.1v45.8M1045.5 1144.9v45.8M1045.8 1190.7v-45.8M1045.8 1144.9v-45.8M1045.8 1099.1v-45.8M1045.8 1053.3v-45.8M1045.8 1007.5v-45.8M1045.8 961.7v-45.8M1045.8 915.9v-45.8M1045.8 870.1v-45.8M1045.8 824.3v-45.8M1045.8 778.5v-45.8M1045.8 732.7v-45.8M1045.8 686.9v-45.8M1045.8 641.1v-45.8M1045.8 595.3v-45.8M1045.8 549.5v-45.8M1045.8 503.7v-45.8M1045.8 457.9v-45.8M1045.8 412.1v-45.8M1046.9 366.3v45.8M1046.9 412.1v45.8M1046.9 457.9v45.8M1046.9 503.7v45.8M1046.9 549.5v45.8M1046.9 595.3v45.8M1046.9 641.1v45.8M1046.9 686.9v45.8M1046.9 732.7v45.8M1046.9 778.5v45.8M1046.9 824.3v45.8M1046.9 870.1v45.8M1046.9 915.9v45.8M1046.9 961.7v45.8M1048 1007.5v-45.8M1048 961.7v-45.8M1048 915.9v-45.8M1048 870.1v-45.8M1048 824.3v-45.8M1048 778.5v-45.8M1048 732.7v-45.8M1048 686.9v-45.8M1048 641.1v-45.8M1048 595.3v-45.8M1048 549.5v-45.8M1048 503.7v-45.8M1048 457.9v-45.8M1048 412.1v-45.8M1048.2 366.3v45.8M1048.2 412.1v45.8M1048.2 457.9v45.8M1048.2 503.7v45.8M1048.2 549.5v45.8M1048.2 595.3v45.8M1048.2 641.1v45.8M1048.2 686.9v45.8M1048.2 732.7v45.8M1048.2 778.5v45.8M1048.2 824.3v45.8M1049.5 870.1v-45.8M1049.5 824.3v-45.8M1049.5 778.5v-45.8M1049.5 732.7v-45.8M1049.5 686.9v-45.8M1049.5 641.1v-45.8M1049.5 595.3v-45.8M1049.5 549.5v-45.8M1049.5 503.7v-45.8M1049.5 457.9v-45.8M1049.5 412.1v-45.8M1050.8 366.3v503.8M1051 870.1v-45.8M1051 824.3v-45.8M1051 778.5v-45.8M1051 732.7v-45.8M1051 686.9v-45.8M1051 641.1v-45.8M1051 595.3v-45.8M1051 549.5v-45.8M1051 503.7v-45.8M1051 457.9v-45.8M1051 412.1v-45.8M1052.4 366.3v45.8M1052.4 412.1v45.8M1052.4 457.9v45.8M1052.4 503.7v45.8M1052.4 549.5v45.8M1052.4 595.3v45.8M1052.4 641.1v45.8M1052.4 686.9v45.8M1052.4 732.7v45.8M1053.5 778.5v-45.8M1053.5 732.7v-45.8M1053.5 686.9v-45.8M1053.5 641.1v-45.8M1053.5 595.3v-45.8M1053.5 549.5v-45.8M1053.5 503.7v-45.8M1053.5 457.9v-45.8M1053.5 412.1v-45.8M1053.8 366.3v45.8M1053.8 412.1v45.8M1053.8 457.9v45.8M1053.8 503.7v45.8M1053.8 549.5v45.8M1054.8 595.3v-45.8M1056.4 549.5v45.8M1058 595.3v-45.8M1058 549.5v-45.8M1058 503.7v-45.8M1058 457.9v-45.8M1058 412.1v-45.8M1058.2 366.3v45.8M1058.2 412.1v45.8M1058.2 457.9v45.8M1058.2 503.7v45.8M1058.2 549.5v45.8M1060.2 595.3v-45.8M1060.2 549.5v-45.8M1060.2 503.7v-45.8M1060.2 457.9v-45.8M1060.2 412.1v-45.8M1060.2 366.3v-45.8M1060.5 320.5v45.8M1060.5 366.3v45.8M1060.5 412.1v45.8M1060.5 457.9v45.8M1060.5 503.7v45.8M1061.9 549.5v-45.8M1061.9 503.7v-45.8M1061.9 457.9v-45.8M1061.9 412.1v-45.8M1063.2 366.3v45.8M1063.2 412.1v45.8M1063.2 457.9v45.8M1063.2 503.7v45.8M1063.2 549.5v45.8M1064.1 595.3v-45.8M1064.1 549.5v-45.8M1064.1 503.7v-45.8M1066 457.9v45.8M1066 503.7v45.8M1066 549.5v45.8M1067.3 595.3v-45.8M1068.2 549.5v45.8M1068.5 595.3v-45.8M1068.5 549.5v-45.8M1068.5 503.7v-45.8M1068.5 457.9v-45.8M1069.9 412.1v45.8M1069.9 457.9v45.8M1069.9 503.7v45.8M1069.9 549.5v45.8M1071.2 595.3v-45.8M1071.2 549.5v-45.8M1071.2 503.7v-45.8M1071.2 457.9v-45.8M1071.5 412.1v45.8M1071.5 457.9v45.8M1071.5 503.7v45.8M1071.5 549.5v45.8M1071.5 595.3v45.8M1071.5 641.1v45.8M1071.5 686.9v45.8M1071.5 732.7v45.8M1071.5 778.5v45.8M1072.8 824.3v-45.8M1072.8 778.5v-45.8M1072.8 732.7v-45.8M1072.8 686.9v-45.8M1072.8 641.1v-45.8M1072.8 595.3v-45.8M1072.8 549.5v-45.8M1072.8 503.7v-45.8M1072.8 457.9v-45.8M1074.4 412.1v412.2M1075.6 824.3v-45.8M1075.6 778.5v-45.8M1075.6 732.7v-45.8M1075.6 686.9v-45.8M1075.6 641.1v-45.8M1075.6 595.3v-45.8M1075.6 549.5v-45.8M1075.6 503.7v-45.8M1077.4 457.9v366.4M1078.6 824.3v-45.8M1078.6 778.5v-45.8M1078.6 732.7v-45.8M1078.6 686.9v-45.8M1078.6 641.1v-45.8M1078.6 595.3v-45.8M1078.6 549.5v-45.8M1078.6 503.7v-45.8M1078.6 457.9v-45.8M1080.1 412.1v45.8M1081.5 457.9v-45.8M1081.8 412.1v45.8M1081.8 457.9v45.8M1081.8 503.7v45.8M1081.8 549.5v45.8M1081.8 595.3v45.8M1082.9 641.1v-45.8M1082.9 595.3v-45.8M1084.5 549.5v45.8M1084.5 595.3v45.8M1086.2 641.1v-45.8M1086.2 595.3v-45.8M1086.2 549.5v-45.8M1086.2 503.7v-45.8M1086.2 457.9v-45.8M1087.5 412.1v45.8M1087.5 457.9v45.8M1087.5 503.7v45.8M1087.5 549.5v45.8M1087.5 595.3v45.8M1088.8 641.1v-45.8M1088.8 595.3v-45.8M1089 549.5v-45.8M1089 503.7v-45.8M1089 457.9v-45.8M1089 412.1v-45.8M1090.5 366.3v274.8M1091.3 641.1v-45.8M1091.3 595.3v-45.8M1091.3 549.5v-45.8M1091.3 503.7v-45.8M1091.3 457.9v-45.8M1091.3 412.1v-45.8M1092.8 366.3v45.8M1093 412.1v45.8M1094.1 457.9v-91.6M1095.7 366.3v45.8M1095.7 412.1v45.8M1095.7 457.9v45.8M1095.7 503.7v45.8M1095.7 549.5v45.8M1095.7 595.3v45.8M1096.9 641.1v-45.8M1096.9 595.3v-45.8M1096.9 549.5v-45.8M1096.9 503.7v-45.8M1096.9 457.9v-45.8M1096.9 412.1v-45.8M1096.9 366.3v-45.8M1098.2 320.5v45.8M1098.2 366.3v45.8M1098.2 412.1v45.8M1098.2 457.9v45.8M1098.2 503.7v45.8M1098.2 549.5v45.8M1098.2 595.3v45.8M1099.5 641.1v-45.8M1099.5 595.3v-45.8M1099.5 549.5v-45.8M1099.5 503.7v-45.8M1099.5 457.9v-45.8M1099.5 412.1v-45.8M1099.5 366.3v-45.8M1099.8 320.5v366.4M1101.4 686.9v-45.8M1101.4 641.1v-45.8M1101.4 595.3v-45.8M1101.4 549.5v-45.8M1101.4 503.7v-45.8M1101.4 457.9v-45.8M1101.4 412.1v-45.8M1101.4 366.3v-45.8M1103 320.5v45.8M1103 366.3v45.8M1103 412.1v45.8M1103 457.9v45.8M1103 503.7v45.8M1103 549.5v45.8M1103 595.3v45.8M1103 641.1v45.8M1103.2 686.9v-45.8M1103.2 641.1v-45.8M1103.2 595.3v-45.8M1103.2 549.5v-45.8M1103.2 503.7v-45.8M1103.2 457.9v-45.8M1104.4 412.1v45.8M1104.4 457.9v45.8M1104.4 503.7v45.8M1104.4 549.5v45.8M1104.4 595.3v45.8M1104.4 641.1v45.8M1106 686.9v-45.8M1106 641.1v-45.8M1106 595.3v-45.8M1106 549.5v-45.8M1106 503.7v-45.8M1106 457.9v-45.8M1106.2 412.1v412.2M1108.3 824.3v-45.8M1108.3 778.5v-45.8M1108.3 732.7v-45.8M1108.3 686.9v-45.8M1108.3 641.1v-45.8M1108.3 595.3v-45.8M1108.3 549.5v-45.8M1108.3 503.7v-45.8M1108.3 457.9v-45.8M1109.8 412.1v45.8M1109.8 457.9v45.8M1109.8 503.7v45.8M1109.8 549.5v45.8M1109.8 595.3v45.8M1109.8 641.1v45.8M1109.8 686.9v45.8M1109.8 732.7v45.8M1109.8 778.5v45.8M1110 824.3v45.8M1110 870.1v45.8M1110 915.9v45.8M1110 961.7v45.8M1110 1007.5v45.8M1110 1053.3v45.8M1110 1099.1v45.8M1110 1144.9v45.8M1110 1190.7v45.8M1110 1236.5v45.8M1110 1282.3v45.8M1110 1328.1v45.8M1110 1373.9v45.8M1111 1419.7v-45.8M1111 1373.9v-45.8M1111 1328.1v-45.8M1111 1282.3v-45.8M1111 1236.5v-45.8M1111 1190.7v-45.8M1111 1144.9v-45.8M1111 1099.1v-45.8M1111 1053.3v-45.8M1111 1007.5v-45.8M1111 961.7v-45.8M1111 915.9v-45.8M1111 870.1v-45.8M1111 824.3v-45.8M1111 778.5v-45.8M1111 732.7v-45.8M1111 686.9v-45.8M1111 641.1v-45.8M1111 595.3v-45.8M1111 549.5v-45.8M1111 503.7v-45.8M1111 457.9v-45.8M1112.5 412.1v45.8M1112.5 457.9v45.8M1112.5 503.7v45.8M1112.5 549.5v45.8M1112.5 595.3v45.8M1112.5 641.1v45.8M1112.5 686.9v45.8M1112.5 732.7v45.8M1112.5 778.5v45.8M1112.5 824.3v45.8M1112.5 870.1v45.8M1112.5 915.9v45.8M1112.5 961.7v45.8M1112.5 1007.5v45.8M1112.5 1053.3v45.8M1112.5 1099.1v45.8M1112.5 1144.9v45.8M1112.5 1190.7v45.8M1112.5 1236.5v45.8M1112.5 1282.3v45.8M1112.5 1328.1v45.8M1112.5 1373.9v45.8M1112.8 1419.7v-45.8M1112.8 1373.9v-45.8M1112.8 1328.1v-45.8M1112.8 1282.3v-45.8M1112.8 1236.5v-45.8M1112.8 1190.7v-45.8M1112.8 1144.9v-45.8M1112.8 1099.1v-45.8M1112.8 1053.3v-45.8M1112.8 1007.5v-45.8M1112.8 961.7v-45.8M1112.8 915.9v-45.8M1112.8 870.1v-45.8M1112.8 824.3v-45.8M1112.8 778.5v-45.8M1112.8 732.7v-45.8M1112.8 686.9v-45.8M1112.8 641.1v-45.8M1112.8 595.3v-45.8M1112.8 549.5v-45.8M1112.8 503.7v-45.8M1112.8 457.9v-45.8M1114.4 412.1v45.8M1114.4 457.9v45.8M1114.4 503.7v45.8M1114.4 549.5v45.8M1114.4 595.3v45.8M1114.4 641.1v45.8M1114.4 686.9v45.8M1114.4 732.7v45.8M1114.4 778.5v45.8M1114.4 824.3v45.8M1114.4 870.1v45.8M1114.4 915.9v45.8M1114.4 961.7v45.8M1114.4 1007.5v45.8M1115.6 1053.3v-45.8M1115.6 1007.5v-45.8M1115.6 961.7v-45.8M1115.6 915.9v-45.8M1115.6 870.1v-45.8M1115.6 824.3v-45.8M1115.6 778.5v-45.8M1115.6 732.7v-45.8M1115.6 686.9v-45.8M1115.6 641.1v-45.8M1117.2 595.3v-137.4M1117.5 457.9v45.8M1117.5 503.7v45.8M1117.5 549.5v45.8M1117.5 595.3v45.8M1119.5 641.1v-45.8M1119.5 595.3v-45.8M1119.5 549.5v-45.8M1119.5 503.7v-45.8M1119.5 457.9v-45.8M1119.8 412.1v45.8M1119.8 457.9v45.8M1119.8 503.7v45.8M1119.8 549.5v45.8M1121.1 595.3v-45.8M1121.1 549.5v-45.8M1122.6 503.7v45.8M1123.8 549.5v-45.8M1123.8 503.7v-45.8M1123.8 457.9v-45.8M1123.8 412.1v-45.8M1125.6 366.3v45.8M1125.6 412.1v45.8M1127.1 457.9v-91.6M1128.6 366.3v45.8M1128.6 412.1v45.8M1128.6 457.9v45.8M1129.6 503.7v-137.4M1131.4 366.3v45.8M1131.4 412.1v45.8M1131.4 457.9v45.8M1131.4 503.7v45.8M1131.4 549.5v45.8M1131.4 595.3v45.8M1132.7 641.1v-45.8M1132.7 595.3v-45.8M1132.7 549.5v-45.8M1132.7 503.7v-45.8M1132.7 457.9v-45.8M1132.7 412.1v-45.8M1134.5 366.3v274.8M1135.8 641.1v-274.8M1137 366.3v229M1137.2 595.3v-229M1139.2 366.3v320.6M1139.5 686.9v-320.6M1140.9 366.3v45.8M1140.9 412.1v45.8M1140.9 457.9v45.8M1140.9 503.7v45.8M1142.6 549.5v-45.8M1142.6 503.7v-45.8M1142.6 457.9v-45.8M1142.6 412.1v-45.8M1143.7 366.3v183.2M1145.2 549.5v-45.8M1145.2 503.7v-45.8M1145.2 457.9v-45.8M1145.2 412.1v-45.8M1146 366.3v45.8M1146 412.1v45.8M1146 457.9v45.8M1146 503.7v45.8M1147.8 549.5v-45.8M1147.8 503.7v-45.8M1147.8 457.9v-45.8M1147.8 412.1v-45.8M1148 366.3v91.6M1149.6 457.9v-137.4M1150.5 320.5v229M1151.7 549.5v-45.8M1151.7 503.7v-45.8M1151.7 457.9v-45.8M1151.7 412.1v-45.8M1151.7 366.3v-45.8M1153.3 320.5v45.8M1153.3 366.3v45.8M1153.3 412.1v45.8M1153.3 457.9v45.8M1153.3 503.7v45.8M1154.6 549.5v-45.8M1154.6 503.7v-45.8M1155.8 457.9v45.8M1155.8 503.7v45.8M1156 549.5v-45.8M1156 503.7v-45.8M1156 457.9v-45.8M1157.1 412.1v45.8M1158.5 457.9v-45.8M1158.5 412.1v-45.8M1158.5 366.3v-45.8M1160.1 320.5v274.8M1161.1 595.3v-45.8M1161.1 549.5v-45.8M1161.1 503.7v-45.8M1162.2 457.9v45.8M1163.8 503.7v-45.8M1163.8 457.9v-45.8M1163.8 412.1v-45.8M1163.8 366.3v-45.8M1163.7 320.5v320.6M1164.8 641.1v-45.8M1164.8 595.3v-45.8M1164.8 549.5v-45.8M1164.8 503.7v-45.8M1164.8 457.9v-45.8M1164.8 412.1v-45.8M1164.8 366.3v-45.8M1164.8 320.5v229M1166.4 549.5v-229M1167.4 320.5v45.8M1167.4 366.3v45.8M1169.1 412.1v45.8M1169.1 457.9v45.8M1170.7 503.7v45.8M1171.9 549.5v-45.8M1171.9 503.7v-45.8M1171.9 457.9v-45.8M1171.9 412.1v-45.8M1171.9 366.3v-45.8M1173.6 320.5v45.8M1175 366.3v-45.8M1175.9 320.5v45.8M1175.9 366.3v45.8M1175.9 412.1v45.8M1175.9 457.9v45.8M1175.9 503.7v45.8M1177.8 549.5v-45.8M1179.3 503.7v45.8M1180.8 549.5v-45.8M1180.8 503.7v-45.8M1180.8 457.9v-45.8M1180.8 412.1v-45.8M1180.8 366.3v-45.8M1182 320.5v45.8M1182 366.3v45.8M1182 412.1v45.8M1182 457.9v45.8M1182 503.7v45.8M1182.2 549.5v-45.8M1182.2 503.7v-45.8M1182.2 457.9v-45.8M1182.2 412.1v-45.8M1182.2 366.3v-45.8M1183.7 320.5v45.8M1183.7 366.3v45.8M1183.7 412.1v45.8M1183.7 457.9v45.8M1185 503.7v-45.8M1185 457.9v-45.8M1185 412.1v-45.8M1185 366.3v-45.8M1186.3 320.5v45.8M1186.3 366.3v45.8M1186.3 412.1v45.8M1186.3 457.9v45.8M1187.6 503.7v-45.8M1187.6 457.9v-45.8M1187.6 412.1v-45.8M1187.6 366.3v-45.8M1189.6 320.5v45.8M1189.6 366.3v45.8M1189.6 412.1v45.8M1189.6 457.9v45.8M1190.6 503.7v-45.8M1190.6 457.9v-45.8M1190.6 412.1v-45.8M1190.6 366.3v-45.8M1192.3 320.5v45.8M1192.3 366.3v45.8M1192.3 412.1v45.8M1193.4 457.9v-45.8M1193.4 412.1v-45.8M1193.4 366.3v-45.8M1194.8 320.5v137.4M1196.6 457.9v-137.4M1198.2 320.5v45.8M1198.2 366.3v45.8M1198.2 412.1v45.8M1198.2 457.9v45.8M1199.5 503.7v-45.8M1199.5 457.9v-45.8M1199.5 412.1v-45.8M1199.5 366.3v-45.8M1200.8 320.5v45.8M1200.8 366.3v45.8M1200.8 412.1v45.8M1201 457.9v-45.8M1202.1 412.1v91.6M1203.6 503.7v-45.8M1203.6 457.9v-45.8M1203.6 412.1v-45.8M1205.1 366.3v45.8M1206.5 412.1v-45.8M1206.8 366.3v45.8M1206.8 412.1v45.8M1206.8 457.9v45.8M1206.8 503.7v45.8M1206.8 549.5v45.8M1208.8 595.3v-229M1209 366.3v45.8M1209 412.1v45.8M1210.2 457.9v-45.8M1211.5 412.1v45.8M1211.5 457.9v45.8M1211.5 503.7v45.8M1213.3 549.5v-45.8M1213.3 503.7v-45.8M1213.3 457.9v-45.8M1214.3 412.1v137.4M1216.1 549.5v-45.8M1216.1 503.7v-45.8M1217.2 457.9v45.8M1218.6 503.7v-137.4M1220 366.3v183.2M1220.2 549.5v-137.4M1221.4 412.1v45.8M1221.4 457.9v45.8M1221.4 503.7v45.8M1221.4 549.5v45.8M1222.7 595.3v-229M1224.6 366.3v45.8M1224.6 412.1v45.8M1224.6 457.9v45.8M1224.6 503.7v45.8M1224.6 549.5v45.8M1226 595.3v-45.8M1227.1 549.5v45.8M1228.5 595.3v-45.8M1228.5 549.5v-45.8M1228.5 503.7v-45.8M1228.5 457.9v-45.8M1228.5 412.1v-45.8M1230.2 366.3v45.8M1230.2 412.1v45.8M1230.2 457.9v45.8M1230.2 503.7v45.8M1230.2 549.5v45.8M1231.3 595.3v-91.6M1232.8 503.7v-45.8M1232.8 457.9v-45.8M1233 412.1v137.4M1234.7 549.5v-45.8M1234.7 503.7v-45.8M1234.7 457.9v-45.8M1234.7 412.1v-45.8M1235.6 366.3v45.8M1235.6 412.1v45.8M1235.6 457.9v45.8M1235.6 503.7v45.8M1237.4 549.5v-45.8M1237.4 503.7v-45.8M1237.4 457.9v-45.8M1238.6 412.1v45.8M1238.6 457.9v45.8M1238.6 503.7v45.8M1240 549.5v-45.8M1240 503.7v-45.8M1240 457.9v-45.8M1240 412.1v-45.8M1240.2 366.3v45.8M1241.8 412.1v-45.8M1241.8 366.3v-45.8M1243 320.5v229M1244.8 549.5v-45.8M1244.8 503.7v-45.8M1244.8 457.9v-45.8M1245.6 412.1v45.8M1245.6 457.9v45.8M1245.6 503.7v45.8M1247 549.5v-137.4M1248.7 412.1v45.8M1250.3 457.9v-45.8M1250.3 412.1v-45.8M1251.6 366.3v183.2M1253.3 549.5v-45.8M1253.3 503.7v-45.8M1253.3 457.9v-45.8M1253.3 412.1v-45.8M1254.4 366.3v45.8M1254.4 412.1v45.8M1254.4 457.9v45.8M1254.4 503.7v45.8M1256 549.5v-45.8M1256 503.7v-45.8M1256 457.9v-45.8M1256 412.1v-45.8M1256 366.3v-45.8M1257.3 320.5v45.8M1257.3 366.3v45.8M1257.3 412.1v45.8M1257.3 457.9v45.8M1257.3 503.7v45.8M1258.8 549.5v-45.8M1258.8 503.7v-45.8M1258.8 457.9v-45.8M1260 412.1v45.8M1260 457.9v45.8M1260 503.7v45.8M1260.2 549.5v-45.8M1260.2 503.7v-45.8M1260.2 457.9v-45.8M1260.2 412.1v-45.8M1260.2 366.3v-45.8M1262.1 320.5v320.6M1263.6 641.1v-45.8M1263.6 595.3v-45.8M1263.6 549.5v-45.8M1263.6 503.7v-45.8M1263.6 457.9v-45.8M1263.6 412.1v-45.8M1263.6 366.3v-45.8M1264.4 320.5v45.8M1264.4 366.3v45.8M1264.4 412.1v45.8M1264.4 457.9v45.8M1264.4 503.7v45.8M1264.4 549.5v45.8M1264.4 595.3v45.8M1266.1 641.1v-91.6M1267.8 549.5v45.8M1267.8 595.3v45.8M1268 641.1v-45.8M1268 595.3v-45.8M1268 549.5v-45.8M1268 503.7v-45.8M1268 457.9v-45.8M1268 412.1v-45.8M1269.6 366.3v45.8M1269.6 412.1v45.8M1269.6 457.9v45.8M1269.6 503.7v45.8M1269.6 549.5v45.8M1269.6 595.3v45.8M1270.8 641.1v-45.8M1270.8 595.3v-45.8M1270.8 549.5v-45.8M1270.8 503.7v-45.8M1270.8 457.9v-45.8M1270.8 412.1v-45.8M1271 366.3v366.4M1273 732.7v-45.8M1273 686.9v-45.8M1273 641.1v-45.8M1273 595.3v-45.8M1273 549.5v-45.8M1273 503.7v-45.8M1273 457.9v-45.8M1273 412.1v-45.8M1273.2 366.3v45.8M1273.2 412.1v45.8M1273.2 457.9v45.8M1273.2 503.7v45.8M1273.2 549.5v45.8M1274.5 595.3v-45.8M1276.1 549.5v-45.8M1277.4 503.7v-137.4M1278.4 366.3v229M1280 595.3v-229M1281.2 366.3v229M1282.9 595.3v-229M1284 366.3v45.8M1284 412.1v45.8M1284 457.9v45.8M1284 503.7v45.8M1284 549.5v45.8M1285.5 595.3v-45.8M1285.5 549.5v-45.8M1285.5 503.7v-45.8M1285.5 457.9v-45.8M1285.5 412.1v-45.8M1287 366.3v45.8M1287 412.1v45.8M1287.2 457.9v137.4M1288.5 595.3v-45.8M1288.5 549.5v-45.8M1288.5 503.7v-45.8M1288.5 457.9v-45.8M1288.5 412.1v-45.8M1288.5 366.3v-45.8M1289.5 320.5v274.8M1289.8 595.3v-45.8M1289.8 549.5v-45.8M1289.8 503.7v-45.8M1289.8 457.9v-45.8M1289.8 412.1v-45.8M1289.8 366.3v-45.8M1291.1 320.5v366.4M1292.8 686.9v-45.8M1292.8 641.1v-45.8M1292.8 595.3v-45.8M1292.8 549.5v-45.8M1292.8 503.7v-45.8M1292.8 457.9v-45.8M1292.8 412.1v-45.8M1292.8 366.3v-45.8M1294.2 320.5v45.8M1294.2 366.3v45.8M1294.2 412.1v45.8M1294.2 457.9v45.8M1294.2 503.7v45.8M1294.2 549.5v45.8M1294.2 595.3v45.8M1294.2 641.1v45.8M1295.6 686.9v-45.8M1295.6 641.1v-45.8M1296.4 595.3v45.8M1296.4 641.1v45.8M1298.4 686.9v-91.6M1299.7 595.3v45.8M1299.7 641.1v45.8M1300.8 686.9v-45.8M1300.8 641.1v-45.8M1300.8 595.3v-45.8M1300.8 549.5v-45.8M1300.8 503.7v-45.8M1300.8 457.9v-45.8M1300.8 412.1v-45.8M1300.8 366.3v-45.8M1302.6 320.5v45.8M1302.6 366.3v45.8M1302.6 412.1v45.8M1302.6 457.9v45.8M1302.6 503.7v45.8M1302.6 549.5v45.8M1302.6 595.3v45.8M1302.6 641.1v45.8M1303.9 686.9v-45.8M1303.9 641.1v-45.8M1303.9 595.3v-45.8M1303.9 549.5v-45.8M1303.9 503.7v-45.8M1303.9 457.9v-45.8M1303.9 412.1v-45.8M1303.9 366.3v-45.8M1305.1 320.5v91.6M1306.7 412.1v-45.8M1307.8 366.3v320.6M1309.6 686.9v-45.8M1309.6 641.1v-45.8M1309.6 595.3v-45.8M1309.6 549.5v-45.8M1309.6 503.7v-45.8M1309.6 457.9v-45.8M1309.6 412.1v-45.8M1311 366.3v45.8M1311 412.1v45.8M1311 457.9v45.8M1311 503.7v45.8M1311 549.5v45.8M1311 595.3v45.8M1311 641.1v45.8M1312.3 686.9v-45.8M1312.3 641.1v-45.8M1312.3 595.3v-45.8M1312.3 549.5v-45.8M1312.3 503.7v-45.8M1313.3 457.9v137.4M1314.7 595.3v-274.8M1316.4 320.5v45.8M1316.4 366.3v45.8M1316.4 412.1v45.8M1316.4 457.9v45.8M1316.4 503.7v45.8M1316.4 549.5v45.8M1316.4 595.3v45.8M1316.4 641.1v45.8M1317.8 686.9v-45.8M1318 641.1v-45.8M1318 595.3v-45.8M1318 549.5v-45.8M1318 503.7v-45.8M1318 457.9v-45.8M1318 412.1v-45.8M1319.2 366.3v45.8M1319.2 412.1v45.8M1319.2 457.9v45.8M1319.2 503.7v45.8M1319.2 549.5v45.8M1319.2 595.3v45.8M1319.2 641.1v45.8M1320.6 686.9v-45.8M1320.6 641.1v-45.8M1320.6 595.3v-45.8M1320.6 549.5v-45.8M1320.6 503.7v-45.8M1320.6 457.9v-45.8M1320.6 412.1v-45.8M1321.8 366.3v45.8M1321.8 412.1v45.8M1321.8 457.9v45.8M1321.8 503.7v45.8M1321.8 549.5v45.8M1321.8 595.3v45.8M1322 641.1v-45.8M1322 595.3v-45.8M1322 549.5v-45.8M1323.6 503.7v45.8M1324.9 549.5v-45.8M1324.9 503.7v-45.8M1324.9 457.9v-45.8M1324.9 412.1v-45.8M1325.9 366.3v45.8M1325.9 412.1v45.8M1325.9 457.9v45.8M1325.9 503.7v45.8M1327.6 549.5v-45.8M1328.9 503.7v45.8M1330.2 549.5v-183.2M1331.4 366.3v45.8M1331.4 412.1v45.8M1331.4 457.9v45.8M1331.4 503.7v45.8M1333.3 549.5v-45.8M1334.3 503.7v-45.8M1336.2 457.9v-45.8M1336.2 412.1v-45.8M1337.1 366.3v45.8M1337.1 412.1v45.8M1338.8 457.9v-91.6M1339.9 366.3v45.8M1339.9 412.1v45.8M1339.9 457.9v45.8M1339.9 503.7v45.8M1341.2 549.5v-45.8M1341.2 503.7v-45.8M1341.2 457.9v-45.8M1342.9 412.1v45.8M1342.9 457.9v45.8M1342.9 503.7v45.8M1344.2 549.5v-45.8M1344.2 503.7v-45.8M1344.2 457.9v-45.8M1345.4 412.1v45.8M1345.4 457.9v45.8M1345.4 503.7v45.8M1347.2 549.5v-45.8M1347.2 503.7v-45.8M1347.2 457.9v-45.8M1347.2 412.1v-45.8M1348.2 366.3v45.8M1348.2 412.1v45.8M1348.2 457.9v45.8M1348.2 503.7v45.8M1349.9 549.5v-183.2M1351.2 366.3v183.2M1351.5 549.5v-91.6M1353.1 457.9v45.8M1353.9 503.7v-137.4M1355.4 366.3v45.8M1355.4 412.1v45.8M1355.4 457.9v45.8M1357 503.7v-91.6M1358.5 412.1v45.8M1358.5 457.9v45.8M1359.8 503.7v-45.8M1361 457.9v45.8M1362 503.7v-137.4M1363.8 366.3v45.8M1363.8 412.1v45.8M1363.8 457.9v45.8M1364.8 503.7v-45.8M1364.8 457.9v-45.8M1366.3 412.1v91.6M1367.8 503.7v-45.8M1367.8 457.9v-45.8M1368 412.1v183.2M1369.3 595.3v-229M1370.6 366.3v45.8M1370.6 412.1v45.8M1370.6 457.9v45.8M1370.6 503.7v45.8M1370.6 549.5v45.8M1372.2 595.3v-45.8M1372.2 549.5v-45.8M1372.2 503.7v-45.8M1372.2 457.9v-45.8M1372.2 412.1v-45.8M1373.9 366.3v45.8M1373.9 412.1v45.8M1373.9 457.9v45.8M1373.9 503.7v45.8M1373.9 549.5v45.8M1375 595.3v-91.6M1376.3 503.7v45.8M1376.3 549.5v45.8M1378.1 595.3v-229M1379.6 366.3v45.8M1379.6 412.1v45.8M1379.6 457.9v45.8M1380.8 503.7v-45.8M1380.8 457.9v-45.8M1380.8 412.1v-45.8M1381 366.3v45.8M1381 412.1v45.8M1381 457.9v45.8M1381 503.7v45.8M1381 549.5v45.8M1382.4 595.3v-183.2M1383.9 412.1v183.2M1385.6 595.3v-137.4M1387 457.9v137.4M1388 595.3v-45.8M1388 549.5v-45.8M1388 503.7v-45.8M1388 457.9v-45.8M1389.5 412.1v45.8M1389.5 457.9v45.8M1389.5 503.7v45.8M1389.5 549.5v45.8M1391.4 595.3v-45.8M1391.4 549.5v-45.8M1391.4 503.7v-45.8M1392.3 457.9v45.8M1392.3 503.7v45.8M1392.3 549.5v45.8M1394 595.3v-183.2M1394.2 412.1v137.4M1395.8 549.5v-45.8M1395.8 503.7v-45.8M1395.8 457.9v-45.8M1397.2 412.1v45.8M1397.2 457.9v45.8M1397.2 503.7v45.8M1397.5 549.5v-137.4M1398.7 412.1v45.8M1400.1 457.9v-45.8M1401.1 412.1v45.8M1401.1 457.9v45.8M1401.1 503.7v45.8M1402.9 549.5v-45.8M1402.9 503.7v-45.8M1402.9 457.9v-45.8M1402.9 412.1v-45.8M1404 366.3v45.8M1404 412.1v45.8M1404 457.9v45.8M1404 503.7v45.8M1404.2 549.5v-45.8M1404.2 503.7v-45.8M1404.2 457.9v-45.8M1404.2 412.1v-45.8M1404.2 366.3v-45.8M1406 320.5v45.8M1406 366.3v45.8M1406 412.1v45.8M1406 457.9v45.8M1406 503.7v45.8M1407.3 549.5v-45.8M1407.3 503.7v-45.8M1407.3 457.9v-45.8M1407.3 412.1v-45.8M1407.3 366.3v-45.8M1408.9 320.5v45.8M1408.9 366.3v45.8M1408.9 412.1v45.8M1408.9 457.9v45.8M1408.9 503.7v45.8M1409.9 549.5v-45.8M1411.8 503.7v45.8M1412.8 549.5v-45.8M1412.8 503.7v-45.8M1412.8 457.9v-45.8M1412.8 412.1v-45.8M1412.8 366.3v-45.8M1414.1 320.5v45.8M1414.1 366.3v45.8M1414.1 412.1v45.8M1414.1 457.9v45.8M1414.1 503.7v45.8M1416 549.5v-45.8M1416 503.7v-45.8M1417.2 457.9v45.8M1417.5 503.7v-45.8M1417.5 457.9v-45.8M1417.5 412.1v-45.8M1417.5 366.3v-45.8M1419.2 320.5v45.8M1419.2 366.3v45.8M1419.2 412.1v45.8M1420.2 457.9v45.8M1421.8 503.7v45.8M1421.8 549.5v45.8M1423.6 595.3v-274.8M1425.1 320.5v45.8M1425.1 366.3v45.8M1425.1 412.1v45.8M1425.1 457.9v45.8M1425.1 503.7v45.8M1425.1 549.5v45.8M1426.7 595.3v-45.8M1426.7 549.5v-45.8M1427.8 503.7v45.8M1427.8 549.5v45.8M1429.4 595.3v-274.8M1430.8 320.5v45.8M1430.8 366.3v45.8M1430.8 412.1v45.8M1430.8 457.9v45.8M1430.8 503.7v45.8M1430.8 549.5v45.8M1431 595.3v-274.8M1433 320.5v45.8M1433 366.3v45.8M1433 412.1v45.8M1433 457.9v45.8M1433 503.7v45.8M1433 549.5v45.8M1433 595.3v45.8M1433.2 641.1v-45.8M1433.2 595.3v-45.8M1433.2 549.5v-45.8M1433.2 503.7v-45.8M1433.2 457.9v-45.8M1433.2 412.1v-45.8M1433.2 366.3v-45.8M1434.9 320.5v45.8M1434.9 366.3v45.8M1434.9 412.1v45.8M1436.3 457.9v-45.8M1437.3 412.1v91.6M1438.8 503.7v-183.2M1440.1 320.5v45.8M1440.1 366.3v45.8M1441.3 412.1v-91.6M1443.4 320.5v45.8M1444.4 366.3v-45.8M1445.8 320.5v183.2M1447.5 503.7v-45.8M1447.5 457.9v-45.8M1447.5 412.1v-45.8M1447.5 366.3v-45.8M1448.6 320.5v45.8M1448.6 366.3v45.8M1448.6 412.1v45.8M1448.6 457.9v45.8M1449.8 503.7v-45.8M1449.8 457.9v-45.8M1449.8 412.1v-45.8M1449.8 366.3v-45.8M1451.4 320.5v45.8M1451.4 366.3v45.8M1451.4 412.1v45.8M1451.4 457.9v45.8M1453.1 503.7v-45.8M1453.1 457.9v-45.8M1453.1 412.1v-45.8M1453.1 366.3v-45.8M1454.2 320.5v183.2M1455.9 503.7v-183.2M1457.2 320.5v45.8M1457.2 366.3v45.8M1457.2 412.1v45.8M1457.2 457.9v45.8M1458.2 503.7v-183.2M1459.6 320.5v45.8M1459.6 366.3v45.8M1459.6 412.1v45.8M1459.6 457.9v45.8M1461.1 503.7v-45.8M1461.1 457.9v-45.8M1461.1 412.1v-45.8M1461.1 366.3v-45.8M1462.9 320.5v183.2M1464.3 503.7v-45.8M1464.3 457.9v-45.8M1464.3 412.1v-45.8M1464.3 366.3v-45.8M1465.5 320.5v45.8M1465.5 366.3v45.8M1465.5 412.1v45.8M1465.5 457.9v45.8M1465.8 503.7v-45.8M1465.8 457.9v-45.8M1465.8 412.1v-45.8M1465.8 366.3v-45.8M1467.8 320.5v45.8M1467.8 366.3v45.8M1467.8 412.1v45.8M1467.8 457.9v45.8M1467.8 503.7v45.8M1467.8 549.5v45.8M1468 595.3v-45.8M1468 549.5v-45.8M1468 503.7v-45.8M1468 457.9v-45.8M1468 412.1v-45.8M1469.7 366.3v45.8M1469.7 412.1v45.8M1469.7 457.9v45.8M1470.9 503.7v-45.8M1470.9 457.9v-45.8M1470.9 412.1v-45.8M1470.9 366.3v-45.8M1471.8 320.5v45.8M1471.8 366.3v45.8M1471.8 412.1v45.8M1471.8 457.9v45.8M1473.1 503.7v-45.8M1473.1 457.9v-45.8M1473.1 412.1v-45.8M1473.1 366.3v-45.8M1474.9 320.5v45.8M1474.9 366.3v45.8M1474.9 412.1v45.8M1474.9 457.9v45.8M1476.5 503.7v-137.4M1477.7 366.3v45.8M1477.7 412.1v45.8M1479.1 457.9v-45.8M1479.1 412.1v-45.8M1479.1 366.3v-45.8M1480.4 320.5v183.2M1481.3 503.7v-45.8M1481.3 457.9v-45.8M1481.3 412.1v-45.8M1481.3 366.3v-45.8M1483 320.5v137.4M1483 457.9v-45.8M1483 412.1v-45.8M1483 366.3v-45.8M1484 320.5v45.8M1484 366.3v45.8M1484 412.1v45.8M1484 457.9v45.8M1484 503.7v45.8M1484 549.5v-45.8M1484 503.7v-45.8M1484 457.9v-45.8M1484 412.1v-45.8M1484 366.3v-45.8M1485.4 320.5v183.2M1486.3 503.7v-45.8M1486.3 457.9v-45.8M1486.3 412.1v-45.8M1486.3 366.3v-45.8M1488 320.5v45.8M1488 366.3v45.8M1488 412.1v45.8M1488 457.9v45.8M1489.1 503.7v-45.8M1489.1 457.9v-45.8M1489.1 412.1v-45.8M1489.1 366.3v-45.8M1490.5 320.5v45.8M1490.5 366.3v45.8M1490.5 412.1v45.8M1492.1 457.9v-45.8M1493.1 412.1v91.6M1494.5 503.7v-45.8M1494.8 457.9v-45.8M1494.8 412.1v-45.8M1494.8 366.3v-45.8M1496.1 320.5v137.4M1497.5 457.9v-45.8M1497.5 412.1v-45.8M1497.5 366.3v-45.8M1498.5 320.5v45.8M1500.3 366.3v-45.8M1501.7 320.5v45.8M1501.7 366.3v45.8M1503 412.1v-45.8M1504.1 366.3v91.6M1505.3 457.9v-45.8M1505.3 412.1v-45.8M1505.3 366.3v-45.8M1507 320.5v45.8M1508.4 366.3v45.8M1509.9 412.1v45.8M1511.1 457.9v-45.8M1511.1 412.1v-45.8M1511.1 366.3v-45.8M1512.6 320.5v137.4M1513.9 457.9v-45.8M1513.9 412.1v-45.8M1513.9 366.3v-45.8M1515.1 320.5v45.8M1515.1 366.3v45.8M1515.1 412.1v45.8M1516.5 457.9v-45.8M1516.5 412.1v-45.8M1516.5 366.3v-45.8M1516.8 320.5v45.8M1518.4 366.3v45.8M1518.4 412.1v45.8M1519.8 457.9v45.8M1521.1 503.7v-45.8M1521.1 457.9v-45.8M1522.7 412.1v45.8M1522.7 457.9v45.8M1524.2 503.7v-183.2M1525.2 320.5v45.8M1527 366.3v-45.8M1527.2 320.5v229M1529.2 549.5v-45.8M1529.2 503.7v-45.8M1529.2 457.9v-45.8M1529.2 412.1v-45.8M1529.2 366.3v-45.8M1529.5 320.5v183.2M1531.2 503.7v-45.8M1531.2 457.9v-45.8M1531.2 412.1v-45.8M1531.2 366.3v-45.8M1532.1 320.5v45.8M1534.1 366.3v-45.8M1535 320.5v45.8M1535 366.3v45.8M1535 412.1v45.8M1535 457.9v45.8M1536.6 503.7v-183.2M1538 320.5v45.8M1538 366.3v45.8M1538 412.1v45.8M1538 457.9v45.8M1539.2 503.7v-183.2M1540.7 320.5v45.8M1540.7 366.3v45.8M1540.7 412.1v45.8M1540.7 457.9v45.8M1542.5 503.7v-45.8M1544.2 457.9v-45.8M1545 412.1v-91.6M1546.9 320.5v45.8M1546.9 366.3v45.8M1546.9 412.1v45.8M1546.9 457.9v45.8M1548.1 503.7v-137.4M1549.7 366.3v91.6M1551.1 457.9v-45.8M1552.5 412.1v-45.8M1552.8 366.3v45.8M1554.1 412.1v-45.8M1554.1 366.3v-45.8M1555.9 320.5v183.2M1556.8 503.7v-183.2M1558.3 320.5v183.2M1560.2 503.7v-45.8M1560.2 457.9v-45.8M1560.2 412.1v-45.8M1561.5 366.3v45.8M1561.5 412.1v45.8M1561.5 457.9v45.8M1561.5 503.7v45.8M1561.8 549.5v-45.8M1561.8 503.7v-45.8M1563.1 457.9v45.8M1564.6 503.7v-45.8M1566 457.9v45.8M1567.3 503.7v-91.6M1568.4 412.1v45.8M1569.9 457.9v-45.8M1569.9 412.1v-45.8M1571.5 366.3v137.4M1572.8 503.7v-45.8M1572.8 457.9v-45.8M1573.9 412.1v-45.8M1575.2 366.3v-45.8M1575.5 320.5v45.8M1575.5 366.3v45.8M1575.5 412.1v45.8M1575.5 457.9v45.8M1575.5 503.7v45.8M1576.7 549.5v-45.8M1576.7 503.7v-45.8M1576.7 457.9v-45.8M1576.7 412.1v-45.8M1576.7 366.3v-45.8M1577.9 320.5v45.8M1577.9 366.3v45.8M1577.9 412.1v45.8M1577.9 457.9v45.8M1579.5 503.7v-45.8M1579.5 457.9v-45.8M1579.5 412.1v-45.8M1579.5 366.3v-45.8M1581 320.5v45.8M1581 366.3v45.8M1581 412.1v45.8M1581 457.9v45.8M1581 503.7v45.8M1582.2 549.5v-45.8M1582.2 503.7v-45.8M1582.2 457.9v-45.8M1582.2 412.1v-45.8M1583.7 366.3v45.8M1583.7 412.1v45.8M1583.7 457.9v45.8M1583.7 503.7v45.8M1585.3 549.5v-229M1586.7 320.5v229M1587.8 549.5v-45.8M1587.8 503.7v-45.8M1587.8 457.9v-45.8M1587.8 412.1v-45.8M1587.8 366.3v-45.8M1589 320.5v45.8M1589 366.3v45.8M1589 412.1v45.8M1589 457.9v45.8M1589 503.7v45.8M1590.8 549.5v-229M1592.2 320.5v45.8M1592.2 366.3v45.8M1593.5 412.1v-91.6M1594.7 320.5v45.8M1594.7 366.3v45.8M1594.7 412.1v45.8M1595.9 457.9v-137.4M1597.3 320.5v183.2M1599.1 503.7v-45.8M1599.1 457.9v-45.8M1599.1 412.1v-45.8M1599.1 366.3v-45.8M1600.5 320.5v45.8M1600.5 366.3v45.8M1600.5 412.1v45.8M1600.5 457.9v45.8M1600.5 503.7v45.8M1601.7 549.5v-137.4M1603.4 412.1v45.8M1604.7 457.9v-137.4M1606 320.5v45.8M1606 366.3v45.8M1606 412.1v45.8M1606 457.9v45.8M1606 503.7v45.8M1607.1 549.5v-45.8M1608.7 503.7v45.8M1610 549.5v-45.8M1610 503.7v-45.8M1611.1 457.9v91.6M1612.9 549.5v-45.8M1612.9 503.7v-45.8M1612.9 457.9v-45.8M1612.9 412.1v-45.8M1612.9 366.3v-45.8M1614.5 320.5v45.8M1614.5 366.3v45.8M1614.5 412.1v45.8M1614.5 457.9v45.8M1614.5 503.7v45.8M1615.5 549.5v-45.8M1615.5 503.7v-45.8M1615.5 457.9v-45.8M1615.5 412.1v-45.8M1615.5 366.3v-45.8M1615.8 320.5v45.8M1615.8 366.3v45.8M1615.8 412.1v45.8M1615.8 457.9v45.8M1615.8 503.7v45.8M1615.8 549.5v45.8M1617.5 595.3v-45.8M1617.5 549.5v-45.8M1617.5 503.7v-45.8M1617.5 457.9v-45.8M1617.5 412.1v-45.8M1617.5 366.3v-45.8M1618.9 320.5v183.2M1619.8 503.7v-45.8M1619.8 457.9v-45.8M1619.8 412.1v-45.8M1619.8 366.3v-45.8M1621.7 320.5v45.8M1621.7 366.3v45.8M1621.7 412.1v45.8M1621.7 457.9v45.8M1621.7 503.7v45.8M1621.7 549.5v45.8M1623 595.3v-274.8M1623.2 320.5v45.8M1623.2 366.3v45.8M1623.2 412.1v45.8M1623.2 457.9v45.8M1623.2 503.7v45.8M1625 549.5v-91.6M1626.4 457.9v45.8M1626.4 503.7v45.8M1627.8 549.5v-45.8M1627.8 503.7v-45.8M1627.8 457.9v-45.8M1629.1 412.1v137.4M1630.3 549.5v-45.8M1632.4 503.7v45.8M1633.7 549.5v-137.4M1634.7 412.1v45.8M1634.7 457.9v45.8M1634.7 503.7v45.8M1636.5 549.5v-45.8M1636.5 503.7v-45.8M1636.5 457.9v-45.8M1636.5 412.1v-45.8M1636.5 366.3v-45.8M1636.8 320.5v229M1638.3 549.5v-45.8M1638.3 503.7v-45.8M1638.3 457.9v-45.8M1638.3 412.1v-45.8M1639.5 366.3v45.8M1639.5 412.1v45.8M1639.5 457.9v45.8M1639.5 503.7v45.8M1639.8 549.5v-45.8M1639.8 503.7v-45.8M1639.8 457.9v-45.8M1639.8 412.1v-45.8M1641.8 366.3v45.8M1641.8 412.1v45.8M1641.8 457.9v45.8M1641.8 503.7v45.8M1641.8 549.5v45.8M1641.8 595.3v45.8M1642 641.1v-45.8M1642 595.3v-45.8M1642 549.5v-45.8M1642 503.7v-45.8M1642 457.9v-45.8M1643.4 412.1v45.8M1643.4 457.9v45.8M1643.4 503.7v45.8M1644.6 549.5v-45.8M1646.4 503.7v-45.8M1648.1 457.9v-45.8M1649.1 412.1v45.8M1650.8 457.9v-45.8M1650.8 412.1v-45.8M1652.4 366.3v45.8M1653.7 412.1v-45.8M1654.9 366.3v229M1656.5 595.3v-45.8M1656.5 549.5v-45.8M1656.5 503.7v-45.8M1656.8 457.9v91.6M1657.9 549.5v-45.8M1659.4 503.7v45.8M1660.9 549.5v-45.8M1660.9 503.7v-45.8M1662.4 457.9v45.8M1662.4 503.7v45.8M1663.6 549.5v-45.8M1663.6 503.7v-45.8M1663.6 457.9v-45.8M1663.6 412.1v-45.8M1665.3 366.3v183.2M1666.7 549.5v-45.8M1666.7 503.7v-45.8M1666.7 457.9v-45.8M1666.7 412.1v-45.8M1668.5 366.3v45.8M1668.5 412.1v45.8M1668.5 457.9v45.8M1669.7 503.7v-137.4M1671.2 366.3v45.8M1671.2 412.1v45.8M1671.2 457.9v45.8M1671.2 503.7v45.8M1672.9 549.5v-45.8M1672.9 503.7v-45.8M1672.9 457.9v-45.8M1672.9 412.1v-45.8M1674.1 366.3v45.8M1674.1 412.1v45.8M1674.1 457.9v45.8M1674.1 503.7v45.8M1675.1 549.5v-45.8M1675.1 503.7v-45.8M1677.1 457.9v45.8M1677.1 503.7v45.8M1678.5 549.5v-45.8M1679.8 503.7v45.8M1680 549.5v-45.8M1680 503.7v-45.8M1680 457.9v-45.8M1680 412.1v-45.8M1681.5 366.3v229M1682.7 595.3v-91.6M1684.1 503.7v-45.8M1684.1 457.9v-45.8M1685.8 412.1v-45.8M1687.2 366.3v45.8M1687.2 412.1v45.8M1687.2 457.9v45.8M1687.2 503.7v45.8M1687.2 549.5v45.8M1688 595.3v-45.8M1688 549.5v-45.8M1688 503.7v-45.8M1688 457.9v-45.8M1689.6 412.1v45.8M1689.6 457.9v45.8M1689.6 503.7v45.8M1689.6 549.5v45.8M1691 595.3v-45.8M1691 549.5v-45.8M1691 503.7v-45.8M1692.2 457.9v45.8M1693.7 503.7v-45.8M1693.7 457.9v-45.8M1693.7 412.1v-45.8M1694.9 366.3v45.8M1694.9 412.1v45.8M1694.9 457.9v45.8M1694.9 503.7v45.8M1694.9 549.5v45.8M1696.3 595.3v-45.8M1696.3 549.5v-45.8M1698.4 503.7v91.6M1699.2 595.3v-45.8M1699.2 549.5v-45.8M1699.2 503.7v-45.8M1699.2 457.9v-45.8M1699.2 412.1v-45.8M1700.7 366.3v45.8M1700.7 412.1v45.8M1700.7 457.9v45.8M1700.7 503.7v45.8M1700.7 549.5v45.8M1702.3 595.3v-45.8M1702.3 549.5v-45.8M1702.3 503.7v-45.8M1702.3 457.9v-45.8M1702.3 412.1v-45.8M1703.9 366.3v45.8M1703.9 412.1v45.8M1703.9 457.9v45.8M1703.9 503.7v45.8M1703.9 549.5v45.8M1705.1 595.3v-229M1706.6 366.3v229M1708.1 595.3v-229M1709.3 366.3v45.8M1709.3 412.1v45.8M1709.3 457.9v45.8M1710.5 503.7v-45.8M1710.5 457.9v-45.8M1710.8 412.1v45.8M1710.8 457.9v45.8M1710.8 503.7v45.8M1710.8 549.5v45.8M1710.8 595.3v45.8M1710.8 641.1v45.8M1711.5 686.9v-45.8M1711.5 641.1v-45.8M1711.5 595.3v-45.8M1711.5 549.5v-45.8M1711.5 503.7v-45.8M1711.5 457.9v-45.8M1711.5 412.1v-45.8M1711.8 366.3v45.8M1713 412.1v-45.8M1714 366.3v229M1715.5 595.3v-45.8M1715.5 549.5v-45.8M1715.5 503.7v-45.8M1715.5 457.9v-45.8M1715.5 412.1v-45.8M1715.8 366.3v45.8M1717.3 412.1v-45.8M1718.5 366.3v45.8M1718.5 412.1v45.8M1718.5 457.9v45.8M1720.1 503.7v-45.8M1720.1 457.9v-45.8M1720.1 412.1v-45.8M1721.2 366.3v45.8M1721.2 412.1v45.8M1723.2 457.9v-45.8M1723.2 412.1v-45.8M1724.5 366.3v45.8M1724.5 412.1v45.8M1724.5 457.9v45.8M1725.9 503.7v-45.8M1727.3 457.9v45.8M1728.2 503.7v-45.8M1728.2 457.9v-45.8M1728.2 412.1v-45.8M1730.2 366.3v137.4M1731.7 503.7v-45.8M1731.7 457.9v-45.8M1731.7 412.1v-45.8M1732.8 366.3v45.8M1732.8 412.1v45.8M1734 457.9v-45.8M1734 412.1v-45.8M1735.8 366.3v45.8M1735.8 412.1v45.8M1735.8 457.9v45.8M1737.2 503.7v-45.8M1737.2 457.9v-45.8M1737.2 412.1v-45.8M1738.9 366.3v45.8M1738.9 412.1v45.8M1738.9 457.9v45.8M1740 503.7v-45.8M1740 457.9v-45.8M1740.2 412.1v45.8M1740.2 457.9v45.8M1741.5 503.7v-91.6M1742.9 412.1v45.8M1744.8 457.9v-45.8M1745.8 412.1v91.6M1747 503.7v-45.8M1747 457.9v-45.8M1748.9 412.1v45.8M1750.1 457.9v-45.8M1751.6 412.1v45.8M1752.5 457.9v-45.8M1754.1 412.1v-45.8M1755.6 366.3v-45.8M1757.1 320.5v183.2M1758.4 503.7v-45.8M1758.4 457.9v-45.8M1758.4 412.1v-45.8M1760.1 366.3v45.8M1761.4 412.1v45.8M1762.7 457.9v45.8M1763.9 503.7v-45.8M1763.9 457.9v-45.8M1763.9 412.1v-45.8M1763.9 366.3v-45.8M1765.3 320.5v183.2M1766.8 503.7v-45.8M1766.8 457.9v-45.8M1766.8 412.1v-45.8M1766.8 366.3v-45.8M1768.2 320.5v45.8M1768.2 366.3v45.8M1768.2 412.1v45.8M1768.2 457.9v45.8M1768.5 503.7v-45.8M1768.5 457.9v-45.8M1768.5 412.1v-45.8M1768.5 366.3v-45.8M1770.4 320.5v45.8M1770.4 366.3v45.8M1770.4 412.1v45.8M1770.4 457.9v45.8M1770.4 503.7v45.8M1771.8 549.5v-229M1772 320.5v45.8M1772 366.3v45.8M1772 412.1v45.8M1772 457.9v45.8M1772 503.7v45.8M1773.5 549.5v-45.8M1773.5 503.7v-45.8M1773.5 457.9v-45.8M1773.5 412.1v-45.8M1773.8 366.3v45.8M1773.8 412.1v45.8M1773.8 457.9v45.8M1773.8 503.7v45.8M1773.8 549.5v45.8M1774.9 595.3v-229M1776.8 366.3v45.8M1776.8 412.1v45.8M1776.8 457.9v45.8M1776.8 503.7v45.8M1776.8 549.5v45.8M1777.9 595.3v-229M1779.4 366.3v229M1780.6 595.3v-183.2M1781.7 412.1v45.8M1781.7 457.9v45.8M1781.7 503.7v45.8M1783.2 549.5v-183.2M1784.7 366.3v45.8M1784.7 412.1v45.8M1784.7 457.9v45.8M1784.7 503.7v45.8M1784.7 549.5v45.8M1786 595.3v-45.8M1786 549.5v-45.8M1786 503.7v-45.8M1786 457.9v-45.8M1786 412.1v-45.8M1787.6 366.3v45.8M1787.6 412.1v45.8M1787.6 457.9v45.8M1787.6 503.7v45.8M1787.6 549.5v45.8M1788.7 595.3v-137.4M1790.3 457.9v137.4M1791.6 595.3v-137.4M1792.9 457.9v45.8M1792.9 503.7v45.8M1792.9 549.5v45.8M1794.5 595.3v-91.6M1795.5 503.7v45.8M1795.5 549.5v45.8M1797.1 595.3v-45.8M1797.1 549.5v-45.8M1797.1 503.7v-45.8M1797.1 457.9v-45.8M1797.1 412.1v-45.8M1798.5 366.3v45.8M1798.5 412.1v45.8M1798.5 457.9v45.8M1798.5 503.7v45.8M1798.5 549.5v45.8M1798.8 595.3v-183.2M1800.8 412.1v45.8M1800.8 457.9v45.8M1800.8 503.7v45.8M1800.8 549.5v45.8M1802.2 595.3v-45.8M1802.2 549.5v-45.8M1802.2 503.7v-45.8M1802.2 457.9v-45.8M1802.5 412.1v45.8M1802.5 457.9v45.8M1802.5 503.7v45.8M1802.5 549.5v45.8M1802.5 595.3v45.8M1802.5 641.1v45.8M1802.5 686.9v45.8M1802.5 732.7v45.8M1804.1 778.5v-274.8M1805.2 503.7v45.8M1805.2 549.5v45.8M1805.2 595.3v45.8M1805.2 641.1v45.8M1805.2 686.9v45.8M1805.2 732.7v45.8M1807 778.5v-366.4M1807.2 412.1v366.4M1809 778.5v-45.8M1809 732.7v-45.8M1809 686.9v-45.8M1809 641.1v-45.8M1809 595.3v-45.8M1809 549.5v-45.8M1809 503.7v45.8M1809 549.5v45.8M1809 595.3v45.8M1809 641.1v45.8M1809 686.9v45.8M1809 732.7v45.8M1809 778.5v45.8M1810 824.3v-320.6M1810 503.7v274.8M1811.1 778.5v-45.8M1811.1 732.7v-45.8M1812.7 686.9v45.8M1812.7 732.7v45.8M1813.9 778.5v-274.8M1815.5 503.7v229M1816.9 732.7v-45.8M1816.9 686.9v-45.8M1816.9 641.1v-45.8M1816.9 595.3v-45.8M1818 549.5v45.8M1818 595.3v45.8M1818 641.1v45.8M1818 686.9v45.8M1818 732.7v45.8M1819.3 778.5v-45.8M1819.3 732.7v-45.8M1819.3 686.9v-45.8M1819.3 641.1v-45.8M1819.3 595.3v-45.8M1819.3 549.5v-45.8M1820.7 503.7v45.8M1822.1 549.5v45.8M1822.1 595.3v45.8M1822.1 641.1v45.8M1822.1 686.9v45.8M1823.5 732.7v45.8M1823.8 778.5v-45.8M1823.8 732.7v-45.8M1823.8 686.9v-45.8M1823.8 641.1v-45.8M1823.8 595.3v-45.8M1823.8 549.5v-45.8M1823.8 503.7v-45.8M1825 457.9v45.8M1825 503.7v45.8M1825 549.5v45.8M1825 595.3v45.8M1825 641.1v45.8M1825 686.9v45.8M1825 732.7v45.8M1825.2 778.5v-45.8M1825.2 732.7v-45.8M1825.2 686.9v-45.8M1825.2 641.1v-45.8M1825.2 595.3v-45.8M1825.2 549.5v-45.8M1825.2 503.7v-45.8M1826.7 457.9v45.8M1826.7 503.7v45.8M1826.7 549.5v45.8M1826.7 595.3v45.8M1826.7 641.1v45.8M1826.7 686.9v45.8M1826.7 732.7v45.8M1826.7 778.5v45.8M1826.7 824.3v45.8M1828.5 870.1v-45.8M1828.5 824.3v-45.8M1828.5 778.5v-45.8M1828.5 732.7v-45.8M1828.5 686.9v-45.8M1828.5 641.1v-45.8M1828.5 595.3v-45.8M1828.5 549.5v-45.8M1828.5 503.7v-45.8M1828.8 457.9v45.8M1828.8 503.7v45.8M1828.8 549.5v45.8M1828.8 595.3v45.8M1828.8 641.1v45.8M1829.9 686.9v-229M1831.2 457.9v45.8M1831.2 503.7v45.8M1831.2 549.5v45.8M1831.2 595.3v45.8M1831.2 641.1v45.8M1831.5 686.9v-45.8M1831.5 641.1v-45.8M1831.5 595.3v-45.8M1831.5 549.5v-45.8M1831.5 503.7v-45.8M1832.9 457.9v45.8M1832.9 503.7v45.8M1832.9 549.5v45.8M1832.9 595.3v45.8M1834.2 641.1v-45.8M1834.2 595.3v-45.8M1835.7 549.5v45.8M1836.5 595.3v-45.8M1836.5 549.5v-45.8M1838.2 503.7v45.8M1838.2 549.5v45.8M1838.2 595.3v45.8M1839.2 641.1v-45.8M1839.5 595.3v-45.8M1839.5 549.5v-45.8M1839.5 503.7v-45.8M1841.3 457.9v91.6M1842.8 549.5v-45.8M1842.8 503.7v-45.8M1844.1 457.9v45.8M1844.1 503.7v45.8M1845.2 549.5v-45.8M1845.2 503.7v-45.8M1846.8 457.9v45.8M1846.8 503.7v45.8M1848.5 549.5v-91.6M1848.8 457.9v45.8M1850.4 503.7v-45.8M1851.6 457.9v45.8M1851.6 503.7v45.8M1852.7 549.5v-45.8M1854.4 503.7v45.8M1855.8 549.5v-45.8M1855.8 503.7v-45.8M1856 457.9v45.8M1856 503.7v45.8M1857.4 549.5v-45.8M1857.4 503.7v-45.8M1857.4 457.9v-45.8M1858.5 412.1v45.8M1858.5 457.9v45.8M1858.5 503.7v45.8M1858.8 549.5v-45.8M1859.7 503.7v45.8M1861.3 549.5v-45.8M1861.3 503.7v-45.8M1861.3 457.9v-45.8M1861.3 412.1v-45.8M1862.6 366.3v45.8M1862.6 412.1v45.8M1862.6 457.9v45.8M1862.6 503.7v45.8M1863.8 549.5v-45.8M1863.8 503.7v-45.8M1863.8 457.9v-45.8M1863.8 412.1v-45.8M1865.2 366.3v183.2M1865.5 549.5v-183.2M1867 366.3v45.8M1867 412.1v45.8M1867 457.9v45.8M1868.4 503.7v-45.8M1868.4 457.9v-45.8M1868.4 412.1v-45.8M1869.8 366.3v183.2M1871.5 549.5v-45.8M1871.5 503.7v-45.8M1871.5 457.9v-45.8M1871.5 412.1v-45.8M1873.1 366.3v229M1874.5 595.3v-45.8M1874.5 549.5v-45.8M1874.5 503.7v-45.8M1874.8 457.9v183.2M1876.2 641.1v-45.8M1876.2 595.3v-45.8M1876.2 549.5v-45.8M1876.2 503.7v-45.8M1876.2 457.9v-45.8M1876.2 412.1v-45.8M1876.5 366.3v45.8M1878.1 412.1v-45.8M1879.3 366.3v183.2M1880.9 549.5v-183.2M1882 366.3v45.8M1882 412.1v45.8M1882 457.9v45.8M1883.2 503.7v-45.8M1883.2 457.9v-45.8M1883.2 412.1v-45.8M1884.6 366.3v45.8M1884.6 412.1v45.8M1886.3 457.9v-45.8M1887.7 412.1v45.8M1889.2 457.9v-45.8M1890.3 412.1v45.8M1890.3 457.9v45.8M1890.3 503.7v45.8M1891.7 549.5v-137.4M1893.2 412.1v137.4M1894.5 549.5v-45.8M1894.5 503.7v-45.8M1894.5 457.9v-45.8M1894.5 412.1v-45.8M1894.8 366.3v229M1895.5 595.3v-229M1895.8 366.3v183.2M1897.5 549.5v-45.8M1897.5 503.7v-45.8M1897.5 457.9v-45.8M1898.5 412.1v45.8M1898.5 457.9v45.8M1898.5 503.7v45.8M1899.9 549.5v-45.8M1899.9 503.7v-45.8M1901.7 457.9v45.8M1901.7 503.7v45.8M1903 549.5v-45.8M1904.1 503.7v45.8M1905.7 549.5v-183.2M1907.2 366.3v45.8M1907.2 412.1v45.8M1907.2 457.9v45.8M1908.8 503.7v-137.4M1909 366.3v183.2M1910.1 549.5v-91.6M1912.2 457.9v45.8M1912.2 503.7v45.8M1913.2 549.5v-45.8M1913.2 503.7v-45.8M1913.2 457.9v-45.8M1913.5 412.1v45.8M1913.5 457.9v45.8M1913.5 503.7v45.8M1913.5 549.5v45.8M1913.5 595.3v45.8M1913.5 641.1v45.8M1913.5 686.9v45.8M1913.5 732.7v45.8M1915.5 778.5v-45.8M1915.5 732.7v-45.8M1915.5 686.9v-45.8M1915.5 641.1v-45.8M1915.5 595.3v-45.8M1915.5 549.5v-45.8M1915.5 503.7v-45.8M1915.5 457.9v-45.8M1915.8 412.1v183.2M1917.4 595.3v-45.8M1918.2 549.5v45.8M1918.2 595.3v45.8M1919.7 641.1v-137.4M1921.3 503.7v137.4M1922.7 641.1v-45.8M1922.7 595.3v-45.8M1922.7 549.5v-45.8M1922.7 503.7v-45.8M1922.7 457.9v-45.8M1924 412.1v45.8M1924 457.9v45.8M1924 503.7v45.8M1924 549.5v45.8M1924 595.3v45.8M1925.2 641.1v-183.2M1926.9 457.9v45.8M1926.9 503.7v45.8M1926.9 549.5v45.8M1926.9 595.3v45.8M1928.3 641.1v-45.8M1928.3 595.3v-45.8M1928.3 549.5v-45.8M1928.3 503.7v-45.8M1928.3 457.9v-45.8M1929.1 412.1v91.6M1930.8 503.7v-45.8M1930.8 457.9v-45.8M1932 412.1v45.8M1932 457.9v45.8M1932 503.7v45.8M1932 549.5v45.8M1932 595.3v45.8M1933.5 641.1v-45.8M1933.5 595.3v-45.8M1933.5 549.5v-45.8M1933.5 503.7v-45.8M1933.5 457.9v-45.8M1933.5 412.1v45.8M1933.5 457.9v45.8M1933.5 503.7v45.8M1933.5 549.5v45.8M1933.5 595.3v45.8M1933.5 641.1v45.8M1933.5 686.9v45.8M1933.5 732.7v45.8M1933.5 778.5v45.8M1934 824.3v-45.8M1934 778.5v-45.8M1934 732.7v-45.8M1934 686.9v-45.8M1934 641.1v-45.8M1934 595.3v-45.8M1934 549.5v-45.8M1934 503.7v-45.8M1934 457.9v-45.8M1934 412.1v183.2M1935.5 595.3v-45.8M1936.8 549.5v45.8M1938.4 595.3v-45.8M1940.1 549.5v45.8M1940.1 595.3v45.8M1940.1 641.1v45.8M1940.1 686.9v45.8M1940.1 732.7v45.8M1940.1 778.5v45.8M1941.5 824.3v-45.8M1941.5 778.5v-45.8M1941.5 732.7v-45.8M1941.5 686.9v-45.8M1941.5 641.1v-45.8M1941.5 595.3v-45.8M1941.8 549.5v320.6M1943.1 870.1v-320.6M1944.4 549.5v91.6M1945.9 641.1v-45.8M1945.9 595.3v-45.8M1946.7 549.5v45.8M1946.7 595.3v45.8M1946.7 641.1v45.8M1946.7 686.9v45.8M1946.7 732.7v45.8M1946.7 778.5v45.8M1946.7 824.3v45.8M1948.2 870.1v-45.8M1948.2 824.3v-45.8M1948.5 778.5v45.8M1948.5 824.3v45.8M1948.5 870.1v45.8M1948.5 915.9v45.8M1948.5 961.7v45.8M1949.9 1007.5v-458M1951.8 549.5v45.8M1951.8 595.3v45.8M1951.8 641.1v45.8M1951.8 686.9v45.8M1951.8 732.7v45.8M1951.8 778.5v45.8M1951.8 824.3v45.8M1951.8 870.1v45.8M1951.8 915.9v45.8M1951.8 961.7v45.8M1952 1007.5v-45.8M1952 961.7v-45.8M1952 915.9v-45.8M1952 870.1v-45.8M1952 824.3v-45.8M1952 778.5v-45.8M1952 732.7v-45.8M1952 686.9v-45.8M1952 641.1v-45.8M1953.1 595.3v45.8M1955 641.1v-45.8M1955 595.3v-45.8M1956.2 549.5v91.6M1956.5 641.1v-183.2M1958.1 457.9v137.4M1959.1 595.3v-45.8M1959.1 549.5v-45.8M1959.1 503.7v-45.8M1960.4 457.9v45.8M1960.4 503.7v45.8M1960.4 549.5v45.8M1960.4 595.3v45.8M1962.4 641.1v-45.8M1962.4 595.3v-45.8M1963.6 549.5v45.8M1964.9 595.3v-45.8M1966.5 549.5v45.8M1966.5 595.3v45.8M1968.1 641.1v-45.8M1968.1 595.3v-45.8M1968.1 549.5v-45.8M1968.1 503.7v-45.8M1969.1 457.9v137.4M1971 595.3v-45.8M1972.1 549.5v45.8M1972.1 595.3v45.8M1973.5 641.1v-45.8M1973.8 595.3v-45.8M1973.8 549.5v-45.8M1973.8 503.7v-45.8M1973.8 457.9v-45.8M1973.8 412.1v-45.8M1974.9 366.3v45.8M1974.9 412.1v45.8M1974.9 457.9v45.8M1976.7 503.7v-137.4M1978.3 366.3v45.8M1978.3 412.1v45.8M1979.5 457.9v-45.8M1981.1 412.1v45.8M1981.1 457.9v45.8M1981.1 503.7v45.8M1981.1 549.5v45.8M1981.1 595.3v45.8M1982.1 641.1v-274.8M1984.3 366.3v45.8M1984.3 412.1v45.8M1984.3 457.9v45.8M1984.3 503.7v45.8M1984.3 549.5v45.8M1984.3 595.3v45.8M1985.7 641.1v-45.8M1987.1 595.3v45.8M1988.6 641.1v-45.8M1989.8 595.3v-45.8M1989.8 549.5v-45.8M1990 503.7v45.8M1990 549.5v45.8M1990 595.3v45.8M1990 641.1v45.8M1990 686.9v45.8M1991.8 732.7v-45.8M1991.8 686.9v-45.8M1991.8 641.1v-45.8M1991.8 595.3v-45.8M1991.8 549.5v-45.8M1991.8 503.7v-45.8M1991.8 457.9v-45.8M1991.8 412.1v-45.8M1993.2 366.3v45.8M1993.2 412.1v45.8M1993.2 457.9v45.8M1993.2 503.7v45.8M1993.2 549.5v45.8M1993.2 595.3v45.8M1993.2 641.1v45.8M1993.2 686.9v45.8M1993.5 732.7v-366.4M1994.7 366.3v45.8M1994.7 412.1v45.8M1994.7 457.9v45.8M1994.7 503.7v45.8M1994.7 549.5v45.8M1994.7 595.3v45.8M1996.3 641.1v-45.8M1996.3 595.3v-45.8M1996.3 549.5v-45.8M1996.3 503.7v-45.8M1996.3 457.9v-45.8M1997.2 412.1v45.8M1997.2 457.9v45.8M1997.2 503.7v45.8M1997.2 549.5v45.8M1997.2 595.3v45.8M1997.2 641.1v-45.8M1997.2 595.3v-45.8M1997.2 549.5v-45.8M1997.2 503.7v-45.8M1997.2 457.9v-45.8M1997.2 412.1v-45.8M1998 366.3v137.4M1998 503.7v-45.8M1998 457.9v-45.8M1998 412.1v-45.8M1998 366.3v-45.8M1999.3 320.5v45.8M1999.3 366.3v45.8M1999.3 412.1v45.8M1999.3 457.9v45.8M2000.6 503.7v-45.8M2000.6 457.9v-45.8M2000.6 412.1v-45.8M2000.6 366.3v-45.8M2002.1 320.5v45.8M2002.1 366.3v45.8M2002.1 412.1v45.8M2002.1 457.9v45.8M2003.4 503.7v-45.8M2003.4 457.9v-45.8M2003.4 412.1v-45.8M2003.4 366.3v-45.8M2004.8 320.5v45.8M2004.8 366.3v45.8M2004.8 412.1v45.8M2004.8 457.9v45.8M2006 503.7v-45.8M2006 457.9v-45.8M2006 412.1v-45.8M2006 366.3v-45.8M2007.6 320.5v45.8M2007.6 366.3v45.8M2007.6 412.1v45.8M2007.6 457.9v45.8M2009.5 503.7v-45.8M2009.5 457.9v-45.8M2009.5 412.1v-45.8M2010.4 366.3v45.8M2010.4 412.1v45.8M2010.4 457.9v45.8M2012.1 503.7v-45.8M2012.1 457.9v-45.8M2012.1 412.1v-45.8M2012.1 366.3v-45.8M2013.6 320.5v45.8M2013.6 366.3v45.8M2013.6 412.1v45.8M2013.6 457.9v45.8M2014.8 503.7v-45.8M2014.8 457.9v-45.8M2014.8 412.1v-45.8M2014.8 366.3v-45.8M2016.3 320.5v45.8M2016.3 366.3v45.8M2016.3 412.1v45.8M2016.3 457.9v45.8M2017.6 503.7v-45.8M2017.6 457.9v-45.8M2017.6 412.1v-45.8M2017.6 366.3v-45.8M2018.8 320.5v45.8M2020.2 366.3v-45.8M2021.8 320.5v45.8M2021.8 366.3v45.8M2021.8 412.1v45.8M2021.8 457.9v45.8M2022 503.7v-183.2M2024 320.5v229M2024.2 549.5v-45.8M2024.2 503.7v-45.8M2024.2 457.9v-45.8M2025.5 412.1v45.8M2025.5 457.9v45.8M2025.5 503.7v45.8M2027.1 549.5v-45.8M2027.1 503.7v-45.8M2027.1 457.9v-45.8M2027.1 412.1v-45.8M2028.1 366.3v45.8M2028.1 412.1v45.8M2028.1 457.9v45.8M2028.1 503.7v45.8M2029.8 549.5v-183.2M2031 366.3v45.8M2031 412.1v45.8M2031 457.9v45.8M2031 503.7v45.8M2032.1 549.5v-45.8M2032.1 503.7v-45.8M2032.1 457.9v-45.8M2032.1 412.1v-45.8M2033.5 366.3v45.8M2033.5 412.1v45.8M2033.5 457.9v45.8M2033.5 503.7v45.8M2033.8 549.5v-45.8M2033.8 503.7v-45.8M2033.8 457.9v-45.8M2035.3 412.1v45.8M2035.3 457.9v45.8M2036.2 503.7v-45.8M2037.7 457.9v-45.8M2039.4 412.1v45.8M2040.6 457.9v-45.8M2042.2 412.1v45.8M2043.1 457.9v-45.8M2044.4 412.1v45.8M2046 457.9v45.8M2046.2 503.7v-45.8M2047.8 457.9v45.8M2047.8 503.7v45.8M2049.2 549.5v-45.8M2049.2 503.7v-45.8M2049.2 457.9v-45.8M2049.2 412.1v-45.8M2050.4 366.3v183.2M2052.3 549.5v-45.8M2052.3 503.7v-45.8M2052.3 457.9v-45.8M2053.3 412.1v137.4M2054.7 549.5v-45.8M2054.7 503.7v-45.8M2054.7 457.9v-45.8M2056.5 412.1v45.8M2056.8 457.9v-45.8M2056.8 412.1v-45.8M2056.8 366.3v-45.8M2057.7 320.5v45.8M2057.7 366.3v45.8M2057.7 412.1v45.8M2057.7 457.9v45.8M2057.7 503.7v45.8M2059.2 549.5v-229M2059.5 320.5v274.8M2060.2 595.3v-45.8M2060.2 549.5v-45.8M2060.2 503.7v-45.8M2060.2 457.9v-45.8M2060.2 412.1v-45.8M2060.2 366.3v-45.8M2060.5 320.5v45.8M2060.5 366.3v45.8M2060.5 412.1v45.8M2060.5 457.9v45.8M2060.5 503.7v45.8M2061.9 549.5v-45.8M2061.9 503.7v-45.8M2061.9 457.9v-45.8M2061.9 412.1v-45.8M2061.9 366.3v-45.8M2063.5 320.5v45.8M2063.5 366.3v45.8M2063.5 412.1v45.8M2063.5 457.9v45.8M2063.5 503.7v45.8M2064.5 549.5v-45.8M2064.5 503.7v-45.8M2064.5 457.9v-45.8M2064.5 412.1v-45.8M2064.5 366.3v-45.8M2066.6 320.5v91.6M2067.8 412.1v-45.8M2067.8 366.3v-45.8M2069.2 320.5v229M2070.4 549.5v-229M2072.3 320.5v45.8M2072.3 366.3v45.8M2072.3 412.1v45.8M2072.3 457.9v45.8M2072.3 503.7v45.8M2073.6 549.5v-45.8M2073.6 503.7v-45.8M2073.6 457.9v-45.8M2073.6 412.1v-45.8M2073.6 366.3v-45.8M2074.8 320.5v229M2076.4 549.5v-45.8M2078.1 503.7v45.8M2079.5 549.5v-183.2M2080.8 366.3v91.6M2081 457.9v229M2082.1 686.9v-45.8M2082.1 641.1v-45.8M2082.1 595.3v-45.8M2082.1 549.5v-45.8M2082.1 503.7v-45.8M2082.1 457.9v-45.8M2082.1 412.1v-45.8M2083.6 366.3v320.6M2084.8 686.9v-366.4M2085 320.5v412.2M2086 732.7v-45.8M2086 686.9v-45.8M2086 641.1v-45.8M2086 595.3v-45.8M2086 549.5v-45.8M2086 503.7v-45.8M2086 457.9v-45.8M2086 412.1v-45.8M2086 366.3v-45.8M2087.3 320.5v45.8M2087.3 366.3v45.8M2087.3 412.1v45.8M2087.3 457.9v45.8M2087.3 503.7v45.8M2087.3 549.5v45.8M2087.3 595.3v45.8M2087.3 641.1v45.8M2087.3 686.9v45.8M2088.8 732.7v-45.8M2088.8 686.9v-45.8M2089 641.1v-45.8M2089 595.3v-45.8M2089 549.5v-45.8M2089 503.7v-45.8M2089 457.9v-45.8M2089 412.1v-45.8M2089 366.3v-45.8M2091 320.5v458M2091.2 778.5v-45.8M2091.2 732.7v-45.8M2091.2 686.9v-45.8M2091.2 641.1v-45.8M2091.2 595.3v-45.8M2091.2 549.5v-45.8M2091.2 503.7v-45.8M2091.2 457.9v-45.8M2092.5 412.1v-45.8M2093.7 366.3v-45.8M2095.1 320.5v45.8M2095.1 366.3v45.8M2095.1 412.1v45.8M2095.1 457.9v45.8M2095.1 503.7v45.8M2095.1 549.5v45.8M2095.1 595.3v45.8M2095.1 641.1v45.8M2096.2 686.9v-45.8M2096.2 641.1v-45.8M2096.2 595.3v-45.8M2096.2 549.5v-45.8M2096.2 503.7v-45.8M2096.2 457.9v-45.8M2096.2 412.1v-45.8M2096.2 366.3v-45.8M2096.5 320.5v45.8M2096.5 366.3v45.8M2096.5 412.1v45.8M2096.5 457.9v45.8M2096.5 503.7v45.8M2096.5 549.5v45.8M2096.5 595.3v45.8M2098.2 641.1v-45.8M2098.2 595.3v-45.8M2098.2 549.5v-45.8M2098.2 503.7v-45.8M2098.2 457.9v-45.8M2099.5 412.1v45.8M2099.5 457.9v45.8M2099.5 503.7v45.8M2099.5 549.5v45.8M2099.5 595.3v45.8M2100.5 641.1v-45.8M2100.5 595.3v-45.8M2100.5 549.5v-45.8M2101.7 503.7v45.8M2101.7 549.5v45.8M2101.7 595.3v45.8M2103.6 641.1v-45.8M2103.6 595.3v-45.8M2103.6 549.5v-45.8M2103.6 503.7v-45.8M2103.6 457.9v-45.8M2104.5 412.1v45.8M2104.5 457.9v45.8M2104.5 503.7v45.8M2104.5 549.5v45.8M2104.5 595.3v45.8M2106.2 641.1v-45.8M2106.2 595.3v-45.8M2106.2 549.5v-45.8M2106.2 503.7v-45.8M2106.2 457.9v-45.8M2106.2 412.1v-45.8M2106.2 366.3v-45.8M2107.4 320.5v320.6M2108.8 641.1v-45.8M2108.8 595.3v-45.8M2108.8 549.5v-45.8M2108.8 503.7v-45.8M2108.8 457.9v-45.8M2108.8 412.1v-45.8M2108.8 366.3v-45.8M2109 320.5v45.8M2109 366.3v45.8M2109 412.1v45.8M2109 457.9v45.8M2109 503.7v45.8M2109 549.5v45.8M2109 595.3v45.8M2109 641.1v45.8M2109 686.9v45.8M2109 732.7v45.8M2109 778.5v45.8M2109 824.3v45.8M2109 870.1v45.8M2109 915.9v45.8M2109 961.7v45.8M2109 1007.5v45.8M2109 1053.3v45.8M2109 1099.1v45.8M2109 1144.9v45.8M2109 1190.7v45.8M2109 1236.5v45.8M2109 1282.3v45.8M2109 1328.1v45.8M2109 1373.9v45.8M2111.2 320.5v45.8M2111.2 366.3v45.8M2111.2 412.1v45.8M2111.2 457.9v45.8M2111.2 503.7v45.8M2111.2 549.5v45.8M2111.2 595.3v45.8M2112.6 641.1v-320.6M2114.4 320.5v320.6M2115.7 641.1v-91.6M2117.1 549.5v45.8M2117.1 595.3v45.8M2118 641.1v-45.8M2118 595.3v-45.8M2118 549.5v-45.8M2118 503.7v-45.8M2118 457.9v-45.8M2118 412.1v-45.8M2118 366.3v-45.8M2119.6 320.5v45.8M2119.6 366.3v45.8M2119.6 412.1v45.8M2119.6 457.9v45.8M2119.6 503.7v45.8M2119.6 549.5v45.8M2119.6 595.3v45.8M2121.1 641.1v-45.8M2121.1 595.3v-45.8M2121.1 549.5v-45.8M2121.1 503.7v-45.8M2121.1 457.9v-45.8M2121.1 412.1v-45.8M2121.1 366.3v-45.8M2122.6 320.5v320.6M2123.7 641.1v-45.8M2123.7 595.3v-45.8M2123.7 549.5v-45.8M2123.7 503.7v-45.8M2123.7 457.9v-45.8M2123.7 412.1v-45.8M2124.9 366.3v45.8M2124.9 412.1v45.8M2124.9 457.9v45.8M2124.9 503.7v45.8M2124.9 549.5v45.8M2124.9 595.3v45.8M2126.2 641.1v-45.8M2126.2 595.3v-45.8M2126.2 549.5v-45.8M2126.2 503.7v-45.8M2126.2 457.9v-45.8M2126.2 412.1v-45.8M2126.2 366.3v-45.8M2128.2 320.5v45.8M2128.2 366.3v45.8M2128.2 412.1v45.8M2128.2 457.9v45.8M2129.4 503.7v-137.4M2130.7 366.3v229M2132.2 595.3v-45.8M2132.2 549.5v-45.8M2133.3 503.7v-45.8M2134.6 457.9v45.8M2134.6 503.7v45.8M2134.6 549.5v45.8M2136.1 595.3v45.8M2137.9 641.1v-45.8M2137.9 595.3v-45.8M2137.9 549.5v-45.8M2137.9 503.7v-45.8M2137.9 457.9v-45.8M2139 412.1v45.8M2139 457.9v45.8M2140.5 503.7v-45.8M2140.5 457.9v-45.8M2140.5 412.1v-45.8M2140.5 366.3v-45.8M2141.8 320.5v320.6M2142 641.1v-45.8M2142 595.3v-45.8M2142 549.5v-45.8M2142 503.7v-45.8M2142 457.9v-45.8M2142 412.1v-45.8M2143.1 366.3v45.8M2144.6 412.1v45.8M2144.6 457.9v45.8M2144.6 503.7v45.8M2146.2 549.5v45.8M2146.2 595.3v45.8M2146.5 641.1v412.2M2147.5 366.3v45.8M2147.5 412.1v45.8M2147.5 457.9v45.8M2147.5 503.7v45.8M2147.5 549.5v45.8M2147.5 595.3v45.8M2147.5 641.1v45.8M2147.5 686.9v45.8M2147.5 732.7v45.8M2147.5 778.5v45.8M2147.5 824.3v45.8M2147.5 870.1v45.8M2147.5 915.9v45.8M2147.5 961.7v45.8M2147.5 1007.5v45.8M2150 412.1v45.8M2150 457.9v45.8M2150 503.7v45.8M2150 549.5v45.8M2150 595.3v45.8M2150 641.1v45.8M2150 686.9v45.8M2150 732.7v45.8M2150 778.5v45.8M2150 824.3v45.8M2150 870.1v45.8M2150 915.9v45.8M2150 961.7v45.8M2150 1007.5v45.8M2151.9 412.1v45.8M2153 457.9v-45.8M2154.9 412.1v45.8M2156.1 457.9v-45.8M2157.4 412.1v45.8M2159 457.9v-45.8M2160.3 412.1v45.8M2162.1 457.9v-45.8M2163.2 412.1v45.8M2164.6 457.9v-45.8M2166.3 412.1v45.8M2167.8 457.9v-45.8M2168 412.1v45.8M2169.1 457.9v-45.8M2170.6 412.1v45.8M2170.6 457.9v45.8M2172.3 503.7v-45.8M2172.3 457.9v-45.8M2173.7 412.1v45.8M2173.7 457.9v45.8M2175 503.7v-45.8M2175 457.9v-45.8M2176.1 412.1v45.8M2176.1 457.9v45.8M2177.5 503.7v-45.8M2177.5 457.9v-45.8M2179.4 412.1v45.8M2180.6 457.9v-45.8M2182 412.1v45.8M2182.2 457.9v-45.8M2184 412.1v45.8M2185.2 457.9v-45.8M2186.6 412.1v45.8M2187.6 457.9v-45.8M2189.4 412.1v45.8M2190.1 457.9v-45.8M2192 412.1v45.8M2193.2 457.9v-45.8M2194.8 412.1v45.8M2196 457.9v-45.8M2197.5 412.1v45.8M2198.7 457.9v-45.8M2200 412.1v45.8M2200.2 457.9v45.8M2202 503.7v-45.8M2202 457.9v-45.8M2201.9 412.1v45.8M2202.8 457.9v-45.8M2202.8 412.1v45.8M2204.6 457.9v-91.6M2205.9 366.3v91.6M2207.4 457.9v-91.6M2208.6 366.3v45.8M2210.2 412.1v-45.8M2211.6 366.3v45.8M2211.6 412.1v45.8M2213.3 457.9v-91.6M2214.3 366.3v91.6M2215.6 457.9v-45.8M2215.6 412.1v-45.8M2217.2 366.3v45.8M2217.2 412.1v45.8M2218.8 457.9v-91.6M2218.7 366.3v45.8M2218.7 412.1v45.8M2218.7 457.9v45.8M2219.8 503.7v-45.8M2219.8 457.9v-45.8M2219.8 412.1v-45.8M2219.8 366.3v91.6M2221.4 457.9v-91.6M2222.4 366.3v45.8M2222.4 412.1v45.8M2224 457.9v-45.8M2224 412.1v-45.8M2225.5 366.3v45.8M2225.5 412.1v45.8M2226.6 457.9v-45.8M2226.6 412.1v-45.8M2228.1 366.3v45.8M2228.1 412.1v45.8M2229.8 457.9v-45.8M2230.6 412.1v45.8M2232.4 457.9v-45.8M2232.4 412.1v-45.8M2233.8 366.3v91.6M2235.2 457.9v-45.8M2235.2 412.1v-45.8M2236.4 366.3v91.6M2237.5 457.9v-91.6M2239.3 366.3v45.8M2239.3 412.1v45.8M2241 457.9v-91.6M2242.2 366.3v45.8M2243.6 412.1v-45.8M2245 366.3v45.8M2246.1 412.1v-45.8M2247.5 366.3v45.8M2248.9 412.1v-45.8M2250.6 366.3v45.8M2251.8 412.1v-45.8M2252 366.3v45.8M2252 412.1v45.8M2253.5 457.9v-45.8M2253.5 412.1v-45.8M2253.5 366.3v-45.8"/>
<rect x="567.1" y="115.1" width="1420" height="119.8" fill="#fff" stroke="#262626" stroke-width="13.5"/>
<path class="s" stroke="#0072BD" d="M592.8 173 H794.9"/>
<path class="s" stroke="#D95319" stroke-dasharray="27.6 26" d="M907 173 H1109"/>
<path class="s" stroke="#EDB120" stroke-dasharray="7.5 5.9" d="M1217.9 173 H1413.2"/>
<path class="s" stroke="#7E2F8E" stroke-dasharray="28 5.8 13.8 5.8" d="M1528.4 173 H1730.1"/>
<text class="lg" x="812.5" y="200">G</text>
<text class="lg" x="1126.3" y="200">R</text>
<text class="lg" x="1436.7" y="200">C</text>
<text class="lg" x="1748.4" y="200">G/R/C</text>
<text class="tk" text-anchor="middle" x="296.7" y="1582">0</text>
<text class="tk" text-anchor="middle" x="634.0" y="1582">0.5</text>
<text class="tk" text-anchor="middle" x="971.2" y="1582">1</text>
<text class="tk" text-anchor="middle" x="1308.5" y="1582">1.5</text>
<text class="tk" text-anchor="middle" x="1645.7" y="1582">2</text>
<text class="tk" text-anchor="middle" x="1983.0" y="1582">2.5</text>
<text class="tk" text-anchor="end" x="259" y="1493.8">0</text>
<text class="tk" text-anchor="end" x="259" y="1264.8">5</text>
<text class="tk" text-anchor="end" x="259" y="1035.8">10</text>
<text class="tk" text-anchor="end" x="259" y="806.8">15</text>
<text class="tk" text-anchor="end" x="259" y="577.8">20</text>
<text class="tk" text-anchor="end" x="259" y="348.8">25</text>
<text class="tk" text-anchor="end" x="259" y="119.8">30</text>
<text class="lb" text-anchor="middle" x="1273" y="1705.2">Time/h</text>
<text class="lb" text-anchor="middle" transform="translate(122.3 779.5) rotate(-90) scale(1.0075 .96)">The number of satellites</text>
</svg>
</body></html>
